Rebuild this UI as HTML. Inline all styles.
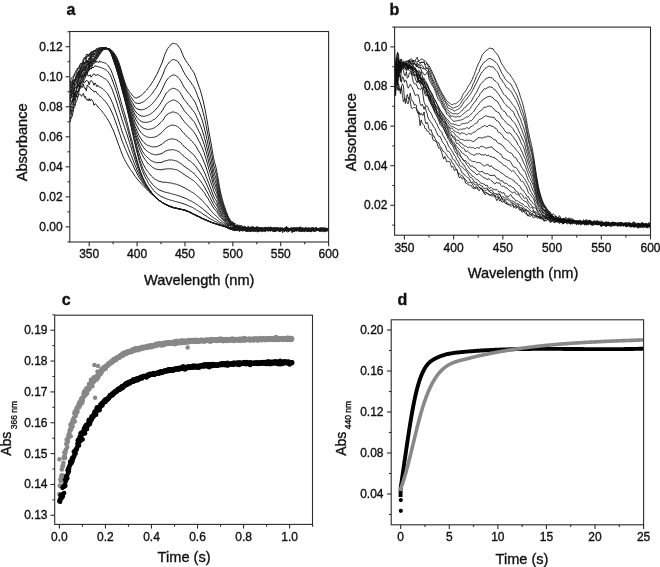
<!DOCTYPE html>
<html><head><meta charset="utf-8"><style>
html,body{margin:0;padding:0;background:#fff;}
body{width:660px;height:567px;position:relative;overflow:hidden;font-family:"Liberation Sans", sans-serif;}
text{stroke:#111;stroke-width:0.35px;}
</style></head><body>
<svg width="660" height="567" viewBox="0 0 660 567" style="position:absolute;left:0;top:0;will-change:transform" font-family='"Liberation Sans", sans-serif' fill="#111">
<defs>
<clipPath id="ca"><rect x="70" y="31.5" width="258.6" height="210.5"/></clipPath>
<clipPath id="cb"><rect x="394.6" y="27.1" width="255.9" height="208.1"/></clipPath>
<clipPath id="cc"><rect x="54.7" y="315.2" width="257.8" height="209.2"/></clipPath>
<clipPath id="cd"><rect x="391.2" y="319.8" width="252.4" height="205"/></clipPath>
</defs>
<g clip-path="url(#ca)">
<polyline points="70.05,100.95 71.01,101.1 71.96,101.4 72.92,99.74 73.88,100.03 74.84,97.36 75.79,94.3 76.75,97.27 77.71,97.01 78.67,94.46 79.62,94.38 80.58,94.59 81.54,96.35 82.5,94.52 83.45,93.25 84.41,97.5 85.37,96.29 86.33,99.67 87.28,99.17 88.24,100.93 89.2,98.52 90.16,101.01 91.12,99.11 92.07,100.17 93.03,101.56 93.99,105.21 94.95,103.79 95.9,104.27 96.86,105.16 97.82,107.19 98.78,107.63 99.73,108.85 100.69,109.87 101.65,110.86 102.61,112.31 103.56,113.46 104.52,114.62 105.48,116.12 106.44,117.46 107.39,118.9 108.35,120.48 109.31,122.32 110.27,123.97 111.22,125.74 112.18,128.11 113.14,129.95 114.1,132.35 115.06,134.98 116.01,137.31 116.97,140.13 117.93,142.96 118.89,145.4 119.84,148.01 120.8,150.76 121.76,153.23 122.72,155.71 123.67,157.75 124.63,159.57 125.59,161.61 126.55,163.2 127.5,164.89 128.46,166.35 129.42,167.99 130.38,169.35 131.33,170.72 132.29,171.99 133.25,173.34 134.21,174.99 135.16,176.25 136.12,177.36 137.08,178.93 138.04,179.97 139,181.11 139.95,182.1 140.91,183.27 141.87,184.47 142.83,185.51 143.78,186.5 144.74,187.26 145.7,188.45 146.66,189.37 147.61,190.21 148.57,191.18 149.53,192.09 150.49,193.11 151.44,193.89 152.4,194.86 153.36,195.57 154.32,196.52 155.27,197.46 156.23,198.21 157.19,199.11 158.15,199.68 159.1,200.47 160.06,201.04 161.02,201.89 161.98,202.31 162.94,203.15 163.89,203.77 164.85,204.13 165.81,204.73 166.77,205.12 167.72,205.35 168.68,206.18 169.64,206.57 170.6,206.86 171.55,207.17 172.51,207.55 173.47,207.82 174.43,207.93 175.38,208.15 176.34,208.52 177.3,208.59 178.26,208.76 179.21,209.09 180.17,209.15 181.13,209.53 182.09,209.55 183.04,209.91 184,210.19 184.96,210.56 185.92,210.81 186.88,211.37 187.83,211.65 188.79,211.9 189.75,212.66 190.71,212.8 191.66,213.62 192.62,213.82 193.58,214.51 194.54,214.79 195.49,215.33 196.45,216 197.41,216.13 198.37,216.57 199.32,217.21 200.28,217.69 201.24,218.13 202.2,218.66 203.15,218.84 204.11,219.46 205.07,219.81 206.03,220.3 206.98,220.67 207.94,221.14 208.9,221.21 209.86,221.76 210.82,221.99 211.77,222.46 212.73,222.89 213.69,223.19 214.65,223.54 215.6,223.8 216.56,224.16 217.52,224.45 218.48,224.89 219.43,225.11 220.39,225.11 221.35,225.67 222.31,226 223.26,226.11 224.22,226.27 225.18,226.93 226.14,227.14 227.09,227.6 228.05,228.34 229.01,227.79 229.97,228.36 230.92,228.54 231.88,229.2 232.84,228.55 233.8,229.31 234.76,229.09 235.71,229.9 236.67,230.02 237.63,228.03 238.59,229.52 239.54,228.92 240.5,229.21 241.46,229.56 242.42,229.63 243.37,228.75 244.33,229.51 245.29,229.41 246.25,229.28 247.2,228.38 248.16,228.78 249.12,229.03 250.08,229.78 251.03,230.44 251.99,228.58 252.95,228.57 253.91,229.45 254.86,228.91 255.82,228.72 256.78,228.68 257.74,228.61 258.7,229.7 259.65,228.13 260.61,230.33 261.57,228.65 262.53,228.95 263.48,228.64 264.44,227.84 265.4,228.16 266.36,230.25 267.31,230.68 268.27,228.69 269.23,230.15 270.19,229.35 271.14,228.67 272.1,230.65 273.06,231.02 274.02,229.13 274.97,229.3 275.93,229.54 276.89,229.31 277.85,230.02 278.8,230.54 279.76,229.47 280.72,230.11 281.68,230.65 282.64,228.94 283.59,229.39 284.55,229.02 285.51,230.13 286.47,229.86 287.42,230.13 288.38,230.05 289.34,229.18 290.3,229.96 291.25,229.06 292.21,229.07 293.17,227.73 294.13,230.45 295.08,228.63 296.04,229.41 297,229.35 297.96,230.49 298.91,229.71 299.87,228.75 300.83,229.41 301.79,229.28 302.74,229.57 303.7,228.42 304.66,229.36 305.62,231.09 306.58,229.89 307.53,230.91 308.49,231.93 309.45,229.76 310.41,228.28 311.36,229.3 312.32,230.27 313.28,230.09 314.24,228.44 315.19,229.21 316.15,229.3 317.11,229.38 318.07,229.31 319.02,228.7 319.98,228.9 320.94,229.17 321.9,230.17 322.85,228.93 323.81,229.88 324.77,228.47 325.73,230.35 326.68,229.45 327.64,229.35 328.6,230.39" fill="none" stroke="#1a1a1a" stroke-width="1.0" stroke-linejoin="round" opacity="1"/>
<polyline points="70.05,94.46 71.01,97.07 71.96,93.66 72.92,93.42 73.88,98.25 74.84,91.88 75.79,91.67 76.75,90.59 77.71,92.06 78.67,89.81 79.62,89.04 80.58,85.88 81.54,87.02 82.5,87.3 83.45,84.16 84.41,88.17 85.37,88.03 86.33,91.06 87.28,84.92 88.24,86.48 89.2,86.94 90.16,87.91 91.12,89.38 92.07,89.76 93.03,91 93.99,91.52 94.95,91.88 95.9,91.29 96.86,92.93 97.82,94.15 98.78,95.18 99.73,95.97 100.69,96.51 101.65,97.59 102.61,98.61 103.56,99.65 104.52,100.77 105.48,101.72 106.44,102.74 107.39,104.16 108.35,105.59 109.31,107.21 110.27,108.91 111.22,111.03 112.18,113.01 113.14,115.36 114.1,117.59 115.06,120.39 116.01,122.97 116.97,125.63 117.93,128.6 118.89,131.42 119.84,134.2 120.8,137.11 121.76,140.03 122.72,142.49 123.67,144.71 124.63,147.24 125.59,149.43 126.55,151.7 127.5,153.68 128.46,155.97 129.42,158.03 130.38,159.79 131.33,162.08 132.29,163.87 133.25,165.84 134.21,167.98 135.16,169.87 136.12,171.59 137.08,173.72 138.04,175.57 139,177.39 139.95,178.85 140.91,180.2 141.87,181.73 142.83,183.34 143.78,184.65 144.74,185.86 145.7,186.95 146.66,188.15 147.61,189.21 148.57,190.26 149.53,191.38 150.49,192.38 151.44,193.38 152.4,194.43 153.36,195.35 154.32,196.15 155.27,197.22 156.23,198.14 157.19,199.15 158.15,199.66 159.1,200.63 160.06,201.23 161.02,201.59 161.98,202.23 162.94,202.94 163.89,203.7 164.85,204.09 165.81,204.66 166.77,205 167.72,205.27 168.68,205.96 169.64,206.48 170.6,206.91 171.55,207.11 172.51,207.43 173.47,207.82 174.43,207.91 175.38,208.27 176.34,208.2 177.3,208.4 178.26,208.58 179.21,208.97 180.17,209.07 181.13,209.38 182.09,209.65 183.04,209.89 184,210.27 184.96,210.58 185.92,210.62 186.88,211.07 187.83,211.4 188.79,211.73 189.75,212.51 190.71,212.88 191.66,213.26 192.62,213.73 193.58,214.31 194.54,214.61 195.49,215.17 196.45,215.81 197.41,216.24 198.37,216.51 199.32,217.02 200.28,217.78 201.24,217.85 202.2,218.39 203.15,218.74 204.11,219.38 205.07,219.78 206.03,220.29 206.98,220.25 207.94,220.97 208.9,221.15 209.86,221.8 210.82,222.07 211.77,222.66 212.73,222.85 213.69,223.03 214.65,223.63 215.6,223.67 216.56,224.06 217.52,224.53 218.48,224.76 219.43,225.05 220.39,225.29 221.35,225.63 222.31,225.94 223.26,226.15 224.22,226.53 225.18,226.88 226.14,227.19 227.09,227.42 228.05,228.58 229.01,228.51 229.97,229.2 230.92,229.76 231.88,229.02 232.84,230.08 233.8,228.82 234.76,230.71 235.71,229.82 236.67,230.34 237.63,230.8 238.59,229.76 239.54,230.39 240.5,229.81 241.46,230.35 242.42,231.2 243.37,230.44 244.33,230.34 245.29,229.63 246.25,231.13 247.2,230.45 248.16,231.8 249.12,229.92 250.08,231.31 251.03,231.89 251.99,230.5 252.95,229.57 253.91,231.66 254.86,231.32 255.82,231.04 256.78,231.35 257.74,230.15 258.7,231.09 259.65,231.02 260.61,229.99 261.57,231.05 262.53,230.11 263.48,231.22 264.44,231.41 265.4,231.91 266.36,228.97 267.31,230.71 268.27,230.26 269.23,230.47 270.19,230.32 271.14,230.41 272.1,228.93 273.06,231.28 274.02,231.69 274.97,231.26 275.93,231.51 276.89,229.86 277.85,229.8 278.8,231.22 279.76,231.56 280.72,230.73 281.68,229.34 282.64,232.69 283.59,230.03 284.55,231.31 285.51,229.62 286.47,231.31 287.42,230.68 288.38,231.65 289.34,231.23 290.3,229.35 291.25,229.8 292.21,230.77 293.17,231.14 294.13,231.96 295.08,230.76 296.04,230.47 297,230.52 297.96,230.52 298.91,231.34 299.87,230.5 300.83,230.48 301.79,229.42 302.74,228.96 303.7,230.56 304.66,231.06 305.62,230.5 306.58,230.93 307.53,231.04 308.49,230.5 309.45,231.28 310.41,229.97 311.36,230.53 312.32,230.25 313.28,230.6 314.24,231.03 315.19,231.2 316.15,230.64 317.11,230.89 318.07,230.26 319.02,230.45 319.98,231.53 320.94,230.4 321.9,231.52 322.85,230.94 323.81,230.68 324.77,232.1 325.73,230.38 326.68,230.33 327.64,230.58 328.6,230.79" fill="none" stroke="#1a1a1a" stroke-width="1.0" stroke-linejoin="round" opacity="1"/>
<polyline points="70.05,96.1 71.01,93.56 71.96,92.96 72.92,90.61 73.88,92.04 74.84,88.26 75.79,87.47 76.75,87.04 77.71,86.67 78.67,83.87 79.62,87.35 80.58,82.54 81.54,82.27 82.5,81.61 83.45,81.01 84.41,82.78 85.37,81.97 86.33,80.31 87.28,80.85 88.24,81.46 89.2,84.93 90.16,81.23 91.12,80.52 92.07,81.22 93.03,82.75 93.99,85.27 94.95,82.9 95.9,84.44 96.86,86.65 97.82,85.19 98.78,86.64 99.73,87.02 100.69,87.44 101.65,87.97 102.61,88.96 103.56,89.69 104.52,90.37 105.48,91.28 106.44,92.43 107.39,93.56 108.35,95.05 109.31,96.55 110.27,98.12 111.22,100.04 112.18,102.29 113.14,104.57 114.1,107.3 115.06,109.88 116.01,112.58 116.97,115.46 117.93,118.25 118.89,121.25 119.84,124.37 120.8,127.33 121.76,130.46 122.72,133.34 123.67,135.69 124.63,138.26 125.59,140.7 126.55,143.45 127.5,145.82 128.46,148.37 129.42,150.9 130.38,153.54 131.33,155.78 132.29,158.12 133.25,160.66 134.21,163.21 135.16,165.5 136.12,167.73 137.08,170.45 138.04,172.36 139,174.4 139.95,176.35 140.91,178.05 141.87,179.86 142.83,181.6 143.78,183.14 144.74,184.53 145.7,186.05 146.66,187.28 147.61,188.39 148.57,189.45 149.53,190.84 150.49,191.95 151.44,193.03 152.4,193.99 153.36,195.21 154.32,196.04 155.27,197.28 156.23,198.07 157.19,198.89 158.15,199.54 159.1,200.22 160.06,201.2 161.02,201.78 161.98,202.26 162.94,202.98 163.89,203.66 164.85,203.9 165.81,204.48 166.77,204.97 167.72,205.54 168.68,205.79 169.64,206.34 170.6,206.55 171.55,207.13 172.51,207.43 173.47,207.58 174.43,207.93 175.38,208 176.34,208.26 177.3,208.6 178.26,208.67 179.21,208.92 180.17,208.98 181.13,209.4 182.09,209.61 183.04,209.65 184,209.79 184.96,210.1 185.92,210.65 186.88,210.96 187.83,211.18 188.79,211.8 189.75,212.35 190.71,212.69 191.66,213.13 192.62,213.77 193.58,214.35 194.54,214.79 195.49,215 196.45,215.64 197.41,216.05 198.37,216.48 199.32,216.92 200.28,217.51 201.24,217.88 202.2,218.51 203.15,218.9 204.11,219.41 205.07,219.57 206.03,220.12 206.98,220.62 207.94,220.97 208.9,221.35 209.86,221.63 210.82,222.28 211.77,222.58 212.73,222.85 213.69,222.84 214.65,223.36 215.6,223.81 216.56,224.01 217.52,224.15 218.48,224.72 219.43,225.02 220.39,225.12 221.35,225.48 222.31,225.74 223.26,226.16 224.22,226.16 225.18,226.5 226.14,227.02 227.09,227.37 228.05,228.61 229.01,228.1 229.97,228.79 230.92,228.78 231.88,228.85 232.84,229.65 233.8,230.79 234.76,229.4 235.71,230.32 236.67,230.03 237.63,230.29 238.59,230.11 239.54,231.71 240.5,228.93 241.46,229.72 242.42,229.06 243.37,228.39 244.33,229.97 245.29,231.44 246.25,230.73 247.2,230.99 248.16,230.44 249.12,229.98 250.08,231.65 251.03,229.78 251.99,231.26 252.95,229.82 253.91,230.15 254.86,230.31 255.82,230.12 256.78,230.49 257.74,230.55 258.7,231.4 259.65,230.08 260.61,228.59 261.57,228.48 262.53,229.01 263.48,229.5 264.44,230.6 265.4,228.91 266.36,230.1 267.31,230.11 268.27,230.29 269.23,229.98 270.19,230.4 271.14,230.12 272.1,230.92 273.06,230.36 274.02,228.24 274.97,230.11 275.93,230.25 276.89,229.63 277.85,229.49 278.8,230.94 279.76,230.22 280.72,229.33 281.68,229.84 282.64,229.96 283.59,228.82 284.55,230.6 285.51,229.99 286.47,230.47 287.42,228.87 288.38,231.61 289.34,230.59 290.3,230.48 291.25,229.53 292.21,229.58 293.17,228.95 294.13,231.31 295.08,229.46 296.04,230.29 297,230.59 297.96,229.63 298.91,230.79 299.87,231.71 300.83,230.35 301.79,231.25 302.74,230.57 303.7,229.76 304.66,229.81 305.62,228.8 306.58,230.22 307.53,231.28 308.49,230.66 309.45,230.79 310.41,231.03 311.36,229.71 312.32,230.57 313.28,231.63 314.24,229.5 315.19,230.15 316.15,229.77 317.11,229.97 318.07,229.56 319.02,230.03 319.98,229.07 320.94,229.72 321.9,229.75 322.85,229.73 323.81,231.22 324.77,230.19 325.73,230.26 326.68,229.89 327.64,231.14 328.6,228.76" fill="none" stroke="#1a1a1a" stroke-width="1.0" stroke-linejoin="round" opacity="1"/>
<polyline points="70.05,92.91 71.01,92.56 71.96,88.54 72.92,86.92 73.88,86.91 74.84,84.16 75.79,84.4 76.75,80.93 77.71,82.22 78.67,79.78 79.62,76.81 80.58,72.8 81.54,78.76 82.5,76.9 83.45,76.95 84.41,73.32 85.37,76.71 86.33,75.23 87.28,74.23 88.24,75.97 89.2,75.83 90.16,74.74 91.12,77.25 92.07,75.99 93.03,74.48 93.99,73.86 94.95,74.36 95.9,75.9 96.86,74.95 97.82,74.49 98.78,75.07 99.73,75.73 100.69,76.27 101.65,76.61 102.61,77.33 103.56,78 104.52,78.6 105.48,79 106.44,79.87 107.39,80.7 108.35,82.17 109.31,83.5 110.27,85.33 111.22,87.2 112.18,89.19 113.14,91.92 114.1,94.69 115.06,97.37 116.01,100.19 116.97,103.04 117.93,106.23 118.89,109.45 119.84,112.49 120.8,115.69 121.76,118.85 122.72,121.71 123.67,124.69 124.63,127.41 125.59,130.48 126.55,133.16 127.5,135.99 128.46,139.16 129.42,142.24 130.38,145.24 131.33,148.04 132.29,151.4 133.25,154.33 134.21,157.24 135.16,160.09 136.12,163.07 137.08,165.79 138.04,168.6 139,171.13 139.95,173.54 140.91,175.85 141.87,177.78 142.83,179.61 143.78,181.65 144.74,183.24 145.7,184.69 146.66,186.37 147.61,187.6 148.57,189.07 149.53,190.06 150.49,191.15 151.44,192.4 152.4,193.84 153.36,194.86 154.32,196.01 155.27,197.01 156.23,197.74 157.19,198.92 158.15,199.42 159.1,200.29 160.06,200.81 161.02,201.62 161.98,202.35 162.94,202.84 163.89,203.36 164.85,203.98 165.81,204.43 166.77,205.03 167.72,205.67 168.68,205.72 169.64,206.14 170.6,206.57 171.55,206.91 172.51,207.1 173.47,207.56 174.43,207.85 175.38,208.03 176.34,208.09 177.3,208.61 178.26,208.5 179.21,208.92 180.17,209.18 181.13,209.12 182.09,209.51 183.04,209.89 184,210.03 184.96,210.16 185.92,210.44 186.88,210.97 187.83,211.24 188.79,211.62 189.75,212.22 190.71,212.56 191.66,213.08 192.62,213.61 193.58,214.08 194.54,214.47 195.49,214.94 196.45,215.49 197.41,215.95 198.37,216.26 199.32,216.86 200.28,217.27 201.24,217.71 202.2,218.26 203.15,218.52 204.11,219.33 205.07,219.56 206.03,220.12 206.98,220.27 207.94,220.7 208.9,221.54 209.86,221.81 210.82,222 211.77,222.35 212.73,222.72 213.69,223.15 214.65,223.42 215.6,223.71 216.56,224.1 217.52,224.27 218.48,224.95 219.43,224.89 220.39,225.36 221.35,225.4 222.31,225.82 223.26,226.17 224.22,226.32 225.18,226.79 226.14,227.2 227.09,227.78 228.05,227.73 229.01,227.85 229.97,227.85 230.92,228.63 231.88,228.11 232.84,228.82 233.8,228.96 234.76,228.5 235.71,228.15 236.67,229.3 237.63,229.26 238.59,229.23 239.54,229.06 240.5,229.87 241.46,228.36 242.42,229.52 243.37,228.86 244.33,229.9 245.29,228.98 246.25,228.96 247.2,229.62 248.16,227.69 249.12,229.01 250.08,227.9 251.03,228.55 251.99,229.84 252.95,229.62 253.91,228.97 254.86,229.27 255.82,229.28 256.78,229.54 257.74,230.76 258.7,229.5 259.65,231.08 260.61,229.02 261.57,229.89 262.53,229.89 263.48,229.49 264.44,229.1 265.4,230.46 266.36,230.71 267.31,230.16 268.27,230.94 269.23,230.09 270.19,228.05 271.14,230.16 272.1,228.8 273.06,230.41 274.02,229.08 274.97,229.57 275.93,229.36 276.89,228.86 277.85,227.92 278.8,229.16 279.76,229.22 280.72,230.09 281.68,228.85 282.64,229.51 283.59,228.65 284.55,229.35 285.51,227.93 286.47,230.89 287.42,229.55 288.38,228.61 289.34,229.6 290.3,229.95 291.25,229.53 292.21,230.41 293.17,229.22 294.13,227.37 295.08,228.4 296.04,230.2 297,230.01 297.96,229.64 298.91,228.52 299.87,229.97 300.83,229.87 301.79,228.61 302.74,228.63 303.7,229.61 304.66,230.21 305.62,230.55 306.58,229.87 307.53,231.09 308.49,228.72 309.45,229.82 310.41,228.93 311.36,227.83 312.32,228.38 313.28,230.23 314.24,228.62 315.19,228.39 316.15,229.91 317.11,230.07 318.07,229.4 319.02,230.59 319.98,228.15 320.94,231.23 321.9,230.2 322.85,229.53 323.81,229.5 324.77,229.18 325.73,229.1 326.68,229.49 327.64,228.41 328.6,231.02" fill="none" stroke="#1a1a1a" stroke-width="1.0" stroke-linejoin="round" opacity="1"/>
<polyline points="70.05,89.11 71.01,86.1 71.96,84.55 72.92,85.36 73.88,83.49 74.84,79.41 75.79,78.95 76.75,79.59 77.71,73.01 78.67,71.2 79.62,77.25 80.58,72.74 81.54,67.4 82.5,69.71 83.45,69.92 84.41,70.03 85.37,70.12 86.33,69.07 87.28,69.39 88.24,66.61 89.2,68.51 90.16,68.23 91.12,69.13 92.07,67.05 93.03,68.02 93.99,66.93 94.95,65.57 95.9,66.29 96.86,66.31 97.82,66.61 98.78,66.95 99.73,67.21 100.69,67.49 101.65,67.7 102.61,68.33 103.56,68.48 104.52,69.1 105.48,69.71 106.44,70.23 107.39,71.05 108.35,72.14 109.31,73.7 110.27,75.08 111.22,77.24 112.18,79.79 113.14,82.23 114.1,85.09 115.06,87.63 116.01,90.43 116.97,93.51 117.93,96.83 118.89,99.96 119.84,103.01 120.8,106.57 121.76,109.93 122.72,112.97 123.67,115.85 124.63,119 125.59,122.24 126.55,125.45 127.5,128.76 128.46,132.3 129.42,135.77 130.38,139.03 131.33,142.55 132.29,145.9 133.25,149.34 134.21,152.47 135.16,156.14 136.12,159.29 137.08,162.51 138.04,165.57 139,168.44 139.95,171.32 140.91,173.82 141.87,176.25 142.83,178.34 143.78,180.19 144.74,182.11 145.7,183.95 146.66,185.48 147.61,186.94 148.57,188.31 149.53,189.79 150.49,191.06 151.44,192.53 152.4,193.7 153.36,194.56 154.32,196.14 155.27,196.95 156.23,197.81 157.19,198.73 158.15,199.58 159.1,200.24 160.06,200.94 161.02,201.62 161.98,202.48 162.94,202.87 163.89,203.53 164.85,204.03 165.81,204.43 166.77,204.85 167.72,205.25 168.68,205.83 169.64,206.04 170.6,206.37 171.55,206.71 172.51,206.98 173.47,207.45 174.43,207.72 175.38,207.86 176.34,208.35 177.3,208.38 178.26,208.67 179.21,208.85 180.17,209.22 181.13,209.33 182.09,209.45 183.04,209.57 184,209.82 184.96,210.22 185.92,210.54 186.88,210.96 187.83,211.19 188.79,211.67 189.75,212 190.71,212.31 191.66,212.99 192.62,213.63 193.58,214.02 194.54,214.55 195.49,214.98 196.45,215.16 197.41,215.78 198.37,216.49 199.32,216.72 200.28,217.15 201.24,217.84 202.2,218.36 203.15,218.78 204.11,219.15 205.07,219.54 206.03,219.91 206.98,220.33 207.94,220.74 208.9,221.13 209.86,221.61 210.82,222.26 211.77,222.46 212.73,222.77 213.69,223.19 214.65,223.36 215.6,223.83 216.56,224.2 217.52,224.21 218.48,224.59 219.43,224.92 220.39,225.11 221.35,225.37 222.31,225.73 223.26,226.34 224.22,226.42 225.18,226.72 226.14,227.18 227.09,227.27 228.05,227.26 229.01,228.13 229.97,228.72 230.92,227.34 231.88,228.83 232.84,229.46 233.8,228.51 234.76,228.37 235.71,229.31 236.67,228.16 237.63,229.21 238.59,229.59 239.54,228.75 240.5,228.3 241.46,229.45 242.42,228.7 243.37,229.06 244.33,226.76 245.29,229.59 246.25,227.94 247.2,229.09 248.16,229.16 249.12,228.49 250.08,228.36 251.03,228.07 251.99,228.82 252.95,229.55 253.91,229.51 254.86,228.67 255.82,228.61 256.78,227.96 257.74,228.74 258.7,228.23 259.65,227.87 260.61,228.95 261.57,230.26 262.53,230.02 263.48,230.22 264.44,227.81 265.4,229.75 266.36,228.1 267.31,228.61 268.27,227.71 269.23,228.28 270.19,229.16 271.14,229.24 272.1,229.01 273.06,228.94 274.02,229.5 274.97,229.1 275.93,227.8 276.89,230.43 277.85,228.87 278.8,229.8 279.76,228.93 280.72,228.41 281.68,229.12 282.64,228.46 283.59,230.34 284.55,228.2 285.51,229.56 286.47,228.58 287.42,228.93 288.38,231.13 289.34,229.68 290.3,228.9 291.25,227.84 292.21,228.85 293.17,228.87 294.13,230.2 295.08,227.94 296.04,227.64 297,229.05 297.96,229.25 298.91,230.37 299.87,228.37 300.83,226.93 301.79,228.51 302.74,228.07 303.7,228.65 304.66,229.86 305.62,228.01 306.58,230.06 307.53,229.24 308.49,228.86 309.45,228.37 310.41,228.75 311.36,228.77 312.32,229.68 313.28,230.1 314.24,229.03 315.19,229.64 316.15,230.12 317.11,230.08 318.07,229.47 319.02,230.55 319.98,230.15 320.94,230.38 321.9,228.93 322.85,228.75 323.81,227.48 324.77,230.27 325.73,229.62 326.68,228.35 327.64,229.25 328.6,229.34" fill="none" stroke="#1a1a1a" stroke-width="1.0" stroke-linejoin="round" opacity="1"/>
<polyline points="70.05,86.57 71.01,86.69 71.96,85.56 72.92,80.94 73.88,79.57 74.84,81.38 75.79,79.23 76.75,74.87 77.71,73.33 78.67,74.26 79.62,70.52 80.58,69.38 81.54,72.7 82.5,68.74 83.45,66.33 84.41,67.38 85.37,69.7 86.33,65.59 87.28,63.14 88.24,61.12 89.2,67.94 90.16,58.67 91.12,64.73 92.07,61.14 93.03,60.64 93.99,60.86 94.95,61.63 95.9,62.64 96.86,61.12 97.82,61.99 98.78,62.68 99.73,60.94 100.69,61.76 101.65,61.86 102.61,62.49 103.56,62.53 104.52,62.88 105.48,63.28 106.44,63.91 107.39,64.77 108.35,65.79 109.31,67.46 110.27,68.97 111.22,70.68 112.18,73.23 113.14,75.82 114.1,78.57 115.06,81.14 116.01,84.18 116.97,87.42 117.93,90.41 118.89,93.93 119.84,97.32 120.8,100.66 121.76,104.34 122.72,107.49 123.67,110.78 124.63,113.77 125.59,116.86 126.55,120.59 127.5,124.04 128.46,127.82 129.42,131.52 130.38,135.18 131.33,138.52 132.29,142.14 133.25,146.1 134.21,149.91 135.16,153.29 136.12,156.91 137.08,160.25 138.04,163.69 139,166.88 139.95,169.73 140.91,172.52 141.87,174.99 142.83,177.48 143.78,179.48 144.74,181.58 145.7,183.24 146.66,185.04 147.61,186.49 148.57,187.94 149.53,189.58 150.49,190.87 151.44,192.22 152.4,193.31 153.36,194.42 154.32,195.67 155.27,196.87 156.23,197.6 157.19,198.81 158.15,199.26 159.1,200.28 160.06,201.25 161.02,201.28 161.98,202.05 162.94,202.97 163.89,203.39 164.85,203.97 165.81,204.42 166.77,205.07 167.72,205.41 168.68,205.67 169.64,206.08 170.6,206.32 171.55,206.78 172.51,206.82 173.47,207.48 174.43,207.63 175.38,208.15 176.34,208.31 177.3,208.22 178.26,208.7 179.21,208.73 180.17,209 181.13,209.33 182.09,209.46 183.04,209.71 184,209.96 184.96,210.09 185.92,210.41 186.88,210.89 187.83,211.31 188.79,211.57 189.75,212.04 190.71,212.35 191.66,212.61 192.62,213.29 193.58,213.86 194.54,214.33 195.49,214.87 196.45,215.36 197.41,215.86 198.37,216.29 199.32,216.8 200.28,217.17 201.24,217.8 202.2,218.26 203.15,218.86 204.11,218.96 205.07,219.54 206.03,219.81 206.98,220.36 207.94,220.69 208.9,221.31 209.86,221.6 210.82,221.74 211.77,222.59 212.73,222.66 213.69,222.94 214.65,223.42 215.6,223.69 216.56,223.93 217.52,224.46 218.48,224.61 219.43,225.05 220.39,225.3 221.35,225.56 222.31,225.78 223.26,226.02 224.22,226.27 225.18,226.83 226.14,226.61 227.09,227.03 228.05,227.43 229.01,228.12 229.97,228.29 230.92,228.18 231.88,228.39 232.84,229.87 233.8,228.23 234.76,226.45 235.71,230.37 236.67,228.09 237.63,228.64 238.59,229.06 239.54,227.88 240.5,230 241.46,228.92 242.42,227.88 243.37,229.26 244.33,229.46 245.29,229.04 246.25,229.51 247.2,227.9 248.16,229.91 249.12,228.47 250.08,230.21 251.03,228.64 251.99,229.27 252.95,231.3 253.91,229.19 254.86,230.06 255.82,229.55 256.78,227.93 257.74,230.1 258.7,230.06 259.65,228.01 260.61,229.09 261.57,227.93 262.53,228.92 263.48,229.91 264.44,229.24 265.4,228.18 266.36,228.42 267.31,229.19 268.27,229.15 269.23,229.28 270.19,229.66 271.14,227.61 272.1,229.18 273.06,230.11 274.02,229.58 274.97,228.59 275.93,228.66 276.89,229.3 277.85,229.74 278.8,229.17 279.76,230.56 280.72,230.25 281.68,228.54 282.64,229.58 283.59,228.88 284.55,228.19 285.51,228.66 286.47,229.17 287.42,227.45 288.38,228.64 289.34,229.48 290.3,228.59 291.25,228.86 292.21,229.89 293.17,229.13 294.13,229.32 295.08,230.8 296.04,229.33 297,229.42 297.96,229.55 298.91,230.53 299.87,229.48 300.83,229.22 301.79,229.11 302.74,230.12 303.7,228.67 304.66,230.18 305.62,229.37 306.58,228.12 307.53,229.76 308.49,229.61 309.45,228.31 310.41,229.5 311.36,229.43 312.32,229.01 313.28,228.33 314.24,230.99 315.19,229.87 316.15,230.01 317.11,230.08 318.07,229.89 319.02,229.87 319.98,228.94 320.94,229.92 321.9,229.09 322.85,228.86 323.81,229.78 324.77,229.08 325.73,227.85 326.68,228.93 327.64,229.71 328.6,229.24" fill="none" stroke="#1a1a1a" stroke-width="1.0" stroke-linejoin="round" opacity="1"/>
<polyline points="70.05,122.22 71.01,118.15 71.96,116.83 72.92,112.8 73.88,107.94 74.84,106.62 75.79,102.5 76.75,100.59 77.71,97.06 78.67,93.61 79.62,87.71 80.58,88.35 81.54,86.3 82.5,84.3 83.45,81.88 84.41,78.98 85.37,77.62 86.33,73.57 87.28,73.92 88.24,70.73 89.2,70.42 90.16,68.45 91.12,68.95 92.07,66.06 93.03,64.47 93.99,63.1 94.95,62.87 95.9,59.59 96.86,58.91 97.82,57.5 98.78,55.92 99.73,54.39 100.69,52.84 101.65,51.74 102.61,50.6 103.56,49.66 104.52,49.26 105.48,49.12 106.44,48.97 107.39,48.87 108.35,48.7 109.31,48.55 110.27,49.27 111.22,49.81 112.18,50.82 113.14,51.92 114.1,52.86 115.06,54.42 116.01,56.02 116.97,57.9 117.93,60.03 118.89,62.47 119.84,65.27 120.8,68.47 121.76,72.2 122.72,75.18 123.67,78.48 124.63,81.47 125.59,84.27 126.55,86.65 127.5,88.5 128.46,90.11 129.42,91.47 130.38,92.73 131.33,93.93 132.29,95.19 133.25,96.2 134.21,97.24 135.16,97.76 136.12,98.13 137.08,97.51 138.04,97.33 139,96.88 139.95,96.23 140.91,95.55 141.87,94.89 142.83,93.93 143.78,93.09 144.74,91.95 145.7,90.92 146.66,90.03 147.61,88.7 148.57,87.62 149.53,86.34 150.49,85.12 151.44,83.64 152.4,82.03 153.36,80.73 154.32,78.86 155.27,77.18 156.23,75.39 157.19,73.79 158.15,71.55 159.1,69.39 160.06,67.4 161.02,65.07 161.98,63.04 162.94,60.02 163.89,57.3 164.85,54.33 165.81,52.29 166.77,50.12 167.72,48.55 168.68,46.99 169.64,46.08 170.6,45.1 171.55,43.88 172.51,43.61 173.47,43.35 174.43,43.43 175.38,43.86 176.34,44.06 177.3,44.6 178.26,45.93 179.21,47.4 180.17,48.62 181.13,50.71 182.09,53.08 183.04,55.34 184,57.54 184.96,59.14 185.92,60.84 186.88,62.35 187.83,63.54 188.79,65.15 189.75,66.19 190.71,67.89 191.66,69.47 192.62,70.75 193.58,72.17 194.54,74.09 195.49,76.51 196.45,79.18 197.41,82.01 198.37,84.89 199.32,87.53 200.28,90.14 201.24,93.44 202.2,97.11 203.15,100.85 204.11,105.09 205.07,109.64 206.03,114.68 206.98,119.82 207.94,125.62 208.9,131.72 209.86,136.88 210.82,141.98 211.77,147.37 212.73,153.34 213.69,158.8 214.65,162.69 215.6,165.91 216.56,170.12 217.52,175.39 218.48,180.8 219.43,186.64 220.39,191.3 221.35,195.48 222.31,199.2 223.26,202.58 224.22,205.56 225.18,208.25 226.14,211.47 227.09,213.43 228.05,216.34 229.01,218.4 229.97,219.3 230.92,221.04 231.88,223.17 232.84,222.18 233.8,225.03 234.76,225.08 235.71,225.76 236.67,225.33 237.63,227.31 238.59,226.6 239.54,228.4 240.5,227.25 241.46,229.01 242.42,228.87 243.37,227.19 244.33,228.55 245.29,228.81 246.25,227.19 247.2,228.75 248.16,229.75 249.12,228.56 250.08,230.12 251.03,228.31 251.99,228.28 252.95,229.73 253.91,229.8 254.86,229.19 255.82,229.35 256.78,230.16 257.74,228.95 258.7,231.05 259.65,229.8 260.61,229.79 261.57,229.71 262.53,229.27 263.48,230.51 264.44,229.08 265.4,229.71 266.36,230.1 267.31,230.69 268.27,230.56 269.23,229.34 270.19,230.41 271.14,229.61 272.1,228.83 273.06,228.86 274.02,228.46 274.97,229.95 275.93,230.59 276.89,228.93 277.85,229.5 278.8,228.87 279.76,229.77 280.72,228.84 281.68,229.13 282.64,229.24 283.59,229.43 284.55,229.52 285.51,229.67 286.47,229.69 287.42,229.1 288.38,230.31 289.34,228.53 290.3,230.01 291.25,229.16 292.21,230.03 293.17,230.18 294.13,228.38 295.08,230.26 296.04,231.04 297,230.61 297.96,230.31 298.91,228.36 299.87,229.93 300.83,229.36 301.79,230.92 302.74,229.86 303.7,229.62 304.66,228.73 305.62,230.74 306.58,229.72 307.53,229.97 308.49,231.04 309.45,230.26 310.41,230.47 311.36,232.12 312.32,229.81 313.28,229.87 314.24,230.67 315.19,231.4 316.15,229.17 317.11,230.15 318.07,229.57 319.02,229.27 319.98,230.82 320.94,229.77 321.9,230.63 322.85,230.5 323.81,230.53 324.77,230.48 325.73,229.6 326.68,230.4 327.64,230.64 328.6,230.75" fill="none" stroke="#1a1a1a" stroke-width="1.0" stroke-linejoin="round" opacity="1"/>
<polyline points="70.05,119.48 71.01,115.84 71.96,112.15 72.92,109.61 73.88,105.98 74.84,103.47 75.79,97.27 76.75,94.87 77.71,92.76 78.67,90.41 79.62,85.16 80.58,85.03 81.54,83.4 82.5,80.96 83.45,79.06 84.41,75.91 85.37,75.75 86.33,71.51 87.28,73.29 88.24,69.8 89.2,70.2 90.16,65.51 91.12,66.29 92.07,64.53 93.03,62.28 93.99,60.72 94.95,60.99 95.9,59.16 96.86,58.37 97.82,56.38 98.78,55.09 99.73,53.75 100.69,52.44 101.65,51.22 102.61,50.28 103.56,49.42 104.52,48.93 105.48,49.17 106.44,48.82 107.39,48.79 108.35,48.71 109.31,49.01 110.27,49.47 111.22,50.54 112.18,51.42 113.14,52.62 114.1,53.93 115.06,55.31 116.01,57.1 116.97,59.31 117.93,61.4 118.89,63.99 119.84,66.9 120.8,70.09 121.76,73.54 122.72,77.14 123.67,80.21 124.63,83.06 125.59,86 126.55,88.71 127.5,90.83 128.46,92.67 129.42,94.42 130.38,96.17 131.33,97.49 132.29,99.05 133.25,100.42 134.21,101.52 135.16,102.75 136.12,103.16 137.08,103.28 138.04,103.31 139,103.38 139.95,103.21 140.91,103.09 141.87,102.4 142.83,102.02 143.78,101.62 144.74,100.81 145.7,100 146.66,99.27 147.61,98.26 148.57,97.37 149.53,96.6 150.49,95.48 151.44,94.51 152.4,93.13 153.36,91.88 154.32,90.22 155.27,89.1 156.23,87.84 157.19,86.05 158.15,84.25 159.1,82.62 160.06,80.71 161.02,78.71 161.98,76.6 162.94,74.33 163.89,71.87 164.85,69.22 165.81,67.3 166.77,65.65 167.72,64.29 168.68,62.96 169.64,61.82 170.6,61.27 171.55,60.34 172.51,59.7 173.47,59.64 174.43,59.71 175.38,60.2 176.34,60.36 177.3,60.95 178.26,62.01 179.21,63.49 180.17,64.83 181.13,66.48 182.09,68.52 183.04,70.78 184,72.46 184.96,74.22 185.92,75.6 186.88,76.97 187.83,78.28 188.79,79.83 189.75,80.83 190.71,82.11 191.66,83.8 192.62,85.19 193.58,86.41 194.54,88.16 195.49,90.41 196.45,92.65 197.41,95.44 198.37,97.96 199.32,100.04 200.28,102.87 201.24,105.91 202.2,109.02 203.15,112.66 204.11,116.45 205.07,120.56 206.03,125.24 206.98,130.01 207.94,134.97 208.9,140.36 209.86,145.27 210.82,149.98 211.77,154.84 212.73,160.19 213.69,165.15 214.65,168.42 215.6,171.89 216.56,175.41 217.52,180.2 218.48,185.31 219.43,190.31 220.39,194.46 221.35,198.39 222.31,201.7 223.26,204.83 224.22,207.68 225.18,210.26 226.14,212.48 227.09,215.16 228.05,216.68 229.01,218.42 229.97,220.1 230.92,221.46 231.88,222.76 232.84,221.6 233.8,224.59 234.76,223.03 235.71,224.37 236.67,225.62 237.63,226.71 238.59,225.37 239.54,225.19 240.5,227.62 241.46,227.35 242.42,226.43 243.37,227.11 244.33,225.88 245.29,228.01 246.25,227.2 247.2,228.69 248.16,226.08 249.12,228.37 250.08,229.58 251.03,227.95 251.99,227.99 252.95,226.38 253.91,228.2 254.86,227.97 255.82,227.51 256.78,226.74 257.74,228.08 258.7,227.22 259.65,227.65 260.61,228.32 261.57,228.04 262.53,228.1 263.48,228.87 264.44,227.19 265.4,229.27 266.36,227.25 267.31,227.44 268.27,228.29 269.23,228.84 270.19,228.42 271.14,227.88 272.1,227.67 273.06,228.05 274.02,227.5 274.97,228.74 275.93,228.13 276.89,229.57 277.85,227.73 278.8,228.22 279.76,228.69 280.72,227.45 281.68,227.83 282.64,230.63 283.59,228.37 284.55,229.57 285.51,227.58 286.47,226.46 287.42,228.87 288.38,228.41 289.34,228.68 290.3,228.22 291.25,228 292.21,227.5 293.17,229.33 294.13,227.3 295.08,229.31 296.04,228.36 297,227.68 297.96,228.04 298.91,229.37 299.87,229.2 300.83,229.02 301.79,228.71 302.74,227.77 303.7,229.72 304.66,228.34 305.62,228.24 306.58,228.29 307.53,228.38 308.49,227.56 309.45,228.39 310.41,228.11 311.36,228.36 312.32,227.39 313.28,230.34 314.24,227.83 315.19,229.07 316.15,229.1 317.11,229.66 318.07,230.39 319.02,229.22 319.98,229.47 320.94,228.54 321.9,230.12 322.85,227.82 323.81,228.76 324.77,229.19 325.73,229.56 326.68,229.64 327.64,229.92 328.6,229.47" fill="none" stroke="#1a1a1a" stroke-width="1.0" stroke-linejoin="round" opacity="1"/>
<polyline points="70.05,114.76 71.01,113.19 71.96,108.84 72.92,106.6 73.88,102.41 74.84,97.48 75.79,95.95 76.75,94.01 77.71,92.56 78.67,89.5 79.62,87.3 80.58,82.24 81.54,81.94 82.5,79.04 83.45,78.01 84.41,75.38 85.37,72.1 86.33,72.87 87.28,70.86 88.24,69.85 89.2,66.38 90.16,67.04 91.12,65.62 92.07,64.36 93.03,62.9 93.99,60.07 94.95,57.48 95.9,58.47 96.86,56.31 97.82,55.47 98.78,54.64 99.73,53.11 100.69,51.88 101.65,50.87 102.61,49.68 103.56,49.51 104.52,48.91 105.48,48.78 106.44,48.78 107.39,48.68 108.35,48.73 109.31,49.07 110.27,49.7 111.22,50.72 112.18,52.29 113.14,53.18 114.1,54.53 115.06,56.29 116.01,58.13 116.97,60.6 117.93,62.89 118.89,65.62 119.84,68.55 120.8,71.73 121.76,75.44 122.72,78.7 123.67,82.06 124.63,85.02 125.59,88 126.55,90.7 127.5,92.99 128.46,94.83 129.42,97.23 130.38,99.12 131.33,100.9 132.29,102.38 133.25,103.96 134.21,105.85 135.16,107.34 136.12,108.17 137.08,108.61 138.04,109.31 139,109.37 139.95,109.62 140.91,109.9 141.87,109.79 142.83,109.61 143.78,109.22 144.74,109.17 145.7,108.47 146.66,108.18 147.61,107.65 148.57,106.88 149.53,106.18 150.49,105.48 151.44,104.7 152.4,103.7 153.36,102.42 154.32,101.28 155.27,100.27 156.23,98.94 157.19,97.78 158.15,96.29 159.1,94.73 160.06,93.3 161.02,91.62 161.98,89.75 162.94,87.77 163.89,85.64 164.85,83.33 165.81,81.59 166.77,80.01 167.72,78.86 168.68,77.82 169.64,76.94 170.6,76.27 171.55,75.69 172.51,75.21 173.47,74.93 174.43,75.1 175.38,75.35 176.34,76.14 177.3,76.51 178.26,77.4 179.21,78.45 180.17,79.83 181.13,81.55 182.09,83.32 183.04,85.29 184,87.08 184.96,88.18 185.92,89.54 186.88,91.01 187.83,92.1 188.79,93.51 189.75,94.49 190.71,95.89 191.66,97.25 192.62,98.46 193.58,99.84 194.54,101.23 195.49,103.11 196.45,105.52 197.41,108.07 198.37,110.69 199.32,112.43 200.28,115.05 201.24,117.47 202.2,120.3 203.15,123.58 204.11,127.13 205.07,130.97 206.03,135.1 206.98,139.47 207.94,144.19 208.9,149.02 209.86,153.19 210.82,157.57 211.77,161.84 212.73,166.92 213.69,171.19 214.65,174.39 215.6,177.15 216.56,180.36 217.52,184.63 218.48,189.47 219.43,194.08 220.39,197.63 221.35,201.18 222.31,204.24 223.26,206.83 224.22,209.41 225.18,211.78 226.14,214.08 227.09,215.43 228.05,217.73 229.01,219.21 229.97,220.75 230.92,222.46 231.88,223.43 232.84,223.18 233.8,223.87 234.76,224.94 235.71,226.2 236.67,226.85 237.63,226.38 238.59,227.65 239.54,226.1 240.5,226.18 241.46,225.06 242.42,226.76 243.37,228.03 244.33,228.34 245.29,230.47 246.25,228.26 247.2,227.98 248.16,227.12 249.12,227.44 250.08,227.49 251.03,227.82 251.99,227.49 252.95,226.89 253.91,228.91 254.86,228.45 255.82,229.21 256.78,226.84 257.74,227.11 258.7,227.57 259.65,229.14 260.61,228.06 261.57,228.4 262.53,228.17 263.48,228.4 264.44,227.85 265.4,228.59 266.36,227.61 267.31,228.11 268.27,228.55 269.23,228.42 270.19,228.69 271.14,227.7 272.1,228.58 273.06,228.14 274.02,228.69 274.97,229.57 275.93,227.68 276.89,229.25 277.85,227.88 278.8,228.1 279.76,229.76 280.72,229.21 281.68,228.87 282.64,229.13 283.59,229.43 284.55,227.91 285.51,228.7 286.47,228.21 287.42,228.87 288.38,228.3 289.34,229.15 290.3,228.59 291.25,228.12 292.21,228.56 293.17,228.97 294.13,229.48 295.08,228.5 296.04,228.37 297,228.86 297.96,229.28 298.91,228.25 299.87,226.72 300.83,228.95 301.79,228.45 302.74,228.43 303.7,230.79 304.66,228.66 305.62,229.33 306.58,227.68 307.53,229 308.49,229.43 309.45,228.99 310.41,228.7 311.36,229.29 312.32,228.9 313.28,229.95 314.24,229.06 315.19,228.28 316.15,227.34 317.11,228.35 318.07,228.71 319.02,228 319.98,228.14 320.94,227.64 321.9,228.11 322.85,229.08 323.81,228.79 324.77,228.86 325.73,228.78 326.68,228.87 327.64,229.66 328.6,230.73" fill="none" stroke="#1a1a1a" stroke-width="1.0" stroke-linejoin="round" opacity="1"/>
<polyline points="70.05,113.57 71.01,108.24 71.96,105.45 72.92,104.58 73.88,98.99 74.84,95.98 75.79,94.03 76.75,89.28 77.71,86.18 78.67,87.08 79.62,82.03 80.58,80.57 81.54,78.6 82.5,76.12 83.45,76.27 84.41,74.39 85.37,72.99 86.33,71.31 87.28,69.01 88.24,69.13 89.2,67.22 90.16,63.97 91.12,63.3 92.07,61.55 93.03,62.17 93.99,59.94 94.95,58.52 95.9,56.99 96.86,56.2 97.82,54.47 98.78,53.69 99.73,52.51 100.69,51.42 101.65,50.37 102.61,49.72 103.56,48.97 104.52,48.77 105.48,48.69 106.44,48.63 107.39,48.61 108.35,48.77 109.31,49.15 110.27,49.96 111.22,51.04 112.18,52.51 113.14,53.84 114.1,55.58 115.06,57.56 116.01,59.12 116.97,61.55 117.93,64.23 118.89,66.85 119.84,69.96 120.8,73 121.76,76.71 122.72,80.32 123.67,83.25 124.63,86.57 125.59,89.37 126.55,92.47 127.5,95.08 128.46,97.18 129.42,99.49 130.38,101.65 131.33,103.91 132.29,105.6 133.25,107.42 134.21,109.79 135.16,111.08 136.12,112.48 137.08,113.11 138.04,114.16 139,114.92 139.95,115.33 140.91,115.82 141.87,116.22 142.83,116.18 143.78,116.32 144.74,116.37 145.7,115.73 146.66,115.78 147.61,115.47 148.57,114.93 149.53,114.65 150.49,114.06 151.44,113.34 152.4,112.66 153.36,111.83 154.32,110.86 155.27,110.11 156.23,108.95 157.19,107.81 158.15,106.8 159.1,105.35 160.06,104.13 161.02,102.47 161.98,101.04 162.94,99.33 163.89,97.56 164.85,95.51 165.81,94.03 166.77,92.62 167.72,91.61 168.68,90.76 169.64,89.85 170.6,89.28 171.55,88.89 172.51,88.31 173.47,88.38 174.43,88.56 175.38,88.83 176.34,89.34 177.3,89.81 178.26,90.59 179.21,91.42 180.17,92.61 181.13,94.38 182.09,95.91 183.04,97.84 184,99.28 184.96,100.51 185.92,101.79 186.88,102.73 187.83,104.16 188.79,105.46 189.75,106.29 190.71,107.65 191.66,108.84 192.62,110.35 193.58,111.11 194.54,112.53 195.49,114.27 196.45,116.45 197.41,118.65 198.37,120.92 199.32,122.83 200.28,125.22 201.24,127.64 202.2,130.16 203.15,133.15 204.11,136.52 205.07,139.83 206.03,143.66 206.98,147.67 207.94,151.8 208.9,156.25 209.86,160.41 210.82,164.2 211.77,167.84 212.73,172.71 213.69,176.41 214.65,179.24 215.6,181.82 216.56,185.01 217.52,188.7 218.48,192.92 219.43,197 220.39,200.66 221.35,203.74 222.31,206.25 223.26,208.79 224.22,211.19 225.18,213.4 226.14,215.27 227.09,217.22 228.05,218.7 229.01,220.94 229.97,221.59 230.92,222.73 231.88,224.19 232.84,224.17 233.8,224.96 234.76,225.89 235.71,225.72 236.67,227.57 237.63,226.85 238.59,226.81 239.54,227.22 240.5,226.84 241.46,228.85 242.42,229.23 243.37,227.93 244.33,227.84 245.29,226.59 246.25,227.84 247.2,229.08 248.16,227.79 249.12,229.14 250.08,229.68 251.03,226.44 251.99,228.28 252.95,228 253.91,228.14 254.86,227.16 255.82,228.4 256.78,227.67 257.74,229.48 258.7,229.79 259.65,227.56 260.61,227.54 261.57,228.32 262.53,228.56 263.48,228.62 264.44,229.31 265.4,227.55 266.36,228.27 267.31,228.4 268.27,228.51 269.23,227.99 270.19,228.43 271.14,228.25 272.1,229.78 273.06,228.46 274.02,227.13 274.97,229.3 275.93,228.99 276.89,228.19 277.85,228.15 278.8,228.42 279.76,230.22 280.72,228.54 281.68,229.89 282.64,229.61 283.59,228.53 284.55,229.21 285.51,228.34 286.47,226.49 287.42,228.39 288.38,228.44 289.34,229.74 290.3,229.55 291.25,229.9 292.21,229.49 293.17,229.94 294.13,229.61 295.08,229.27 296.04,229.91 297,230.25 297.96,230.22 298.91,228.78 299.87,229.11 300.83,228.35 301.79,228.35 302.74,229.46 303.7,228.67 304.66,230.36 305.62,227.41 306.58,228.28 307.53,229.42 308.49,230.18 309.45,228.97 310.41,230.77 311.36,229.91 312.32,228.7 313.28,229.25 314.24,229.71 315.19,228.58 316.15,230.17 317.11,229.13 318.07,229.76 319.02,230.05 319.98,229.02 320.94,230.19 321.9,227.89 322.85,229.88 323.81,227.84 324.77,230.31 325.73,228.96 326.68,230.41 327.64,230.53 328.6,229.35" fill="none" stroke="#1a1a1a" stroke-width="1.0" stroke-linejoin="round" opacity="1"/>
<polyline points="70.05,109.75 71.01,104.12 71.96,103.7 72.92,99.89 73.88,96.89 74.84,93.95 75.79,94.02 76.75,87.23 77.71,85.72 78.67,84.27 79.62,82.63 80.58,81.32 81.54,78.98 82.5,74.91 83.45,74.21 84.41,73.45 85.37,71.13 86.33,67.16 87.28,67.92 88.24,66.81 89.2,63.19 90.16,62.93 91.12,62.08 92.07,61.41 93.03,60.91 93.99,59.3 94.95,57.61 95.9,56.33 96.86,55.03 97.82,53.97 98.78,53.04 99.73,51.99 100.69,51.16 101.65,50.42 102.61,49.52 103.56,49.07 104.52,48.79 105.48,48.65 106.44,48.71 107.39,48.78 108.35,48.96 109.31,49.39 110.27,50.3 111.22,51.39 112.18,52.96 113.14,54.66 114.1,56.25 115.06,57.88 116.01,60.26 116.97,62.41 117.93,64.99 118.89,67.79 119.84,71.15 120.8,74.25 121.76,78.01 122.72,81.43 123.67,84.64 124.63,87.78 125.59,90.98 126.55,93.88 127.5,96.34 128.46,99.14 129.42,101.64 130.38,103.78 131.33,106.07 132.29,108.26 133.25,110.73 134.21,112.66 135.16,114.63 136.12,115.96 137.08,117.61 138.04,118.57 139,119.62 139.95,120.63 140.91,121.21 141.87,121.51 142.83,122.07 143.78,122.34 144.74,122.28 145.7,122.31 146.66,122.29 147.61,122.37 148.57,122.06 149.53,121.62 150.49,121.47 151.44,121.07 152.4,120.4 153.36,119.75 154.32,119.43 155.27,118.87 156.23,117.89 157.19,116.9 158.15,115.79 159.1,114.61 160.06,113.55 161.02,112.4 161.98,111.01 162.94,109.61 163.89,107.81 164.85,106.25 165.81,104.46 166.77,103.62 167.72,102.86 168.68,102.08 169.64,101.41 170.6,101.05 171.55,100.49 172.51,100.18 173.47,99.92 174.43,100.27 175.38,100.62 176.34,101.09 177.3,101.54 178.26,102.17 179.21,103.13 180.17,104.07 181.13,105.7 182.09,107.1 183.04,108.78 184,110.18 184.96,111.61 185.92,112.65 186.88,113.51 187.83,114.52 188.79,115.72 189.75,116.71 190.71,117.94 191.66,119.07 192.62,120.21 193.58,121.18 194.54,122.56 195.49,124.24 196.45,126.29 197.41,128.29 198.37,130.23 199.32,132.25 200.28,133.97 201.24,136.41 202.2,138.91 203.15,141.41 204.11,144.37 205.07,147.71 206.03,151.07 206.98,154.85 207.94,158.71 208.9,162.86 209.86,166.11 210.82,169.99 211.77,173.31 212.73,177.57 213.69,181.14 214.65,183.68 215.6,185.98 216.56,188.64 217.52,191.96 218.48,196.01 219.43,199.73 220.39,203.08 221.35,205.66 222.31,208.26 223.26,210.65 224.22,212.72 225.18,214.64 226.14,216.42 227.09,218.06 228.05,219.87 229.01,221.33 229.97,221.77 230.92,223.88 231.88,224.14 232.84,223.43 233.8,227 234.76,226.07 235.71,225.4 236.67,227.62 237.63,224.58 238.59,229.02 239.54,226.09 240.5,226.22 241.46,226.91 242.42,227.94 243.37,227.56 244.33,228.64 245.29,227.35 246.25,228.94 247.2,228.31 248.16,227.34 249.12,229.05 250.08,228.48 251.03,228.08 251.99,229.3 252.95,227.33 253.91,228 254.86,229.5 255.82,228.35 256.78,228.94 257.74,228.87 258.7,228.3 259.65,228.94 260.61,227.62 261.57,228.96 262.53,227.63 263.48,228.46 264.44,227.76 265.4,228.88 266.36,228.86 267.31,229.39 268.27,228.02 269.23,227.74 270.19,226.81 271.14,227.48 272.1,228.32 273.06,228.69 274.02,228.23 274.97,228.57 275.93,227.39 276.89,227.81 277.85,229.23 278.8,229.12 279.76,227.5 280.72,228.35 281.68,228.79 282.64,227.67 283.59,228.93 284.55,228.85 285.51,229 286.47,230.21 287.42,227.97 288.38,229.63 289.34,229.13 290.3,229.28 291.25,228.12 292.21,228.76 293.17,228.7 294.13,230.06 295.08,228.81 296.04,229.92 297,228.51 297.96,228.48 298.91,228.79 299.87,227.16 300.83,228.38 301.79,228.34 302.74,228.71 303.7,228.98 304.66,228.07 305.62,227.97 306.58,229.9 307.53,228.03 308.49,228.47 309.45,228.13 310.41,228.53 311.36,229.9 312.32,229.85 313.28,227.48 314.24,228.74 315.19,230.08 316.15,228.68 317.11,229.26 318.07,230.44 319.02,230.81 319.98,230.27 320.94,228.79 321.9,229.05 322.85,229.22 323.81,228.81 324.77,228.56 325.73,230.72 326.68,229.3 327.64,229.73 328.6,230.06" fill="none" stroke="#1a1a1a" stroke-width="1.0" stroke-linejoin="round" opacity="1"/>
<polyline points="70.05,105.38 71.01,102.93 71.96,101.71 72.92,97.97 73.88,92.46 74.84,93.48 75.79,91.61 76.75,86.65 77.71,83.63 78.67,81.28 79.62,80.88 80.58,76.36 81.54,76.55 82.5,75.17 83.45,72.86 84.41,70.65 85.37,68.14 86.33,66.78 87.28,66.16 88.24,63.71 89.2,63.41 90.16,61.26 91.12,62.38 92.07,61.21 93.03,57.99 93.99,58.52 94.95,56.61 95.9,55.45 96.86,54.68 97.82,53.69 98.78,52.12 99.73,52.08 100.69,50.54 101.65,49.58 102.61,49.23 103.56,48.8 104.52,48.5 105.48,48.3 106.44,48.63 107.39,48.61 108.35,49.02 109.31,49.49 110.27,50.44 111.22,51.68 112.18,53.41 113.14,55.1 114.1,57.03 115.06,58.99 116.01,61.12 116.97,63.58 117.93,66.39 118.89,68.95 119.84,72.31 120.8,75.92 121.76,79.17 122.72,82.79 123.67,85.88 124.63,89.22 125.59,92.39 126.55,95.39 127.5,98.28 128.46,100.96 129.42,103.39 130.38,106.48 131.33,108.72 132.29,111.15 133.25,113.79 134.21,116.25 135.16,117.99 136.12,120.08 137.08,121.39 138.04,123.04 139,124.39 139.95,125.48 140.91,126.42 141.87,127.14 142.83,127.86 143.78,128.39 144.74,128.76 145.7,128.89 146.66,129.15 147.61,129.45 148.57,129.39 149.53,129.18 150.49,129.14 151.44,128.91 152.4,128.71 153.36,128.28 154.32,127.76 155.27,127.16 156.23,126.64 157.19,125.66 158.15,125.12 159.1,123.85 160.06,123.17 161.02,122.23 161.98,121.27 162.94,120.26 163.89,118.5 164.85,117.07 165.81,115.68 166.77,115.18 167.72,113.98 168.68,113.57 169.64,112.96 170.6,112.95 171.55,112.25 172.51,112.07 173.47,111.93 174.43,112.2 175.38,112.66 176.34,112.79 177.3,113.27 178.26,113.97 179.21,114.79 180.17,115.77 181.13,117.2 182.09,118.8 183.04,120.23 184,121.15 184.96,122.31 185.92,123.42 186.88,124.5 187.83,125.46 188.79,126.44 189.75,127.47 190.71,128.53 191.66,129.24 192.62,130.51 193.58,131.69 194.54,132.99 195.49,134.4 196.45,136.09 197.41,138.01 198.37,139.88 199.32,141.58 200.28,143.48 201.24,145.65 202.2,147.61 203.15,150.15 204.11,152.53 205.07,155.82 206.03,158.85 206.98,161.96 207.94,165.61 208.9,169.31 209.86,172.56 210.82,175.6 211.77,178.83 212.73,182.54 213.69,185.61 214.65,187.98 215.6,190.19 216.56,192.66 217.52,195.8 218.48,199.18 219.43,202.52 220.39,205.47 221.35,207.89 222.31,210.26 223.26,212.49 224.22,214.35 225.18,215.88 226.14,217.63 227.09,218.95 228.05,220.83 229.01,221.81 229.97,222.6 230.92,223.58 231.88,225.26 232.84,225.72 233.8,226.1 234.76,227.51 235.71,226.73 236.67,226.62 237.63,228.12 238.59,226.45 239.54,228.49 240.5,228.63 241.46,228.82 242.42,229.31 243.37,228.49 244.33,228.88 245.29,227.63 246.25,228.52 247.2,228.62 248.16,229.26 249.12,230.24 250.08,229.21 251.03,229.83 251.99,228.42 252.95,229.22 253.91,227.89 254.86,228.64 255.82,228.58 256.78,229.07 257.74,229.1 258.7,228.76 259.65,228.56 260.61,229.88 261.57,228.93 262.53,227.25 263.48,229.42 264.44,229.56 265.4,229.92 266.36,230.53 267.31,228.44 268.27,229.34 269.23,229.16 270.19,227.94 271.14,227.42 272.1,230.13 273.06,228.59 274.02,228.94 274.97,229.13 275.93,229.07 276.89,229.48 277.85,228.2 278.8,228.99 279.76,229.21 280.72,228.5 281.68,228.78 282.64,229.14 283.59,229.25 284.55,228.12 285.51,229.12 286.47,229.61 287.42,230.23 288.38,229.83 289.34,230.4 290.3,229.49 291.25,229.38 292.21,231.22 293.17,229.59 294.13,229.09 295.08,229.49 296.04,230.39 297,228.63 297.96,230.2 298.91,230.63 299.87,230.53 300.83,229.69 301.79,228.9 302.74,228.77 303.7,229.54 304.66,230.66 305.62,230.24 306.58,230.44 307.53,229.88 308.49,231.16 309.45,229.67 310.41,229.25 311.36,229.89 312.32,229.42 313.28,230.54 314.24,230.96 315.19,230.32 316.15,228.9 317.11,229.01 318.07,230.2 319.02,228.88 319.98,230.11 320.94,228.66 321.9,229.48 322.85,230.23 323.81,229.25 324.77,230.51 325.73,230.64 326.68,231.06 327.64,229.71 328.6,229.97" fill="none" stroke="#1a1a1a" stroke-width="1.0" stroke-linejoin="round" opacity="1"/>
<polyline points="70.05,102.4 71.01,97.75 71.96,97.46 72.92,95.35 73.88,90.59 74.84,87.94 75.79,86.73 76.75,86.63 77.71,82.78 78.67,78.96 79.62,77.49 80.58,73.73 81.54,75.31 82.5,71.17 83.45,71.05 84.41,67.2 85.37,67.36 86.33,64.69 87.28,65.35 88.24,64.99 89.2,63.42 90.16,61.57 91.12,60.76 92.07,57.51 93.03,56.42 93.99,56.26 94.95,56.12 95.9,54.56 96.86,53.95 97.82,52.22 98.78,51.8 99.73,50.92 100.69,50.26 101.65,49.77 102.61,49.09 103.56,48.76 104.52,48.41 105.48,48.41 106.44,48.51 107.39,48.64 108.35,48.87 109.31,49.84 110.27,50.82 111.22,52.12 112.18,53.91 113.14,55.78 114.1,57.65 115.06,59.6 116.01,62.33 116.97,64.69 117.93,67.45 118.89,70.44 119.84,73.67 120.8,77.19 121.76,80.6 122.72,84.19 123.67,87.42 124.63,90.72 125.59,93.98 126.55,97.14 127.5,99.99 128.46,103.07 129.42,105.95 130.38,108.79 131.33,111.67 132.29,114.4 133.25,117.16 134.21,119.7 135.16,122.26 136.12,124.41 137.08,126.21 138.04,127.99 139,129.91 139.95,130.94 140.91,132.4 141.87,133.5 142.83,134.28 143.78,135.17 144.74,135.88 145.7,136.07 146.66,136.89 147.61,137.1 148.57,137.2 149.53,137.56 150.49,137.53 151.44,137.49 152.4,137.21 153.36,137.49 154.32,137.19 155.27,136.8 156.23,136.46 157.19,136.1 158.15,135.33 159.1,134.72 160.06,133.97 161.02,133.12 161.98,132.3 162.94,131.34 163.89,130.19 164.85,129.23 165.81,128.17 166.77,127.41 167.72,126.85 168.68,126.27 169.64,126.01 170.6,125.42 171.55,125.07 172.51,125.22 173.47,125.14 174.43,125.43 175.38,125.55 176.34,126.02 177.3,126.48 178.26,127.14 179.21,127.88 180.17,128.9 181.13,129.83 182.09,131.27 183.04,132.39 184,133.54 184.96,134.4 185.92,135.47 186.88,136.27 187.83,137.42 188.79,138.14 189.75,139.15 190.71,140.03 191.66,141.01 192.62,141.87 193.58,143.22 194.54,144.04 195.49,145.6 196.45,146.95 197.41,149.06 198.37,150.53 199.32,152.17 200.28,153.44 201.24,155.65 202.2,157.49 203.15,159.73 204.11,162.21 205.07,164.6 206.03,167.21 206.98,170.16 207.94,173.11 208.9,176.4 209.86,179.26 210.82,182.08 211.77,184.86 212.73,187.87 213.69,190.87 214.65,192.97 215.6,194.95 216.56,197.1 217.52,199.55 218.48,202.9 219.43,205.83 220.39,208.22 221.35,210.42 222.31,212.14 223.26,214.5 224.22,215.85 225.18,217.36 226.14,219.14 227.09,220.5 228.05,221.47 229.01,222.07 229.97,224.02 230.92,225.17 231.88,224.42 232.84,224.54 233.8,226.25 234.76,228.17 235.71,225.59 236.67,227.19 237.63,226.4 238.59,227.58 239.54,228.06 240.5,228.3 241.46,226.91 242.42,227.04 243.37,229.95 244.33,229.06 245.29,226.95 246.25,228.71 247.2,229.54 248.16,228.48 249.12,228.6 250.08,228.61 251.03,228.94 251.99,228.82 252.95,228.95 253.91,228.33 254.86,229.26 255.82,228.86 256.78,228.75 257.74,227.61 258.7,228.37 259.65,228.76 260.61,228.26 261.57,228.37 262.53,227.84 263.48,228.31 264.44,227.3 265.4,227.66 266.36,228.77 267.31,229.08 268.27,228.05 269.23,228.35 270.19,228.85 271.14,229.95 272.1,230.24 273.06,228.51 274.02,228.18 274.97,228.17 275.93,229.84 276.89,227.99 277.85,229.25 278.8,228.52 279.76,228.5 280.72,229.48 281.68,229.32 282.64,230.51 283.59,229.59 284.55,230.3 285.51,228.53 286.47,228.83 287.42,228.16 288.38,228.61 289.34,229.41 290.3,228.64 291.25,229.23 292.21,228.44 293.17,228.69 294.13,229.73 295.08,228.95 296.04,228.92 297,229.21 297.96,228.27 298.91,227.62 299.87,229.29 300.83,229.28 301.79,230.8 302.74,229.12 303.7,229.37 304.66,230.75 305.62,228.81 306.58,228.58 307.53,229.64 308.49,229.36 309.45,229.84 310.41,228.47 311.36,230.29 312.32,229.34 313.28,227.55 314.24,229.07 315.19,228.74 316.15,229.24 317.11,230.06 318.07,229.16 319.02,228.82 319.98,229.96 320.94,228.89 321.9,228.17 322.85,228.32 323.81,230.44 324.77,229.96 325.73,230.48 326.68,228.35 327.64,228.72 328.6,228.65" fill="none" stroke="#1a1a1a" stroke-width="1.0" stroke-linejoin="round" opacity="1"/>
<polyline points="70.05,99.82 71.01,96.03 71.96,93.67 72.92,92.47 73.88,88.99 74.84,86.09 75.79,84.23 76.75,83.32 77.71,82.2 78.67,77.74 79.62,75.18 80.58,73.79 81.54,72.2 82.5,70.81 83.45,67.57 84.41,66.96 85.37,65.35 86.33,65.34 87.28,63.7 88.24,61.62 89.2,61.85 90.16,60.9 91.12,58.76 92.07,56.27 93.03,56.2 93.99,54.31 94.95,54.52 95.9,53.73 96.86,53.43 97.82,52.24 98.78,50.8 99.73,50.39 100.69,49.68 101.65,49.1 102.61,48.74 103.56,48.47 104.52,48.3 105.48,48.23 106.44,48.27 107.39,48.5 108.35,49.1 109.31,49.99 110.27,51 111.22,52.56 112.18,54.2 113.14,56.63 114.1,58.54 115.06,60.46 116.01,63.22 116.97,65.99 117.93,68.72 118.89,71.62 119.84,75.09 120.8,78.54 121.76,82.18 122.72,85.68 123.67,88.56 124.63,92.28 125.59,95.7 126.55,98.96 127.5,102.04 128.46,105.21 129.42,108.31 130.38,111.46 131.33,114.68 132.29,117.47 133.25,120.59 134.21,123.56 135.16,126.45 136.12,128.79 137.08,131.13 138.04,133.24 139,135.41 139.95,137.01 140.91,138.56 141.87,140.1 142.83,141.27 143.78,142.36 144.74,143.05 145.7,144.25 146.66,144.67 147.61,145.39 148.57,145.71 149.53,145.93 150.49,146.42 151.44,146.6 152.4,146.92 153.36,146.71 154.32,146.87 155.27,146.78 156.23,146.89 157.19,146.59 158.15,145.98 159.1,145.73 160.06,145.28 161.02,144.68 161.98,144.29 162.94,143.29 163.89,142.51 164.85,141.6 165.81,141.03 166.77,140.37 167.72,140.06 168.68,139.49 169.64,139.22 170.6,139.05 171.55,138.92 172.51,138.83 173.47,139.3 174.43,139.09 175.38,139.53 176.34,139.83 177.3,140.26 178.26,140.95 179.21,141.53 180.17,142.16 181.13,143.04 182.09,144.38 183.04,145.5 184,146.18 184.96,147.32 185.92,147.79 186.88,148.87 187.83,149.81 188.79,150.4 189.75,151.14 190.71,152.36 191.66,152.88 192.62,153.98 193.58,154.67 194.54,155.89 195.49,157.22 196.45,158.45 197.41,159.92 198.37,161.18 199.32,162.61 200.28,164.21 201.24,165.96 202.2,167.75 203.15,169.6 204.11,171.68 205.07,173.82 206.03,176.44 206.98,178.56 207.94,181.22 208.9,183.59 209.86,186.29 210.82,188.81 211.77,191.13 212.73,194.08 213.69,196.39 214.65,198.34 215.6,199.56 216.56,201.48 217.52,204 218.48,206.44 219.43,208.83 220.39,211 221.35,212.86 222.31,214.72 223.26,216.27 224.22,217.63 225.18,218.88 226.14,220.42 227.09,221.76 228.05,222.21 229.01,223.9 229.97,223.82 230.92,224.83 231.88,224.99 232.84,224.82 233.8,225.85 234.76,226.06 235.71,227.7 236.67,227.76 237.63,226.93 238.59,226.43 239.54,226.72 240.5,226.15 241.46,227.87 242.42,228.04 243.37,227.46 244.33,228.3 245.29,228.41 246.25,229.24 247.2,227.65 248.16,229.32 249.12,228.08 250.08,229.64 251.03,227.65 251.99,229.36 252.95,227.88 253.91,229.83 254.86,228.93 255.82,227.65 256.78,229.24 257.74,228.55 258.7,229 259.65,230.46 260.61,228.39 261.57,228.3 262.53,229.53 263.48,228.2 264.44,229.3 265.4,229.47 266.36,228.68 267.31,229.23 268.27,226.87 269.23,229.94 270.19,228.12 271.14,227.93 272.1,230.29 273.06,230.1 274.02,228.28 274.97,229.12 275.93,228.44 276.89,227.84 277.85,229.05 278.8,229.6 279.76,230.93 280.72,228.6 281.68,229.51 282.64,228.53 283.59,228.6 284.55,229.89 285.51,227.42 286.47,227.94 287.42,228.13 288.38,229.76 289.34,229.14 290.3,229.26 291.25,229.16 292.21,229.73 293.17,228.5 294.13,228.67 295.08,228.57 296.04,229.27 297,227.85 297.96,228.73 298.91,231.06 299.87,229.4 300.83,228.94 301.79,228.14 302.74,229.15 303.7,229.12 304.66,229.45 305.62,228.4 306.58,229.29 307.53,229.42 308.49,229.54 309.45,228.51 310.41,229.39 311.36,230.3 312.32,228.48 313.28,229.54 314.24,228.7 315.19,228.7 316.15,228.04 317.11,228.17 318.07,229.47 319.02,229.15 319.98,230.05 320.94,227.69 321.9,228.68 322.85,227.93 323.81,229.3 324.77,230.68 325.73,227.84 326.68,228.99 327.64,228.96 328.6,229.03" fill="none" stroke="#1a1a1a" stroke-width="1.0" stroke-linejoin="round" opacity="1"/>
<polyline points="70.05,95.11 71.01,95.38 71.96,90.03 72.92,89.71 73.88,87.43 74.84,82.66 75.79,81.37 76.75,80.56 77.71,80.05 78.67,75.5 79.62,73.06 80.58,71.95 81.54,71.58 82.5,69.39 83.45,68.38 84.41,65.2 85.37,63.14 86.33,61.67 87.28,62.57 88.24,60.34 89.2,58.88 90.16,59.01 91.12,57.55 92.07,54.47 93.03,55.28 93.99,53.88 94.95,53.92 95.9,52.8 96.86,52.91 97.82,51.43 98.78,50.36 99.73,49.59 100.69,49.27 101.65,48.83 102.61,48.54 103.56,48.37 104.52,48.23 105.48,48.15 106.44,48.36 107.39,48.43 108.35,49.28 109.31,50.25 110.27,51.3 111.22,52.93 112.18,54.87 113.14,56.75 114.1,59.17 115.06,61.45 116.01,63.87 116.97,66.61 117.93,69.76 118.89,72.66 119.84,76.13 120.8,79.75 121.76,83.3 122.72,86.97 123.67,90.23 124.63,93.53 125.59,96.85 126.55,100.34 127.5,103.65 128.46,106.87 129.42,110.14 130.38,113.48 131.33,116.66 132.29,120.11 133.25,123.34 134.21,126.46 135.16,129.51 136.12,132.26 137.08,134.61 138.04,137.31 139,139.68 139.95,141.55 140.91,143.19 141.87,145.03 142.83,146.35 143.78,147.84 144.74,148.98 145.7,149.99 146.66,150.8 147.61,151.32 148.57,152.33 149.53,152.55 150.49,153.38 151.44,153.74 152.4,154 153.36,154.35 154.32,154.61 155.27,154.96 156.23,154.72 157.19,154.8 158.15,154.21 159.1,154.33 160.06,154 161.02,153.83 161.98,153.36 162.94,152.92 163.89,152 164.85,151.52 165.81,150.9 166.77,150.68 167.72,150.34 168.68,149.87 169.64,149.99 170.6,149.98 171.55,149.62 172.51,149.79 173.47,149.81 174.43,149.88 175.38,150.38 176.34,150.51 177.3,151.06 178.26,151.3 179.21,151.93 180.17,152.82 181.13,153.65 182.09,154.68 183.04,155.5 184,156.24 184.96,157.32 185.92,157.78 186.88,158.8 187.83,159.5 188.79,160.36 189.75,160.65 190.71,161.68 191.66,162.47 192.62,163.39 193.58,164.01 194.54,165.3 195.49,166.12 196.45,167.17 197.41,168.85 198.37,170.06 199.32,171.23 200.28,172.74 201.24,174.09 202.2,175.54 203.15,177.29 204.11,179.04 205.07,181.05 206.03,183.02 206.98,185.18 207.94,187.3 208.9,189.71 209.86,191.98 210.82,194.31 211.77,196.05 212.73,198.4 213.69,200.67 214.65,202.36 215.6,203.66 216.56,205 217.52,207.23 218.48,209.37 219.43,211.44 220.39,213.14 221.35,214.89 222.31,216.38 223.26,217.8 224.22,218.81 225.18,220.06 226.14,221.37 227.09,222.81 228.05,223.71 229.01,224.11 229.97,225.39 230.92,225.19 231.88,225.97 232.84,226.41 233.8,226.49 234.76,226.87 235.71,228.2 236.67,227.99 237.63,226.06 238.59,229.07 239.54,228.65 240.5,227.56 241.46,228.64 242.42,229.23 243.37,229.7 244.33,228.27 245.29,227.92 246.25,227.66 247.2,228.76 248.16,228 249.12,229.67 250.08,228.73 251.03,229.42 251.99,228.75 252.95,228.31 253.91,228.06 254.86,229.71 255.82,227.92 256.78,229.32 257.74,229.77 258.7,229.09 259.65,230.13 260.61,228.97 261.57,228.75 262.53,229.15 263.48,228.57 264.44,229.25 265.4,229 266.36,230.16 267.31,228.98 268.27,229.7 269.23,229.39 270.19,229.11 271.14,228.89 272.1,230.35 273.06,230.29 274.02,229.29 274.97,228.68 275.93,228.78 276.89,228.36 277.85,228.04 278.8,228.68 279.76,229.1 280.72,229.91 281.68,229.84 282.64,229.47 283.59,228.89 284.55,228.93 285.51,229.1 286.47,229.23 287.42,228.62 288.38,228.96 289.34,228.89 290.3,228.89 291.25,229.57 292.21,229.97 293.17,228.76 294.13,228.82 295.08,229.34 296.04,229.5 297,227.36 297.96,229.78 298.91,229.36 299.87,228.98 300.83,230.11 301.79,229.11 302.74,227.78 303.7,228.47 304.66,228.71 305.62,228.75 306.58,229.14 307.53,228.47 308.49,229.36 309.45,229.58 310.41,229.17 311.36,228.53 312.32,229 313.28,228.73 314.24,230.88 315.19,228.33 316.15,227.42 317.11,228.22 318.07,229.54 319.02,229.97 319.98,229.08 320.94,230.09 321.9,228.73 322.85,229.73 323.81,228.56 324.77,228.24 325.73,230.95 326.68,229.1 327.64,229.9 328.6,230.47" fill="none" stroke="#1a1a1a" stroke-width="1.0" stroke-linejoin="round" opacity="1"/>
<polyline points="70.05,93.35 71.01,89.78 71.96,90.67 72.92,85.55 73.88,82.32 74.84,81.88 75.79,79.81 76.75,78.29 77.71,77.46 78.67,73.36 79.62,71.61 80.58,69.43 81.54,65.58 82.5,66.12 83.45,64.96 84.41,62.21 85.37,64.33 86.33,62.92 87.28,60.93 88.24,60.22 89.2,57.62 90.16,57.75 91.12,54.68 92.07,54.08 93.03,53.94 93.99,53.98 94.95,52.47 95.9,51.65 96.86,51.95 97.82,50.7 98.78,49.99 99.73,49.55 100.69,48.88 101.65,48.5 102.61,48.45 103.56,48.15 104.52,48.21 105.48,48.07 106.44,48.31 107.39,48.4 108.35,49.17 109.31,50.06 110.27,51.39 111.22,53.17 112.18,54.86 113.14,57.4 114.1,59.59 115.06,62.14 116.01,64.74 116.97,67.43 117.93,70.61 118.89,73.68 119.84,77.44 120.8,80.76 121.76,84.5 122.72,87.96 123.67,91.3 124.63,94.66 125.59,97.97 126.55,101.88 127.5,105.13 128.46,108.74 129.42,112.03 130.38,115.67 131.33,119.01 132.29,122.57 133.25,125.9 134.21,129.27 135.16,132.64 136.12,135.57 137.08,138.64 138.04,141.19 139,143.68 139.95,146.13 140.91,147.98 141.87,150.23 142.83,151.89 143.78,153.34 144.74,154.57 145.7,155.7 146.66,156.78 147.61,157.72 148.57,158.46 149.53,159.34 150.49,160.13 151.44,160.76 152.4,160.94 153.36,161.97 154.32,162.12 155.27,162.22 156.23,162.52 157.19,162.76 158.15,162.69 159.1,162.55 160.06,162.42 161.02,162.53 161.98,162.13 162.94,161.86 163.89,161.33 164.85,160.87 165.81,160.74 166.77,160.66 167.72,160.25 168.68,159.95 169.64,160.02 170.6,160.05 171.55,159.77 172.51,160.22 173.47,160.13 174.43,160.55 175.38,160.77 176.34,161.08 177.3,161.25 178.26,162 179.21,162.48 180.17,163.2 181.13,163.68 182.09,164.62 183.04,165.33 184,166.24 184.96,166.84 185.92,167.33 186.88,168.16 187.83,168.75 188.79,169.44 189.75,170.25 190.71,171.11 191.66,171.55 192.62,172.39 193.58,173.05 194.54,174.24 195.49,175.16 196.45,176.38 197.41,177.43 198.37,178.33 199.32,179.5 200.28,180.76 201.24,182.02 202.2,183.31 203.15,184.88 204.11,186.33 205.07,188.02 206.03,190.05 206.98,191.65 207.94,193.39 208.9,195.58 209.86,197.38 210.82,199.2 211.77,200.99 212.73,202.78 213.69,204.71 214.65,206.13 215.6,207.59 216.56,208.64 217.52,210.48 218.48,212.33 219.43,213.82 220.39,215.37 221.35,217.04 222.31,217.97 223.26,219.19 224.22,220.43 225.18,221.28 226.14,222.7 227.09,223.69 228.05,224.75 229.01,225.52 229.97,225.35 230.92,227.01 231.88,227.47 232.84,227.81 233.8,227.35 234.76,228.05 235.71,227.3 236.67,228.74 237.63,229.36 238.59,228.89 239.54,228.6 240.5,229.49 241.46,228.62 242.42,227.46 243.37,229.42 244.33,228.97 245.29,227.97 246.25,229.59 247.2,229.78 248.16,230 249.12,228.83 250.08,228.75 251.03,229.29 251.99,229.15 252.95,228.18 253.91,228.52 254.86,230.33 255.82,229.23 256.78,229.15 257.74,228.67 258.7,229.42 259.65,229.77 260.61,229.62 261.57,230.68 262.53,229.29 263.48,229.75 264.44,228.91 265.4,230.11 266.36,229.64 267.31,230.08 268.27,230.15 269.23,228.75 270.19,229.69 271.14,228.97 272.1,230.22 273.06,229.25 274.02,230.68 274.97,229.72 275.93,229.74 276.89,228.88 277.85,229.21 278.8,229.49 279.76,228.69 280.72,229.21 281.68,228.94 282.64,228.76 283.59,229.43 284.55,229.61 285.51,229.12 286.47,229.72 287.42,229.08 288.38,228.52 289.34,228.72 290.3,229.71 291.25,230.43 292.21,229.46 293.17,229.52 294.13,228.55 295.08,229.74 296.04,229.6 297,228.86 297.96,229.82 298.91,229.58 299.87,228.09 300.83,228.28 301.79,228.96 302.74,229.25 303.7,230.24 304.66,229.03 305.62,229.44 306.58,229.31 307.53,229.9 308.49,229.5 309.45,229.65 310.41,229.25 311.36,228.37 312.32,229.22 313.28,230.83 314.24,230.29 315.19,230.78 316.15,230.16 317.11,229.09 318.07,229.22 319.02,230.02 319.98,229.33 320.94,230.15 321.9,230.68 322.85,230.67 323.81,230.24 324.77,228.44 325.73,230.64 326.68,228.59 327.64,228.52 328.6,229.73" fill="none" stroke="#1a1a1a" stroke-width="1.0" stroke-linejoin="round" opacity="1"/>
<polyline points="70.05,91.64 71.01,88.95 71.96,86.14 72.92,84.89 73.88,81.72 74.84,79.48 75.79,78.43 76.75,76.36 77.71,74.71 78.67,72.2 79.62,72.04 80.58,68.54 81.54,67.12 82.5,66.78 83.45,61.77 84.41,64.05 85.37,62.69 86.33,60.23 87.28,61.78 88.24,59.46 89.2,59.34 90.16,57.63 91.12,55.76 92.07,54.43 93.03,52.96 93.99,52.45 94.95,51.49 95.9,51.21 96.86,51.14 97.82,49.94 98.78,49.94 99.73,49.38 100.69,48.6 101.65,48.34 102.61,48.17 103.56,47.96 104.52,47.92 105.48,48.24 106.44,48.17 107.39,48.64 108.35,49.24 109.31,50.37 110.27,51.39 111.22,53.17 112.18,55.49 113.14,57.81 114.1,60.42 115.06,62.79 116.01,65.44 116.97,68.38 117.93,71.7 118.89,74.76 119.84,78.12 120.8,81.77 121.76,85.29 122.72,89.06 123.67,92.22 124.63,95.8 125.59,99.21 126.55,102.75 127.5,106.33 128.46,110.15 129.42,113.72 130.38,117.49 131.33,121.13 132.29,124.54 133.25,128.25 134.21,132.03 135.16,135.33 136.12,138.42 137.08,141.37 138.04,144.43 139,147.24 139.95,150.05 140.91,152.09 141.87,154.08 142.83,155.97 143.78,157.67 144.74,159.26 145.7,160.38 146.66,161.64 147.61,162.93 148.57,164.03 149.53,164.56 150.49,165.71 151.44,166.3 152.4,166.94 153.36,167.94 154.32,168.35 155.27,168.88 156.23,169.11 157.19,169.36 158.15,169.35 159.1,169.63 160.06,169.77 161.02,169.65 161.98,169.77 162.94,169.63 163.89,169.08 164.85,169.2 165.81,168.97 166.77,168.81 167.72,168.87 168.68,168.96 169.64,168.6 170.6,168.87 171.55,168.89 172.51,168.96 173.47,169.2 174.43,169.46 175.38,169.6 176.34,169.64 177.3,170.16 178.26,170.57 179.21,171.31 180.17,171.65 181.13,172.42 182.09,172.89 183.04,173.72 184,174.33 184.96,174.94 185.92,175.6 186.88,176.33 187.83,176.7 188.79,177.57 189.75,178.19 190.71,178.75 191.66,179.49 192.62,180.05 193.58,180.67 194.54,181.51 195.49,182.39 196.45,183.45 197.41,184.42 198.37,185.76 199.32,186.49 200.28,187.71 201.24,188.88 202.2,189.94 203.15,191.25 204.11,192.46 205.07,193.83 206.03,195.75 206.98,197.03 207.94,198.46 208.9,200.27 209.86,201.77 210.82,203.43 211.77,205.15 212.73,206.8 213.69,208.07 214.65,209.18 215.6,210.43 216.56,211.52 217.52,212.88 218.48,214.68 219.43,216.03 220.39,217.1 221.35,218.18 222.31,219.53 223.26,220.3 224.22,221.53 225.18,222.46 226.14,223.73 227.09,223.98 228.05,225.2 229.01,224.92 229.97,226.32 230.92,226.92 231.88,228.56 232.84,226.88 233.8,228.45 234.76,228.6 235.71,230.41 236.67,228.07 237.63,228.16 238.59,229.56 239.54,229.12 240.5,228.98 241.46,228.61 242.42,229.35 243.37,228.11 244.33,229.71 245.29,230.03 246.25,229.95 247.2,231.62 248.16,230.27 249.12,228.84 250.08,229.44 251.03,230.31 251.99,229.39 252.95,231.28 253.91,229.91 254.86,229.27 255.82,229.14 256.78,230.32 257.74,228.98 258.7,228.23 259.65,230.06 260.61,229.13 261.57,230.97 262.53,231.29 263.48,229.25 264.44,229.71 265.4,229.59 266.36,230.21 267.31,229.99 268.27,229.11 269.23,228.39 270.19,229.93 271.14,231.08 272.1,228.75 273.06,229.29 274.02,229.23 274.97,229.63 275.93,227.93 276.89,229.72 277.85,229.38 278.8,231.26 279.76,230.25 280.72,230.34 281.68,229.82 282.64,229.52 283.59,230.4 284.55,228.43 285.51,230.66 286.47,230.17 287.42,229.63 288.38,230.82 289.34,229.37 290.3,229.32 291.25,230.06 292.21,228.32 293.17,229.77 294.13,229.62 295.08,230.61 296.04,231.18 297,230.36 297.96,230.11 298.91,230.22 299.87,229.25 300.83,231.77 301.79,230.77 302.74,231.33 303.7,228.81 304.66,230.33 305.62,230.3 306.58,230.77 307.53,229.18 308.49,230.22 309.45,229.72 310.41,231.52 311.36,228.97 312.32,229.6 313.28,229.47 314.24,228.93 315.19,230.07 316.15,230.06 317.11,229.36 318.07,229.59 319.02,230.13 319.98,229.9 320.94,230.34 321.9,229.37 322.85,229.2 323.81,229.95 324.77,228.46 325.73,231.18 326.68,230.15 327.64,228.6 328.6,230.3" fill="none" stroke="#1a1a1a" stroke-width="1.0" stroke-linejoin="round" opacity="1"/>
<polyline points="70.05,85.67 71.01,84.81 71.96,85 72.92,80.82 73.88,81.06 74.84,79.55 75.79,76.26 76.75,74.71 77.71,73.46 78.67,70.69 79.62,69.68 80.58,66.78 81.54,65.28 82.5,62.85 83.45,62.82 84.41,62.54 85.37,61.36 86.33,59.07 87.28,56.03 88.24,55.93 89.2,56.79 90.16,54.11 91.12,55.41 92.07,52.5 93.03,52.97 93.99,51.34 94.95,50.79 95.9,50.71 96.86,49.87 97.82,49.97 98.78,49.12 99.73,48.44 100.69,47.82 101.65,47.99 102.61,47.92 103.56,47.99 104.52,47.75 105.48,48.16 106.44,48.17 107.39,48.43 108.35,49.47 109.31,50.29 110.27,51.69 111.22,53.67 112.18,55.97 113.14,58.64 114.1,61.28 115.06,63.72 116.01,66.54 116.97,69.58 117.93,72.75 118.89,76.19 119.84,79.62 120.8,83.5 121.76,86.97 122.72,90.29 123.67,93.72 124.63,97.41 125.59,100.98 126.55,104.5 127.5,108.26 128.46,112.55 129.42,116.33 130.38,120.13 131.33,123.9 132.29,128.08 133.25,131.84 134.21,135.83 135.16,139.21 136.12,143.01 137.08,146.59 138.04,149.99 139,152.98 139.95,155.87 140.91,158.65 141.87,160.88 142.83,163.26 143.78,165.19 144.74,167.06 145.7,168.69 146.66,170.1 147.61,171.5 148.57,172.56 149.53,173.67 150.49,174.89 151.44,176.04 152.4,176.79 153.36,178.04 154.32,178.84 155.27,179.22 156.23,179.8 157.19,180.24 158.15,180.81 159.1,181.31 160.06,181.53 161.02,181.68 161.98,182.06 162.94,182.18 163.89,182.33 164.85,182.34 165.81,182.17 166.77,182.32 167.72,182.62 168.68,182.74 169.64,182.83 170.6,182.85 171.55,183.21 172.51,183.26 173.47,183.72 174.43,183.87 175.38,183.96 176.34,184.19 177.3,184.72 178.26,185.01 179.21,185.19 180.17,185.73 181.13,186.22 182.09,186.61 183.04,187.17 184,187.56 184.96,188.07 185.92,188.73 186.88,189.18 187.83,189.71 188.79,190.41 189.75,190.92 190.71,191.26 191.66,192.16 192.62,192.45 193.58,193.14 194.54,193.83 195.49,194.47 196.45,195.3 197.41,196.07 198.37,197.09 199.32,197.89 200.28,198.75 201.24,199.39 202.2,200.44 203.15,201.64 204.11,202.57 205.07,203.67 206.03,204.69 206.98,205.8 207.94,206.75 208.9,208.45 209.86,209.24 210.82,210.4 211.77,211.64 212.73,212.76 213.69,213.86 214.65,214.63 215.6,215.28 216.56,216.41 217.52,217.06 218.48,218.34 219.43,219.17 220.39,220.21 221.35,220.93 222.31,221.79 223.26,222.45 224.22,223.28 225.18,224.06 226.14,224.6 227.09,225.28 228.05,225.48 229.01,227.57 229.97,227.42 230.92,227.23 231.88,228.93 232.84,228.64 233.8,227.2 234.76,227.85 235.71,229.8 236.67,228.07 237.63,228.37 238.59,228.79 239.54,229.19 240.5,229.37 241.46,230.32 242.42,230.08 243.37,229.12 244.33,229.62 245.29,228.29 246.25,230.05 247.2,231.72 248.16,230.09 249.12,229.61 250.08,229.54 251.03,229.8 251.99,230.51 252.95,228.67 253.91,230.4 254.86,229.3 255.82,230.1 256.78,230.83 257.74,228.75 258.7,231.88 259.65,230.57 260.61,229.54 261.57,230.18 262.53,229.3 263.48,229.98 264.44,230.26 265.4,228.18 266.36,230.08 267.31,230.03 268.27,230.77 269.23,230.51 270.19,229.39 271.14,229.46 272.1,229.91 273.06,230.47 274.02,229.37 274.97,231.28 275.93,230.19 276.89,230.12 277.85,230.6 278.8,229.8 279.76,230.46 280.72,230.57 281.68,228.5 282.64,229.34 283.59,228.98 284.55,229.89 285.51,229.17 286.47,229.32 287.42,228.97 288.38,228.06 289.34,230.12 290.3,229.74 291.25,229.99 292.21,232.75 293.17,231.06 294.13,229.94 295.08,229.45 296.04,230.41 297,229.05 297.96,228.94 298.91,230.29 299.87,228.83 300.83,228.57 301.79,229.6 302.74,230.75 303.7,228.8 304.66,230.1 305.62,230.27 306.58,229.88 307.53,230.41 308.49,229.13 309.45,229.36 310.41,229.01 311.36,229.52 312.32,230.62 313.28,230.12 314.24,229.29 315.19,230.32 316.15,227.67 317.11,230.19 318.07,230.47 319.02,229.09 319.98,229.41 320.94,230.03 321.9,230.19 322.85,229.67 323.81,229.35 324.77,229.41 325.73,230.26 326.68,229.67 327.64,229.35 328.6,229.41" fill="none" stroke="#1a1a1a" stroke-width="1.0" stroke-linejoin="round" opacity="1"/>
<polyline points="70.05,85.58 71.01,83.71 71.96,81.32 72.92,79.09 73.88,76.45 74.84,75.04 75.79,74.13 76.75,72.11 77.71,68.21 78.67,69.17 79.62,66.41 80.58,63.34 81.54,63.21 82.5,64.52 83.45,60.3 84.41,59.93 85.37,58.5 86.33,56.16 87.28,55.96 88.24,55.99 89.2,53.8 90.16,53.54 91.12,53.08 92.07,52.14 93.03,51.5 93.99,51.27 94.95,50.66 95.9,49.78 96.86,49.78 97.82,49.42 98.78,48.18 99.73,48.27 100.69,47.96 101.65,47.81 102.61,47.73 103.56,47.71 104.52,47.76 105.48,47.97 106.44,47.89 107.39,48.52 108.35,49.24 109.31,50.83 110.27,52.15 111.22,53.75 112.18,56.3 113.14,59.06 114.1,61.68 115.06,64.62 116.01,67.43 116.97,70.8 117.93,73.81 118.89,77.24 119.84,80.7 120.8,84.36 121.76,88.22 122.72,91.44 123.67,95.15 124.63,98.82 125.59,102.51 126.55,105.87 127.5,110.03 128.46,114.16 129.42,118.27 130.38,122.39 131.33,126.19 132.29,130.52 133.25,134.45 134.21,138.79 135.16,142.98 136.12,146.42 137.08,150.37 138.04,154.03 139,157.25 139.95,160.57 140.91,163.21 141.87,165.98 142.83,168.5 143.78,170.57 144.74,172.72 145.7,174.33 146.66,176.05 147.61,177.71 148.57,179.08 149.53,180.42 150.49,181.8 151.44,182.89 152.4,184.2 153.36,185.19 154.32,186.38 155.27,187.14 156.23,187.86 157.19,188.67 158.15,189.23 159.1,189.8 160.06,190.16 161.02,190.8 161.98,191.07 162.94,191.29 163.89,191.72 164.85,192.22 165.81,192.26 166.77,192.41 167.72,192.82 168.68,192.89 169.64,193.2 170.6,193.47 171.55,193.78 172.51,194.05 173.47,194.27 174.43,194.5 175.38,194.73 176.34,195.02 177.3,195.37 178.26,195.6 179.21,195.86 180.17,196.4 181.13,196.65 182.09,197.03 183.04,197.35 184,197.74 184.96,198.12 185.92,198.6 186.88,198.85 187.83,199.35 188.79,200.06 189.75,200.35 190.71,201 191.66,201.19 192.62,201.98 193.58,202.51 194.54,203 195.49,203.64 196.45,204.29 197.41,204.8 198.37,205.64 199.32,206.25 200.28,206.92 201.24,207.9 202.2,208.32 203.15,209.19 204.11,209.91 205.07,210.91 206.03,211.51 206.98,212.38 207.94,213.34 208.9,213.85 209.86,214.86 210.82,215.73 211.77,216.45 212.73,217.18 213.69,217.89 214.65,218.56 215.6,219.05 216.56,219.6 217.52,220.6 218.48,221.23 219.43,221.98 220.39,222.48 221.35,222.88 222.31,223.52 223.26,224.25 224.22,224.68 225.18,225.04 226.14,225.91 227.09,226.48 228.05,226.97 229.01,228.35 229.97,227.78 230.92,228.39 231.88,228.61 232.84,229.88 233.8,230.03 234.76,230.18 235.71,229.59 236.67,229.81 237.63,229.84 238.59,228.58 239.54,229.03 240.5,230.69 241.46,230.68 242.42,228.83 243.37,230.48 244.33,229.15 245.29,229 246.25,230.73 247.2,230.53 248.16,230.26 249.12,231.02 250.08,231.12 251.03,230.67 251.99,229.67 252.95,230.71 253.91,230.52 254.86,230.73 255.82,231.45 256.78,229.18 257.74,232.23 258.7,230.89 259.65,229.92 260.61,231.48 261.57,229.89 262.53,229.38 263.48,231.06 264.44,230.21 265.4,231.26 266.36,229.98 267.31,230.31 268.27,230.21 269.23,229.3 270.19,230.01 271.14,229.31 272.1,229.88 273.06,231.34 274.02,230.18 274.97,230 275.93,231.54 276.89,229.33 277.85,230.34 278.8,230.1 279.76,231.11 280.72,230.34 281.68,230.16 282.64,230.66 283.59,230.33 284.55,232.09 285.51,229.32 286.47,231.29 287.42,232.14 288.38,231.17 289.34,231.07 290.3,229.97 291.25,231.14 292.21,230.18 293.17,231.18 294.13,228.66 295.08,229.98 296.04,228.86 297,231.22 297.96,229.89 298.91,231.18 299.87,229.96 300.83,229.88 301.79,231.69 302.74,231.33 303.7,231.35 304.66,231.62 305.62,231.01 306.58,231.2 307.53,231.58 308.49,230.36 309.45,230 310.41,231.48 311.36,230.88 312.32,230.43 313.28,230.63 314.24,231 315.19,229.8 316.15,229.77 317.11,229.91 318.07,230.61 319.02,228.87 319.98,229.07 320.94,230.77 321.9,230.55 322.85,229.51 323.81,231.09 324.77,230.14 325.73,230.42 326.68,231.02 327.64,230.65 328.6,231.71" fill="none" stroke="#1a1a1a" stroke-width="1.0" stroke-linejoin="round" opacity="1"/>
<polyline points="70.05,85.16 71.01,78.49 71.96,77.72 72.92,76.36 73.88,75.75 74.84,73.23 75.79,71.19 76.75,69.73 77.71,68.04 78.67,68.42 79.62,65.21 80.58,64.78 81.54,64.01 82.5,62.5 83.45,59.29 84.41,57.33 85.37,59.09 86.33,54.52 87.28,54 88.24,55.37 89.2,54.68 90.16,53.41 91.12,51.57 92.07,52.15 93.03,52.05 93.99,50.23 94.95,51.2 95.9,49.25 96.86,48.37 97.82,48.45 98.78,48.01 99.73,47.85 100.69,47.65 101.65,47.61 102.61,47.7 103.56,47.66 104.52,47.71 105.48,47.66 106.44,47.76 107.39,48.38 108.35,49.48 109.31,50.78 110.27,52.18 111.22,53.87 112.18,56.48 113.14,59.31 114.1,62.21 115.06,64.85 116.01,67.92 116.97,71.11 117.93,74.36 118.89,77.62 119.84,81.48 120.8,84.97 121.76,88.69 122.72,92.36 123.67,95.72 124.63,99.36 125.59,103.13 126.55,106.96 127.5,111.1 128.46,115.1 129.42,119.37 130.38,123.5 131.33,127.69 132.29,132.46 133.25,136.35 134.21,140.84 135.16,144.68 136.12,148.8 137.08,152.66 138.04,156.37 139,160.35 139.95,163.39 140.91,166.38 141.87,169.37 142.83,171.65 143.78,174.09 144.74,176.31 145.7,178.29 146.66,179.63 147.61,181.73 148.57,183.45 149.53,184.8 150.49,186.13 151.44,187.48 152.4,188.74 153.36,190.07 154.32,191 155.27,192.12 156.23,193.1 157.19,193.8 158.15,194.48 159.1,195.01 160.06,195.68 161.02,196.36 161.98,196.86 162.94,197.31 163.89,197.53 164.85,198.24 165.81,198.48 166.77,198.8 167.72,199.34 168.68,199.52 169.64,199.83 170.6,200.2 171.55,200.36 172.51,200.58 173.47,200.84 174.43,201.28 175.38,201.51 176.34,201.52 177.3,202.18 178.26,202.27 179.21,202.44 180.17,202.77 181.13,202.98 182.09,203.33 183.04,203.56 184,203.81 184.96,204.32 185.92,204.62 186.88,205.04 187.83,205.5 188.79,205.88 189.75,206.47 190.71,206.72 191.66,207.08 192.62,207.57 193.58,208.12 194.54,208.88 195.49,209.11 196.45,209.96 197.41,210.47 198.37,210.84 199.32,211.79 200.28,212.17 201.24,212.85 202.2,213.52 203.15,214.22 204.11,214.67 205.07,215.38 206.03,215.81 206.98,216.41 207.94,217.36 208.9,217.88 209.86,218.45 210.82,219.13 211.77,219.7 212.73,220.13 213.69,220.7 214.65,221.34 215.6,221.63 216.56,221.94 217.52,222.62 218.48,223.08 219.43,223.25 220.39,223.73 221.35,224.49 222.31,224.86 223.26,225.05 224.22,225.64 225.18,225.95 226.14,226.53 227.09,226.83 228.05,228.3 229.01,228.82 229.97,228.94 230.92,228.22 231.88,229.14 232.84,230.41 233.8,229.1 234.76,229.07 235.71,229.89 236.67,230.01 237.63,229.45 238.59,228.89 239.54,229.77 240.5,229.51 241.46,230.01 242.42,230.3 243.37,230.75 244.33,229.84 245.29,230.31 246.25,230.28 247.2,229.36 248.16,229.72 249.12,229.43 250.08,231.38 251.03,229.69 251.99,230.6 252.95,230.78 253.91,230.81 254.86,229.17 255.82,229.48 256.78,230.71 257.74,231.04 258.7,230.13 259.65,230.51 260.61,228.82 261.57,231.3 262.53,231.6 263.48,230.35 264.44,230.13 265.4,230.04 266.36,229.55 267.31,228.5 268.27,230.42 269.23,230.58 270.19,231.55 271.14,229.95 272.1,229.47 273.06,230.36 274.02,229.21 274.97,230.13 275.93,228.94 276.89,229.89 277.85,230.99 278.8,230.66 279.76,231.37 280.72,231.53 281.68,229.94 282.64,229.46 283.59,228.6 284.55,230.2 285.51,230.34 286.47,231.04 287.42,229.37 288.38,229.85 289.34,230.63 290.3,229.61 291.25,229.71 292.21,231.65 293.17,229.57 294.13,230.05 295.08,230.47 296.04,230.49 297,228.77 297.96,228.94 298.91,228.71 299.87,231.08 300.83,230.69 301.79,229.44 302.74,231.13 303.7,230.74 304.66,231.6 305.62,228.69 306.58,229.32 307.53,229.8 308.49,229.99 309.45,230.5 310.41,230.49 311.36,229.68 312.32,230.74 313.28,229.2 314.24,230.56 315.19,230.87 316.15,229.14 317.11,230.29 318.07,229.73 319.02,230.51 319.98,231.97 320.94,229.74 321.9,231.25 322.85,229.32 323.81,231.41 324.77,231.66 325.73,229.93 326.68,229.84 327.64,230.1 328.6,231.15" fill="none" stroke="#1a1a1a" stroke-width="1.0" stroke-linejoin="round" opacity="1"/>
</g>
<rect x="69.8" y="31.5" width="258.8" height="210.5" fill="none" stroke="#2b2b2b" stroke-width="1.1"/>
<line x1="65.6" y1="226.9" x2="69.8" y2="226.9" stroke="#2b2b2b" stroke-width="1.1"/>
<text x="62.6" y="230.8" font-size="12" text-anchor="end" font-weight="normal" >0.00</text>
<line x1="65.6" y1="196.87" x2="69.8" y2="196.87" stroke="#2b2b2b" stroke-width="1.1"/>
<text x="62.6" y="200.77" font-size="12" text-anchor="end" font-weight="normal" >0.02</text>
<line x1="65.6" y1="166.84" x2="69.8" y2="166.84" stroke="#2b2b2b" stroke-width="1.1"/>
<text x="62.6" y="170.74" font-size="12" text-anchor="end" font-weight="normal" >0.04</text>
<line x1="65.6" y1="136.81" x2="69.8" y2="136.81" stroke="#2b2b2b" stroke-width="1.1"/>
<text x="62.6" y="140.71" font-size="12" text-anchor="end" font-weight="normal" >0.06</text>
<line x1="65.6" y1="106.78" x2="69.8" y2="106.78" stroke="#2b2b2b" stroke-width="1.1"/>
<text x="62.6" y="110.68" font-size="12" text-anchor="end" font-weight="normal" >0.08</text>
<line x1="65.6" y1="76.75" x2="69.8" y2="76.75" stroke="#2b2b2b" stroke-width="1.1"/>
<text x="62.6" y="80.65" font-size="12" text-anchor="end" font-weight="normal" >0.10</text>
<line x1="65.6" y1="46.72" x2="69.8" y2="46.72" stroke="#2b2b2b" stroke-width="1.1"/>
<text x="62.6" y="50.62" font-size="12" text-anchor="end" font-weight="normal" >0.12</text>
<line x1="67.5" y1="241.92" x2="69.8" y2="241.92" stroke="#2b2b2b" stroke-width="1.1"/>
<line x1="67.5" y1="211.88" x2="69.8" y2="211.88" stroke="#2b2b2b" stroke-width="1.1"/>
<line x1="67.5" y1="181.86" x2="69.8" y2="181.86" stroke="#2b2b2b" stroke-width="1.1"/>
<line x1="67.5" y1="151.82" x2="69.8" y2="151.82" stroke="#2b2b2b" stroke-width="1.1"/>
<line x1="67.5" y1="121.8" x2="69.8" y2="121.8" stroke="#2b2b2b" stroke-width="1.1"/>
<line x1="67.5" y1="91.77" x2="69.8" y2="91.77" stroke="#2b2b2b" stroke-width="1.1"/>
<line x1="67.5" y1="61.74" x2="69.8" y2="61.74" stroke="#2b2b2b" stroke-width="1.1"/>
<line x1="67.5" y1="31.71" x2="69.8" y2="31.71" stroke="#2b2b2b" stroke-width="1.1"/>
<line x1="89.2" y1="242" x2="89.2" y2="246.2" stroke="#2b2b2b" stroke-width="1.1"/>
<text x="89.2" y="258.2" font-size="12" text-anchor="middle" font-weight="normal" >350</text>
<line x1="137.08" y1="242" x2="137.08" y2="246.2" stroke="#2b2b2b" stroke-width="1.1"/>
<text x="137.08" y="258.2" font-size="12" text-anchor="middle" font-weight="normal" >400</text>
<line x1="184.96" y1="242" x2="184.96" y2="246.2" stroke="#2b2b2b" stroke-width="1.1"/>
<text x="184.96" y="258.2" font-size="12" text-anchor="middle" font-weight="normal" >450</text>
<line x1="232.84" y1="242" x2="232.84" y2="246.2" stroke="#2b2b2b" stroke-width="1.1"/>
<text x="232.84" y="258.2" font-size="12" text-anchor="middle" font-weight="normal" >500</text>
<line x1="280.72" y1="242" x2="280.72" y2="246.2" stroke="#2b2b2b" stroke-width="1.1"/>
<text x="280.72" y="258.2" font-size="12" text-anchor="middle" font-weight="normal" >550</text>
<line x1="328.6" y1="242" x2="328.6" y2="246.2" stroke="#2b2b2b" stroke-width="1.1"/>
<text x="328.6" y="258.2" font-size="12" text-anchor="middle" font-weight="normal" >600</text>
<line x1="113.14" y1="242" x2="113.14" y2="244.3" stroke="#2b2b2b" stroke-width="1.1"/>
<line x1="161.02" y1="242" x2="161.02" y2="244.3" stroke="#2b2b2b" stroke-width="1.1"/>
<line x1="208.9" y1="242" x2="208.9" y2="244.3" stroke="#2b2b2b" stroke-width="1.1"/>
<line x1="256.78" y1="242" x2="256.78" y2="244.3" stroke="#2b2b2b" stroke-width="1.1"/>
<line x1="304.66" y1="242" x2="304.66" y2="244.3" stroke="#2b2b2b" stroke-width="1.1"/>
<text x="199.2" y="284.6" font-size="14.6" text-anchor="middle" font-weight="normal" >Wavelength (nm)</text>
<text x="71" y="14.7" font-size="16" text-anchor="middle" font-weight="bold" >a</text>
<text transform="translate(27,142.4) rotate(-90)" font-size="14.6" text-anchor="middle">Absorbance</text>
<g clip-path="url(#cb)">
<polyline points="394.55,80.72 395.54,95.81 396.52,80.06 397.51,89.91 398.49,83.63 399.48,87.85 400.46,93.63 401.45,86.78 402.43,95.5 403.42,101.75 404.4,99.61 405.38,99.36 406.37,98.74 407.35,103.44 408.34,103.53 409.32,97.66 410.31,101.19 411.29,108.01 412.28,108.76 413.26,107.74 414.25,107.5 415.23,107.6 416.21,108.57 417.2,111.03 418.18,110.85 419.17,117.52 420.15,125.73 421.14,120.09 422.12,123.12 423.11,124.21 424.09,125.18 425.07,128.61 426.06,128.67 427.04,131.22 428.03,131.18 429.01,132.37 430,134.53 430.98,134.2 431.97,135.5 432.95,139.88 433.94,140.67 434.92,140.67 435.9,141.97 436.89,142.65 437.87,146.09 438.86,148.24 439.84,147.92 440.83,150.38 441.81,152.71 442.8,156.89 443.78,159.11 444.76,156.3 445.75,158.69 446.73,161.96 447.72,161.29 448.7,161.45 449.69,161.42 450.67,164.68 451.66,167.3 452.64,166.22 453.62,168.65 454.61,170.67 455.59,169.08 456.58,169.09 457.56,171.49 458.55,176.18 459.53,177.98 460.52,176.53 461.5,177.83 462.49,179.31 463.47,177.37 464.45,178.52 465.44,183.05 466.42,183.52 467.41,183.73 468.39,184.95 469.38,185.44 470.36,185.13 471.35,185.46 472.33,187.78 473.31,188.66 474.3,187.7 475.28,188.48 476.27,188.35 477.25,187.69 478.24,190.01 479.22,190.83 480.21,188.62 481.19,187.95 482.18,190.17 483.16,191.2 484.14,192.2 485.13,194.73 486.11,194.11 487.1,193.07 488.08,193.57 489.07,194.28 490.05,194.91 491.04,195.81 492.02,196.15 493,195.43 493.99,196.37 494.97,196.86 495.96,198.84 496.94,200.73 497.93,198.37 498.91,196.6 499.9,198.13 500.88,200.26 501.87,202.08 502.85,202.15 503.83,200.84 504.82,202.96 505.8,203.64 506.79,202.4 507.77,202.99 508.76,204.92 509.74,205.32 510.73,206.14 511.71,205.8 512.69,204.85 513.68,207.68 514.66,207.1 515.65,205.54 516.63,207.78 517.62,207.34 518.6,208.14 519.59,210.32 520.57,208.9 521.56,211.7 522.54,212.38 523.52,210.94 524.51,212.35 525.49,213.75 526.48,213.93 527.46,214.44 528.45,216.05 529.43,215.91 530.42,216.56 531.4,215.18 532.38,215.64 533.37,218.03 534.35,217.45 535.34,217.09 536.32,216.41 537.31,215.99 538.29,217.23 539.28,218.56 540.26,218.53 541.25,217.72 542.23,217.38 543.21,218.8 544.2,221.46 545.18,219.33 546.17,216.88 547.15,218.74 548.14,219.47 549.12,220.35 550.11,222.45 551.09,222.37 552.08,221.12 553.06,221.5 554.04,222.57 555.03,222.49 556.01,221.12 557,221.38 557.98,221.9 558.97,223.17 559.95,223.42 560.94,222.05 561.92,222.87 562.9,224.13 563.89,222.98 564.87,222.35 565.86,222.35 566.84,222.11 567.83,222.07 568.81,222.05 569.8,223.68 570.78,223.54 571.76,222.71 572.75,222.2 573.73,222.33 574.72,223.15 575.7,222.21 576.69,221.09 577.67,221.2 578.66,221.33 579.64,221.59 580.63,221.82 581.61,221.54 582.59,221.85 583.58,222.49 584.56,222.71 585.55,221.01 586.53,221.14 587.52,223.14 588.5,223.45 589.49,223.34 590.47,222.92 591.45,223.78 592.44,225.47 593.42,224.45 594.41,224.21 595.39,224.28 596.38,223.02 597.36,222.4 598.35,221.3 599.33,221.92 600.32,223.61 601.3,224.8 602.28,225.01 603.27,224.15 604.25,225.14 605.24,225.15 606.22,223.66 607.21,223.28 608.19,223.55 609.18,223.99 610.16,224.33 611.14,224.79 612.13,225.6 613.11,225.2 614.1,222.77 615.08,222.78 616.07,223.69 617.05,224.58 618.04,223.83 619.02,223.7 620.01,224.21 620.99,223.6 621.97,224.94 622.96,224.29 623.94,223.61 624.93,224.27 625.91,223.98 626.9,224.17 627.88,224.82 628.87,224.49 629.85,224.55 630.84,224.88 631.82,225.11 632.8,226.3 633.79,226.34 634.77,225.63 635.76,225.16 636.74,223.95 637.73,225.25 638.71,226.06 639.7,226.48 640.68,227.39 641.66,226.16 642.65,227.09 643.63,228.12 644.62,226.37 645.6,224.97 646.59,225.2 647.57,225.88 648.56,224.23 649.54,223.79 650.52,226.06" fill="none" stroke="#111" stroke-width="0.85" stroke-linejoin="round" opacity="1"/>
<polyline points="394.55,96.84 395.54,84.68 396.52,78.52 397.51,76.7 398.49,90.62 399.48,88.47 400.46,91.15 401.45,86.83 402.43,83.88 403.42,85.69 404.4,97.89 405.38,103.46 406.37,96.67 407.35,94.56 408.34,99.06 409.32,96.95 410.31,93.01 411.29,99.56 412.28,101.13 413.26,101.61 414.25,105.29 415.23,104.36 416.21,104.98 417.2,111.62 418.18,113.8 419.17,112.15 420.15,115.07 421.14,113.17 422.12,114.95 423.11,115.4 424.09,111.95 425.07,120.83 426.06,123.89 427.04,122.3 428.03,124.56 429.01,129.18 430,130.65 430.98,129.57 431.97,132.7 432.95,135.66 433.94,136 434.92,138.22 435.9,140.17 436.89,141.93 437.87,142.23 438.86,142.97 439.84,146.32 440.83,147.03 441.81,148.88 442.8,151.25 443.78,151.48 444.76,152.49 445.75,153.73 446.73,155.17 447.72,156.75 448.7,158.06 449.69,158.99 450.67,159.24 451.66,161.45 452.64,163.6 453.62,163.89 454.61,166.1 455.59,168.31 456.58,169.36 457.56,171.44 458.55,174.33 459.53,173.68 460.52,175.09 461.5,175.66 462.49,175.68 463.47,177.83 464.45,178.6 465.44,179.47 466.42,180.72 467.41,182.28 468.39,182.96 469.38,182.48 470.36,182.1 471.35,182.59 472.33,183.92 473.31,185.84 474.3,188.22 475.28,188.02 476.27,186.32 477.25,187.74 478.24,188.25 479.22,187.23 480.21,188.32 481.19,188.98 482.18,189.26 483.16,192.19 484.14,193.35 485.13,192.66 486.11,192.25 487.1,193.12 488.08,194.44 489.07,194.99 490.05,195.1 491.04,194.66 492.02,194.23 493,194.05 493.99,195.23 494.97,196.18 495.96,196.7 496.94,197.27 497.93,196.46 498.91,199.21 499.9,201.2 500.88,199.2 501.87,198.52 502.85,200.24 503.83,201.41 504.82,200.17 505.8,201.36 506.79,204.3 507.77,204.73 508.76,204.6 509.74,204.21 510.73,204.4 511.71,203.91 512.69,203.53 513.68,206.31 514.66,207.38 515.65,208.13 516.63,207.84 517.62,206.06 518.6,207.11 519.59,208.13 520.57,209.3 521.56,210.37 522.54,208.04 523.52,210.08 524.51,211.56 525.49,209.81 526.48,213.07 527.46,215.87 528.45,215.56 529.43,213.91 530.42,213.88 531.4,215.3 532.38,214.7 533.37,214.81 534.35,215.58 535.34,216.31 536.32,215.84 537.31,216.56 538.29,216.39 539.28,216.29 540.26,218.76 541.25,218.17 542.23,217.33 543.21,219.9 544.2,220.34 545.18,220.02 546.17,221.17 547.15,219.5 548.14,219.73 549.12,220.31 550.11,220.01 551.09,218.02 552.08,219.06 553.06,221.54 554.04,222.45 555.03,222.4 556.01,221.63 557,221.1 557.98,220.59 558.97,220.57 559.95,221.29 560.94,221.25 561.92,221.52 562.9,221.61 563.89,221 564.87,220.7 565.86,221.75 566.84,223.7 567.83,223.95 568.81,222.48 569.8,223.78 570.78,224.39 571.76,222.26 572.75,222.37 573.73,223.58 574.72,221.91 575.7,220.09 576.69,221.63 577.67,221.71 578.66,220.6 579.64,222.45 580.63,221.47 581.61,221.36 582.59,223.58 583.58,223.74 584.56,223.52 585.55,223.72 586.53,223.82 587.52,222.08 588.5,221.96 589.49,222.99 590.47,222.05 591.45,222.56 592.44,223.03 593.42,222.63 594.41,223.23 595.39,223.02 596.38,223.13 597.36,223.23 598.35,223.95 599.33,224.37 600.32,223.51 601.3,223.2 602.28,224.44 603.27,224.92 604.25,224.61 605.24,224.17 606.22,223.56 607.21,223.5 608.19,224.15 609.18,224.25 610.16,224.82 611.14,227.01 612.13,226.08 613.11,225.2 614.1,225.9 615.08,225.61 616.07,224.48 617.05,224.52 618.04,224.83 619.02,224.33 620.01,225.49 620.99,226.33 621.97,225.11 622.96,223.7 623.94,223.5 624.93,222.47 625.91,222.88 626.9,224.07 627.88,224.4 628.87,224.56 629.85,224.77 630.84,225.55 631.82,223.84 632.8,224.6 633.79,225.92 634.77,224.25 635.76,224.36 636.74,225.44 637.73,225.73 638.71,225.39 639.7,226.08 640.68,225.8 641.66,225.34 642.65,225.75 643.63,224.98 644.62,225.38 645.6,225.6 646.59,225.3 647.57,225.34 648.56,224.87 649.54,225.04 650.52,225.84" fill="none" stroke="#111" stroke-width="0.85" stroke-linejoin="round" opacity="1"/>
<polyline points="394.55,79.28 395.54,90.16 396.52,64.21 397.51,84.71 398.49,75.69 399.48,77.01 400.46,75.82 401.45,82.31 402.43,76.67 403.42,77.8 404.4,82.29 405.38,79.96 406.37,80.97 407.35,85.8 408.34,88.22 409.32,86.25 410.31,84.26 411.29,86.42 412.28,87.78 413.26,90.08 414.25,93.04 415.23,95.55 416.21,94.91 417.2,94.97 418.18,94.6 419.17,97.95 420.15,103.47 421.14,105.7 422.12,104.18 423.11,106.38 424.09,109.3 425.07,106.44 426.06,110.6 427.04,113.41 428.03,117.81 429.01,119.32 430,120.96 430.98,122.54 431.97,123.5 432.95,125.88 433.94,127.16 434.92,128.27 435.9,130.8 436.89,132.95 437.87,135.13 438.86,136.58 439.84,136.21 440.83,138.17 441.81,140.8 442.8,142.39 443.78,143.83 444.76,144.9 445.75,147.05 446.73,149.81 447.72,151.44 448.7,151.23 449.69,152.55 450.67,154.36 451.66,155.99 452.64,158.88 453.62,159.86 454.61,160.13 455.59,162.18 456.58,164.03 457.56,165 458.55,166.56 459.53,167.95 460.52,169.12 461.5,171.99 462.49,173.25 463.47,173.51 464.45,175.09 465.44,175.7 466.42,176.61 467.41,177.58 468.39,177.7 469.38,178.88 470.36,181.28 471.35,182.64 472.33,182.08 473.31,182.59 474.3,184.27 475.28,184.87 476.27,184.79 477.25,185.23 478.24,185.76 479.22,186.95 480.21,188.04 481.19,188.27 482.18,188.66 483.16,190.23 484.14,190.87 485.13,190.96 486.11,190.54 487.1,189.4 488.08,189.72 489.07,190.6 490.05,192.28 491.04,192.66 492.02,192.95 493,193.6 493.99,194.45 494.97,195.56 495.96,195.22 496.94,194.33 497.93,195.02 498.91,195.18 499.9,194.05 500.88,196.47 501.87,198.47 502.85,198.75 503.83,199.28 504.82,199.53 505.8,199.98 506.79,199.64 507.77,199.58 508.76,200.49 509.74,201.53 510.73,202.13 511.71,202.58 512.69,202.84 513.68,203.43 514.66,204 515.65,205.27 516.63,205.65 517.62,204.47 518.6,205.37 519.59,207.7 520.57,207.6 521.56,207.56 522.54,210.55 523.52,211.05 524.51,209.61 525.49,209.84 526.48,210.05 527.46,210.48 528.45,211.66 529.43,213.64 530.42,214.85 531.4,214.12 532.38,213.58 533.37,214.68 534.35,215.82 535.34,215.39 536.32,216.51 537.31,218.25 538.29,217.67 539.28,216.79 540.26,217.27 541.25,219.02 542.23,219.04 543.21,218.79 544.2,218.71 545.18,218.29 546.17,218.76 547.15,218.59 548.14,219.26 549.12,219.38 550.11,217.6 551.09,218.25 552.08,218.88 553.06,219.81 554.04,220.29 555.03,219.8 556.01,221.36 557,221.76 557.98,221.56 558.97,222.03 559.95,221.68 560.94,220.59 561.92,220.98 562.9,221.75 563.89,222.67 564.87,222.76 565.86,220.9 566.84,220.46 567.83,221.02 568.81,222.07 569.8,223.2 570.78,222.94 571.76,223.26 572.75,224.16 573.73,222.54 574.72,222.36 575.7,221.78 576.69,222.21 577.67,223.26 578.66,223.12 579.64,223.35 580.63,223.3 581.61,223.44 582.59,222.84 583.58,223.24 584.56,222.79 585.55,221.39 586.53,222.25 587.52,222.75 588.5,222.29 589.49,223.01 590.47,221.5 591.45,223.12 592.44,225.28 593.42,225.06 594.41,224.83 595.39,223.71 596.38,220.72 597.36,220.34 598.35,221.87 599.33,221.21 600.32,222.9 601.3,223.54 602.28,222.03 603.27,222.3 604.25,223.42 605.24,223.22 606.22,224.52 607.21,225.53 608.19,224.21 609.18,223.26 610.16,224.22 611.14,224.9 612.13,224.36 613.11,224.27 614.1,223.71 615.08,223.56 616.07,223.99 617.05,225.14 618.04,226.08 619.02,224.84 620.01,225.28 620.99,225.35 621.97,224.7 622.96,225.54 623.94,224.61 624.93,224.55 625.91,225.69 626.9,225.73 627.88,225.09 628.87,222.61 629.85,224.24 630.84,226.31 631.82,224.97 632.8,224.28 633.79,224.41 634.77,226.97 635.76,225.75 636.74,224.76 637.73,225.82 638.71,226.05 639.7,226.85 640.68,226.23 641.66,224.82 642.65,223.87 643.63,224.97 644.62,225.25 645.6,225.11 646.59,225.42 647.57,225.06 648.56,224.71 649.54,225.31 650.52,225.89" fill="none" stroke="#111" stroke-width="0.85" stroke-linejoin="round" opacity="1"/>
<polyline points="394.55,68.37 395.54,67.15 396.52,80.16 397.51,65.76 398.49,75.48 399.48,70 400.46,81.26 401.45,69.71 402.43,69.14 403.42,70.44 404.4,75.33 405.38,75.7 406.37,71.66 407.35,78.1 408.34,77.37 409.32,72.93 410.31,72.99 411.29,73.73 412.28,77.05 413.26,81.71 414.25,83.76 415.23,83.91 416.21,83.99 417.2,86.51 418.18,88.94 419.17,88.35 420.15,89.65 421.14,88.95 422.12,87.56 423.11,95.48 424.09,102.17 425.07,104.42 426.06,106.18 427.04,105.91 428.03,107.75 429.01,110.32 430,111.95 430.98,112.97 431.97,115.05 432.95,117.69 433.94,118.91 434.92,120.29 435.9,122.33 436.89,123.81 437.87,126.34 438.86,128.46 439.84,129.97 440.83,131.26 441.81,132.22 442.8,135.14 443.78,136.61 444.76,138.42 445.75,140.23 446.73,141.16 447.72,143.96 448.7,146.36 449.69,147.71 450.67,148.76 451.66,150.64 452.64,151.96 453.62,154 454.61,155.97 455.59,156.82 456.58,159.49 457.56,160.91 458.55,162.13 459.53,165.24 460.52,166.4 461.5,166.61 462.49,167.19 463.47,168.68 464.45,169.67 465.44,169.88 466.42,171.35 467.41,172.62 468.39,174.2 469.38,176.38 470.36,177.29 471.35,177.46 472.33,178.65 473.31,180.23 474.3,182.09 475.28,182.39 476.27,182.09 477.25,183.94 478.24,184.8 479.22,184.36 480.21,185.13 481.19,185.73 482.18,185.85 483.16,187.7 484.14,188.85 485.13,188.3 486.11,188.13 487.1,188.12 488.08,190.19 489.07,191.48 490.05,190.47 491.04,190.2 492.02,190.11 493,191.76 493.99,193.35 494.97,193.84 495.96,193.58 496.94,194.13 497.93,194.31 498.91,193.44 499.9,194.23 500.88,196.38 501.87,197.46 502.85,196.27 503.83,197.15 504.82,198.18 505.8,197.93 506.79,197.8 507.77,198.1 508.76,198.96 509.74,199.9 510.73,200.58 511.71,200.95 512.69,201.08 513.68,201.65 514.66,202.03 515.65,203.45 516.63,203.92 517.62,203.64 518.6,204.27 519.59,204.71 520.57,205.46 521.56,205.26 522.54,206.63 523.52,208.02 524.51,208.41 525.49,208.95 526.48,210.38 527.46,211.2 528.45,211.03 529.43,211.96 530.42,212.5 531.4,213.46 532.38,213.07 533.37,212.44 534.35,212.64 535.34,213.85 536.32,216.01 537.31,215.8 538.29,216.5 539.28,216.94 540.26,216.78 541.25,217.45 542.23,217.25 543.21,217.36 544.2,216.77 545.18,216.73 546.17,218.78 547.15,218.85 548.14,219.14 549.12,219.88 550.11,220.65 551.09,221.82 552.08,219.48 553.06,219.47 554.04,221.1 555.03,221.28 556.01,221.2 557,219.89 557.98,220.68 558.97,222.78 559.95,221.61 560.94,221.99 561.92,222.78 562.9,220.87 563.89,220.69 564.87,221.96 565.86,222.56 566.84,222.96 567.83,222.95 568.81,222.26 569.8,220.98 570.78,220.45 571.76,221.84 572.75,223.15 573.73,222.29 574.72,223.15 575.7,224.04 576.69,223 577.67,223.55 578.66,224.1 579.64,223.09 580.63,223.62 581.61,224.6 582.59,223.91 583.58,223.23 584.56,223.81 585.55,223.13 586.53,222.4 587.52,223.43 588.5,223.52 589.49,223.87 590.47,224.37 591.45,223.08 592.44,222.26 593.42,223.23 594.41,222.7 595.39,223.19 596.38,223.5 597.36,223.01 598.35,224.17 599.33,223.68 600.32,224.17 601.3,224.29 602.28,223.89 603.27,224.11 604.25,222.5 605.24,222.43 606.22,223.93 607.21,224.41 608.19,224.28 609.18,225.16 610.16,225.74 611.14,224.9 612.13,223.74 613.11,225.1 614.1,225.59 615.08,223.97 616.07,223.88 617.05,225.03 618.04,224.39 619.02,224.59 620.01,224.91 620.99,222.89 621.97,224.89 622.96,225.91 623.94,224.23 624.93,224.29 625.91,225.12 626.9,225.55 627.88,226.04 628.87,225.75 629.85,224.38 630.84,224.99 631.82,226.09 632.8,225.98 633.79,225.35 634.77,224.99 635.76,225.09 636.74,225.11 637.73,226.02 638.71,228.09 639.7,226.72 640.68,223.72 641.66,225.23 642.65,226.77 643.63,225.55 644.62,224.39 645.6,224.16 646.59,223.95 647.57,224.49 648.56,225.14 649.54,224.82 650.52,225.46" fill="none" stroke="#111" stroke-width="0.85" stroke-linejoin="round" opacity="1"/>
<polyline points="394.55,58.26 395.54,63.76 396.52,70.64 397.51,74.08 398.49,59.04 399.48,64.2 400.46,66.93 401.45,67.37 402.43,64.42 403.42,64.56 404.4,63.23 405.38,61.28 406.37,60.84 407.35,61.97 408.34,61.21 409.32,59.93 410.31,59.75 411.29,58.59 412.28,59.72 413.26,60.75 414.25,60.44 415.23,61.09 416.21,58.77 417.2,57.15 418.18,60.51 419.17,60.97 420.15,59.89 421.14,59.25 422.12,58.68 423.11,60.04 424.09,60.5 425.07,60.77 426.06,61.82 427.04,63.41 428.03,64.65 429.01,65.55 430,67.46 430.98,69.53 431.97,71.4 432.95,73.67 433.94,75.56 434.92,77.87 435.9,80.38 436.89,82.59 437.87,84.67 438.86,86.81 439.84,89 440.83,90.71 441.81,92.91 442.8,94.62 443.78,96.07 444.76,97.87 445.75,99.44 446.73,100.82 447.72,101.95 448.7,102.53 449.69,103.23 450.67,104.23 451.66,104.72 452.64,104.58 453.62,103.97 454.61,103.71 455.59,103.72 456.58,103.12 457.56,102.24 458.55,101.51 459.53,100.57 460.52,99.7 461.5,97.97 462.49,95.36 463.47,93.44 464.45,92.61 465.44,91.16 466.42,89.62 467.41,87.69 468.39,85.71 469.38,84.91 470.36,83.1 471.35,81.19 472.33,79.23 473.31,76.64 474.3,74.44 475.28,71.6 476.27,69.06 477.25,66.57 478.24,63.96 479.22,62.21 480.21,60.39 481.19,57.64 482.18,54.95 483.16,54.01 484.14,52.72 485.13,51.37 486.11,50.82 487.1,49.99 488.08,49.26 489.07,48.35 490.05,47.95 491.04,48.73 492.02,48.64 493,48.66 493.99,50.32 494.97,51.69 495.96,52.84 496.94,53.97 497.93,55.11 498.91,57.05 499.9,59.56 500.88,62.14 501.87,63.93 502.85,65.54 503.83,66.85 504.82,68.54 505.8,70.29 506.79,71.32 507.77,72.78 508.76,73.5 509.74,74.35 510.73,76.06 511.71,77.54 512.69,78.63 513.68,80.53 514.66,82.29 515.65,83.82 516.63,86.35 517.62,88.61 518.6,90.85 519.59,93.96 520.57,97.37 521.56,100.16 522.54,103 523.52,107.03 524.51,111.16 525.49,115.3 526.48,120.54 527.46,126.44 528.45,131.57 529.43,136 530.42,140.52 531.4,144.45 532.38,149.16 533.37,154.8 534.35,160.99 535.34,167.86 536.32,174.26 537.31,180.04 538.29,185.75 539.28,190.21 540.26,193.92 541.25,197.33 542.23,200.25 543.21,202.72 544.2,204.6 545.18,206.02 546.17,207.33 547.15,209.08 548.14,210.26 549.12,211.35 550.11,211.79 551.09,214.29 552.08,216.64 553.06,216.83 554.04,216.61 555.03,217.54 556.01,217.95 557,219.08 557.98,218.22 558.97,218.22 559.95,220.05 560.94,219.15 561.92,220.07 562.9,220.06 563.89,218.47 564.87,219.52 565.86,221.1 566.84,221.37 567.83,222.06 568.81,220.91 569.8,219.71 570.78,221.33 571.76,222.14 572.75,221.34 573.73,219.77 574.72,221.18 575.7,222.74 576.69,223.19 577.67,222.41 578.66,221.16 579.64,220.14 580.63,220.43 581.61,222.4 582.59,222.9 583.58,222.07 584.56,222.79 585.55,222.94 586.53,221.69 587.52,222.64 588.5,223.52 589.49,222.49 590.47,220.61 591.45,221.73 592.44,222.73 593.42,221.26 594.41,222.13 595.39,223.59 596.38,224.08 597.36,224.07 598.35,223.33 599.33,223.58 600.32,224.11 601.3,224.99 602.28,225.48 603.27,225.11 604.25,223.78 605.24,223.51 606.22,224.62 607.21,223.86 608.19,222.92 609.18,223.97 610.16,224.87 611.14,223.93 612.13,223.28 613.11,224.4 614.1,224.54 615.08,224.02 616.07,223.46 617.05,224.1 618.04,224.32 619.02,223.45 620.01,224.84 620.99,224.44 621.97,223.14 622.96,224.86 623.94,224.15 624.93,224.07 625.91,226.16 626.9,225.62 627.88,224.47 628.87,223.87 629.85,224.52 630.84,224 631.82,223.68 632.8,223.69 633.79,222.01 634.77,222.9 635.76,226.75 636.74,227.24 637.73,226.2 638.71,225.84 639.7,225.03 640.68,225.99 641.66,226.9 642.65,226.23 643.63,225.57 644.62,227.25 645.6,226.43 646.59,224.56 647.57,225.27 648.56,225.09 649.54,225.81 650.52,226.07" fill="none" stroke="#111" stroke-width="0.85" stroke-linejoin="round" opacity="1"/>
<polyline points="394.55,69.05 395.54,75.37 396.52,66.6 397.51,63.78 398.49,63.55 399.48,62.05 400.46,64.34 401.45,64.04 402.43,63.05 403.42,64.37 404.4,63.71 405.38,63.41 406.37,61.78 407.35,60.63 408.34,61.74 409.32,62.14 410.31,61.09 411.29,61.18 412.28,61.19 413.26,61.46 414.25,62.19 415.23,61.55 416.21,61.95 417.2,61.71 418.18,61.02 419.17,62.46 420.15,62.99 421.14,62.69 422.12,62.38 423.11,62.11 424.09,62.77 425.07,64.58 426.06,64.02 427.04,63.48 428.03,65.89 429.01,67.98 430,69.63 430.98,71.91 431.97,74.09 432.95,75.47 433.94,77.32 434.92,79.85 435.9,82.44 436.89,84.83 437.87,86.4 438.86,88.64 439.84,91.01 440.83,92.7 441.81,94.63 442.8,96.28 443.78,98.06 444.76,99.99 445.75,101.95 446.73,103.03 447.72,104.15 448.7,105.7 449.69,106.07 450.67,106.8 451.66,107.6 452.64,107.92 453.62,107.93 454.61,107.65 455.59,107.18 456.58,106.67 457.56,106.45 458.55,105.88 459.53,104.79 460.52,103.59 461.5,101.87 462.49,100.03 463.47,98.73 464.45,97.83 465.44,96.44 466.42,95.2 467.41,94.03 468.39,92.39 469.38,91.24 470.36,90.01 471.35,88.44 472.33,85.89 473.31,83.63 474.3,81.85 475.28,79.11 476.27,76.61 477.25,74.49 478.24,72.86 479.22,71.33 480.21,68.09 481.19,65.89 482.18,65.11 483.16,63.6 484.14,62.15 485.13,61.6 486.11,60.91 487.1,59.82 488.08,59.06 489.07,58.53 490.05,58.6 491.04,58.91 492.02,59.78 493,59.95 493.99,60.57 494.97,61.96 495.96,62.27 496.94,63.45 497.93,65.09 498.91,66.9 499.9,69.02 500.88,71.15 501.87,73.48 502.85,74.81 503.83,76.3 504.82,78.45 505.8,79.8 506.79,80.5 507.77,81.75 508.76,82.68 509.74,83.21 510.73,84 511.71,85.68 512.69,87.53 513.68,89.41 514.66,91.43 515.65,92.86 516.63,94.67 517.62,97 518.6,99.69 519.59,102.6 520.57,105.56 521.56,108.22 522.54,110.93 523.52,114.02 524.51,117.41 525.49,121.31 526.48,126.9 527.46,132.59 528.45,137.25 529.43,141.79 530.42,145.53 531.4,149.15 532.38,153.71 533.37,158.83 534.35,164.44 535.34,170.88 536.32,177.18 537.31,182.52 538.29,187.67 539.28,191.83 540.26,195.16 541.25,198.28 542.23,201.11 543.21,203.79 544.2,205.58 545.18,207.69 546.17,209.13 547.15,209.66 548.14,211.1 549.12,212.64 550.11,213.05 551.09,213.87 552.08,214.76 553.06,213.8 554.04,214.49 555.03,215.86 556.01,216.46 557,217.35 557.98,217.88 558.97,218.35 559.95,218.08 560.94,219.55 561.92,220.76 562.9,219.37 563.89,219.98 564.87,220.7 565.86,220.75 566.84,220.52 567.83,219.56 568.81,218.98 569.8,219.38 570.78,221.05 571.76,221.35 572.75,220.56 573.73,219.85 574.72,221.88 575.7,222.73 576.69,222.6 577.67,222.45 578.66,220.93 579.64,221.18 580.63,220.95 581.61,221.11 582.59,222.28 583.58,222.38 584.56,221.15 585.55,221.55 586.53,222.45 587.52,223.3 588.5,222.56 589.49,222.12 590.47,223.54 591.45,223.56 592.44,223.7 593.42,223.63 594.41,222.18 595.39,221.5 596.38,221.45 597.36,221.03 598.35,222.73 599.33,223.51 600.32,221.87 601.3,220.64 602.28,222.77 603.27,225.47 604.25,224.19 605.24,223.48 606.22,224.58 607.21,224.13 608.19,224.04 609.18,225.97 610.16,225.49 611.14,223.85 612.13,223.44 613.11,222.91 614.1,223.29 615.08,224.18 616.07,224.83 617.05,225.88 618.04,225.77 619.02,223.95 620.01,223.23 620.99,222.53 621.97,223.14 622.96,225.91 623.94,225.26 624.93,223.3 625.91,224.76 626.9,226.68 627.88,225.78 628.87,224.17 629.85,225.11 630.84,225.89 631.82,225.69 632.8,226.32 633.79,226.73 634.77,225.83 635.76,225.19 636.74,225.79 637.73,227.4 638.71,225.71 639.7,224.56 640.68,225.92 641.66,226.07 642.65,225.73 643.63,226.01 644.62,226.22 645.6,225.3 646.59,224.73 647.57,225.38 648.56,226.5 649.54,225.9 650.52,223.96" fill="none" stroke="#111" stroke-width="0.85" stroke-linejoin="round" opacity="1"/>
<polyline points="394.55,82.93 395.54,68.41 396.52,59.63 397.51,69.67 398.49,76.69 399.48,68.29 400.46,64.23 401.45,67.67 402.43,65.26 403.42,65.21 404.4,65.1 405.38,64.96 406.37,63.58 407.35,63.2 408.34,62.9 409.32,61.77 410.31,62.61 411.29,60.88 412.28,60.45 413.26,63.65 414.25,63.39 415.23,64.62 416.21,65.09 417.2,62.78 418.18,64.75 419.17,64.51 420.15,63.64 421.14,61.92 422.12,62.31 423.11,62.8 424.09,61.65 425.07,65.21 426.06,68.49 427.04,67.81 428.03,68.38 429.01,70.9 430,72.67 430.98,75.03 431.97,77.17 432.95,79.24 433.94,81.64 434.92,83.53 435.9,84.78 436.89,86.47 437.87,89.2 438.86,91.76 439.84,93.62 440.83,95.15 441.81,96.99 442.8,99.23 443.78,101.08 444.76,102.25 445.75,103.11 446.73,105.24 447.72,107.91 448.7,108.42 449.69,108.56 450.67,109.37 451.66,109.48 452.64,109.82 453.62,110.64 454.61,111.13 455.59,110.54 456.58,109.98 457.56,109.48 458.55,109.02 459.53,108.37 460.52,107.32 461.5,106.05 462.49,104.4 463.47,102.78 464.45,101.04 465.44,100.11 466.42,99.62 467.41,97.9 468.39,96.41 469.38,95.57 470.36,94.19 471.35,92.51 472.33,90.76 473.31,89.01 474.3,86.9 475.28,85.1 476.27,83.33 477.25,81.19 478.24,79.09 479.22,77.13 480.21,75.17 481.19,73.39 482.18,72.01 483.16,71.13 484.14,69.76 485.13,68.31 486.11,68.01 487.1,67.31 488.08,66.36 489.07,66.06 490.05,66.49 491.04,66.91 492.02,66.94 493,66.78 493.99,67.7 494.97,69.25 495.96,70.41 496.94,71.57 497.93,72.48 498.91,74.7 499.9,77.65 500.88,78.96 501.87,80.07 502.85,82.03 503.83,83.26 504.82,84.21 505.8,86.36 506.79,87.83 507.77,87.94 508.76,89.05 509.74,90.45 510.73,91.09 511.71,92.35 512.69,94.38 513.68,96.04 514.66,97.76 515.65,99.22 516.63,101.28 517.62,103.34 518.6,105.77 519.59,108.68 520.57,111.37 521.56,114.24 522.54,116.38 523.52,119 524.51,122.25 525.49,126.45 526.48,131.42 527.46,136.3 528.45,141 529.43,145.46 530.42,149.18 531.4,152.76 532.38,156.8 533.37,161.46 534.35,167.25 535.34,173.58 536.32,179.48 537.31,185 538.29,190.05 539.28,193.8 540.26,196.63 541.25,199.73 542.23,201.51 543.21,203.33 544.2,205.73 545.18,206.98 546.17,209.54 547.15,211.31 548.14,211.47 549.12,213.26 550.11,215.35 551.09,215.09 552.08,216.76 553.06,216.52 554.04,218.05 555.03,218.53 556.01,218.05 557,219.14 557.98,218.5 558.97,215.67 559.95,216.23 560.94,218.69 561.92,219.23 562.9,220.39 563.89,220.35 564.87,218.86 565.86,219.07 566.84,219.69 567.83,220.14 568.81,219.07 569.8,220.26 570.78,221.82 571.76,220.32 572.75,220.67 573.73,222.01 574.72,223.16 575.7,222.61 576.69,221.79 577.67,222.62 578.66,223.57 579.64,222.34 580.63,220.87 581.61,221.78 582.59,223.15 583.58,223.35 584.56,221.06 585.55,220.23 586.53,222.19 587.52,221.87 588.5,220.19 589.49,220.13 590.47,222.95 591.45,223.95 592.44,223.25 593.42,223.51 594.41,224.17 595.39,224.27 596.38,224.23 597.36,223.75 598.35,222.98 599.33,224.34 600.32,225.7 601.3,225.07 602.28,223.38 603.27,222.71 604.25,223.3 605.24,226.19 606.22,226.56 607.21,224.71 608.19,224.65 609.18,225.07 610.16,225.2 611.14,224.84 612.13,222.55 613.11,221.59 614.1,223.8 615.08,224.42 616.07,224.41 617.05,224.29 618.04,224.55 619.02,224.75 620.01,223.74 620.99,223.15 621.97,223.73 622.96,223.4 623.94,223.51 624.93,225.28 625.91,226.78 626.9,226.61 627.88,225.4 628.87,224.62 629.85,223.81 630.84,224.57 631.82,226.01 632.8,225.04 633.79,223.6 634.77,224.56 635.76,225.21 636.74,223.86 637.73,223.9 638.71,224.99 639.7,226.8 640.68,225.79 641.66,223.79 642.65,224.7 643.63,225.54 644.62,226.58 645.6,226.32 646.59,225.48 647.57,224.6 648.56,225.43 649.54,225.18 650.52,224.26" fill="none" stroke="#111" stroke-width="0.85" stroke-linejoin="round" opacity="1"/>
<polyline points="394.55,60.25 395.54,76.85 396.52,64.96 397.51,76.07 398.49,57.7 399.48,72.76 400.46,64.25 401.45,58.98 402.43,64.54 403.42,63.89 404.4,62.9 405.38,64.42 406.37,63.55 407.35,63.56 408.34,65.53 409.32,62.98 410.31,63.15 411.29,63.96 412.28,63.7 413.26,64.48 414.25,63.28 415.23,64.03 416.21,66.52 417.2,66.54 418.18,64.6 419.17,65.83 420.15,66.24 421.14,64.58 422.12,65.67 423.11,67.01 424.09,68.29 425.07,69.18 426.06,68.52 427.04,67.72 428.03,68.76 429.01,73.16 430,74.78 430.98,77.2 431.97,79.41 432.95,81.42 433.94,84 434.92,85.58 435.9,87.49 436.89,89.62 437.87,92.31 438.86,94.75 439.84,96.49 440.83,98.53 441.81,100.76 442.8,102.14 443.78,103.19 444.76,105.43 445.75,107.64 446.73,109.27 447.72,109.87 448.7,110.64 449.69,111.98 450.67,112.55 451.66,113.07 452.64,113.61 453.62,113.66 454.61,113.73 455.59,113.65 456.58,113.98 457.56,114.03 458.55,113.5 459.53,112.89 460.52,111.96 461.5,111.17 462.49,110.18 463.47,108.63 464.45,107.7 465.44,107.46 466.42,106.24 467.41,104.69 468.39,104.03 469.38,103.31 470.36,102.4 471.35,101.31 472.33,99.34 473.31,97.35 474.3,95.76 475.28,94.14 476.27,92.81 477.25,90.96 478.24,88.69 479.22,86.8 480.21,84.69 481.19,83.35 482.18,82.28 483.16,81.57 484.14,80.64 485.13,79.36 486.11,78.64 487.1,78.1 488.08,77.88 489.07,77.3 490.05,77.49 491.04,77.84 492.02,77.7 493,78.75 493.99,80.22 494.97,80.8 495.96,81.44 496.94,82.44 497.93,83.51 498.91,85.57 499.9,87.54 500.88,88.9 501.87,90.88 502.85,92.8 503.83,94.42 504.82,95.4 505.8,95.7 506.79,97.43 507.77,98.76 508.76,99.01 509.74,100.35 510.73,101.78 511.71,103.13 512.69,104.58 513.68,105.67 514.66,106.82 515.65,108.53 516.63,110.29 517.62,112.3 518.6,115.18 519.59,117.25 520.57,119.09 521.56,122.3 522.54,124.75 523.52,127.2 524.51,130.76 525.49,133.88 526.48,138.91 527.46,144.52 528.45,148.01 529.43,151.54 530.42,155.58 531.4,158.54 532.38,161.83 533.37,166.96 534.35,172.47 535.34,177.31 536.32,181.68 537.31,187.43 538.29,192.52 539.28,195.77 540.26,199.25 541.25,201.75 542.23,203.97 543.21,206.05 544.2,206.78 545.18,207.93 546.17,209.55 547.15,210.82 548.14,212.14 549.12,213.12 550.11,214.61 551.09,216.49 552.08,215.66 553.06,216.49 554.04,217.89 555.03,216.92 556.01,215.89 557,217.57 557.98,219.61 558.97,219.06 559.95,218.56 560.94,219.72 561.92,219.71 562.9,219.03 563.89,219.58 564.87,218.02 565.86,217.24 566.84,218.93 567.83,219.31 568.81,217.88 569.8,217.96 570.78,220.74 571.76,221.42 572.75,220.96 573.73,221.71 574.72,221.68 575.7,221.19 576.69,221.51 577.67,222.14 578.66,221.58 579.64,222.47 580.63,222.56 581.61,221.47 582.59,221.94 583.58,223.75 584.56,222.8 585.55,222.4 586.53,224.31 587.52,222.66 588.5,222.53 589.49,223.36 590.47,224.6 591.45,224.68 592.44,222.97 593.42,222.22 594.41,222.64 595.39,223.03 596.38,222.57 597.36,223.28 598.35,224.2 599.33,222.34 600.32,222.48 601.3,223.06 602.28,222.45 603.27,222.34 604.25,222.91 605.24,223.66 606.22,223.01 607.21,223.61 608.19,223.68 609.18,224.13 610.16,224.47 611.14,224.25 612.13,223.69 613.11,223.52 614.1,225.14 615.08,225.4 616.07,224.51 617.05,224.94 618.04,223.95 619.02,223.05 620.01,223.45 620.99,224.35 621.97,225.3 622.96,224.05 623.94,224.85 624.93,225.35 625.91,224.29 626.9,224.96 627.88,225 628.87,225.46 629.85,225.4 630.84,225.53 631.82,226.66 632.8,224.79 633.79,224.4 634.77,226.99 635.76,225.8 636.74,224.85 637.73,228.15 638.71,227.66 639.7,224.44 640.68,224.16 641.66,223.61 642.65,223.97 643.63,224.81 644.62,225.47 645.6,225.8 646.59,223.96 647.57,223.72 648.56,224.73 649.54,226.55 650.52,226.95" fill="none" stroke="#111" stroke-width="0.85" stroke-linejoin="round" opacity="1"/>
<polyline points="394.55,60.31 395.54,76.55 396.52,72.54 397.51,79.64 398.49,74.8 399.48,76.34 400.46,61.56 401.45,67.5 402.43,63.91 403.42,60.91 404.4,61.69 405.38,63.37 406.37,62.19 407.35,61.67 408.34,61.45 409.32,59.74 410.31,62.8 411.29,64.61 412.28,61.62 413.26,60.22 414.25,62.86 415.23,64.17 416.21,64.23 417.2,65.84 418.18,66.81 419.17,67.18 420.15,67.95 421.14,67.17 422.12,68.29 423.11,68.66 424.09,68.36 425.07,69.44 426.06,70.03 427.04,70.89 428.03,72.54 429.01,75.69 430,77.75 430.98,79.8 431.97,82.14 432.95,84.54 433.94,86.07 434.92,88.07 435.9,90.29 436.89,92.78 437.87,94.63 438.86,96.56 439.84,98.86 440.83,100.55 441.81,102.18 442.8,104.04 443.78,106.35 444.76,108.51 445.75,110.02 446.73,111.47 447.72,112.64 448.7,112.86 449.69,114.64 450.67,116.34 451.66,116.23 452.64,115.98 453.62,116.37 454.61,116.9 455.59,116.94 456.58,116.88 457.56,116.47 458.55,116.33 459.53,116.85 460.52,116.56 461.5,115.3 462.49,114.53 463.47,113.81 464.45,112.93 465.44,112.35 466.42,111.26 467.41,110.46 468.39,110.3 469.38,109.61 470.36,108.36 471.35,106.44 472.33,105.18 473.31,103.92 474.3,102.19 475.28,101.66 476.27,100.06 477.25,98.17 478.24,97.29 479.22,95.89 480.21,93.42 481.19,92.23 482.18,91.79 483.16,89.9 484.14,88.74 485.13,89.08 486.11,88.76 487.1,87.87 488.08,87.49 489.07,86.81 490.05,86.84 491.04,87.31 492.02,87.04 493,88.14 493.99,89.51 494.97,89.65 495.96,90.91 496.94,92.26 497.93,93.44 498.91,94.73 499.9,96.26 500.88,97.86 501.87,98.99 502.85,100.64 503.83,102.41 504.82,103.58 505.8,104.59 506.79,106.1 507.77,106.71 508.76,107.13 509.74,108.14 510.73,109.66 511.71,110.78 512.69,110.93 513.68,112.4 514.66,115.04 515.65,116.83 516.63,118.1 517.62,119.96 518.6,122.16 519.59,124.36 520.57,126.81 521.56,129.3 522.54,131.84 523.52,134.5 524.51,136.83 525.49,140.33 526.48,144.39 527.46,148.76 528.45,153.22 529.43,156.67 530.42,159.46 531.4,162.87 532.38,166.33 533.37,170.55 534.35,175.78 535.34,180.07 536.32,184.51 537.31,189.68 538.29,194.59 539.28,197.44 540.26,200.13 541.25,202.62 542.23,204.48 543.21,206.51 544.2,207.17 545.18,208.03 546.17,209.79 547.15,211.95 548.14,213.24 549.12,213.8 550.11,214.79 551.09,214.54 552.08,216.51 553.06,217.81 554.04,216.87 555.03,218.08 556.01,217.27 557,218.01 557.98,219.61 558.97,218.89 559.95,220.83 560.94,222.2 561.92,221.51 562.9,220.04 563.89,218.78 564.87,219.08 565.86,219.76 566.84,221.99 567.83,222.14 568.81,221.01 569.8,220.41 570.78,219.14 571.76,218.45 572.75,219.04 573.73,220.21 574.72,221.62 575.7,222.27 576.69,222.51 577.67,221.99 578.66,222.04 579.64,222.96 580.63,222.76 581.61,223.03 582.59,222.14 583.58,222.29 584.56,222.53 585.55,222.93 586.53,222.11 587.52,221.91 588.5,222.26 589.49,220.23 590.47,222.88 591.45,225.3 592.44,223.68 593.42,222.11 594.41,222.38 595.39,223.04 596.38,223.28 597.36,223.2 598.35,223.63 599.33,223.48 600.32,224.88 601.3,226.99 602.28,223.42 603.27,221.93 604.25,224.03 605.24,222.55 606.22,221.14 607.21,222.01 608.19,223.17 609.18,223.61 610.16,222.96 611.14,224.74 612.13,224.72 613.11,223.66 614.1,223.19 615.08,222.12 616.07,223.62 617.05,225.12 618.04,224.53 619.02,223.63 620.01,224.13 620.99,224.76 621.97,224.03 622.96,223.67 623.94,223.3 624.93,223.48 625.91,225.07 626.9,226.63 627.88,225.38 628.87,224.34 629.85,225.25 630.84,225.25 631.82,226.22 632.8,226.33 633.79,227.14 634.77,227.18 635.76,225.91 636.74,224.24 637.73,223.25 638.71,224.83 639.7,225.07 640.68,224.38 641.66,225.1 642.65,225.85 643.63,225.56 644.62,223.52 645.6,223.21 646.59,226.6 647.57,226.06 648.56,222.61 649.54,223.95 650.52,223.28" fill="none" stroke="#111" stroke-width="0.85" stroke-linejoin="round" opacity="1"/>
<polyline points="394.55,55.36 395.54,92.04 396.52,63.79 397.51,81.79 398.49,64.33 399.48,60.65 400.46,67.53 401.45,66.31 402.43,65 403.42,61.88 404.4,64.4 405.38,65.78 406.37,66 407.35,65.41 408.34,63.47 409.32,60.25 410.31,62.46 411.29,64.22 412.28,63.52 413.26,65.05 414.25,63.7 415.23,63.88 416.21,65.01 417.2,66.53 418.18,67.7 419.17,67.91 420.15,67.06 421.14,69.68 422.12,72.39 423.11,72.9 424.09,74.49 425.07,75.15 426.06,74.03 427.04,72.31 428.03,73.49 429.01,78.76 430,81.04 430.98,83.04 431.97,85.02 432.95,86.31 433.94,88.32 434.92,90.5 435.9,92.86 436.89,95.98 437.87,98.73 438.86,100.13 439.84,101.2 440.83,102.59 441.81,104.72 442.8,106.89 443.78,108.38 444.76,109.72 445.75,111.58 446.73,114.01 447.72,115.09 448.7,115.7 449.69,116.92 450.67,118.42 451.66,119.37 452.64,120.21 453.62,121.43 454.61,121.29 455.59,121.01 456.58,120.92 457.56,120.39 458.55,120.65 459.53,120.31 460.52,120.08 461.5,119.87 462.49,119.47 463.47,119.04 464.45,118.13 465.44,117.73 466.42,116.92 467.41,117 468.39,116.62 469.38,115.65 470.36,114.96 471.35,113.74 472.33,112.95 473.31,111.99 474.3,110.86 475.28,109.09 476.27,107.52 477.25,106.31 478.24,105.35 479.22,103.77 480.21,102.39 481.19,101.31 482.18,100.07 483.16,99.44 484.14,98.72 485.13,98.2 486.11,97.68 487.1,97.07 488.08,96.52 489.07,96.52 490.05,96.14 491.04,96.78 492.02,97.3 493,97.62 493.99,99.33 494.97,100.03 495.96,100.5 496.94,101.02 497.93,102.2 498.91,104.2 499.9,105.57 500.88,107.92 501.87,109.36 502.85,110.36 503.83,111.28 504.82,111.51 505.8,113.1 506.79,115.21 507.77,116.04 508.76,116.28 509.74,116.97 510.73,118.1 511.71,119.86 512.69,121 513.68,122.21 514.66,122.95 515.65,124.38 516.63,126.83 517.62,128.39 518.6,130.58 519.59,132.85 520.57,134.67 521.56,136.92 522.54,139.24 523.52,141.06 524.51,143.48 525.49,147.43 526.48,151.36 527.46,154.52 528.45,158.39 529.43,161.98 530.42,164.81 531.4,167.64 532.38,170.86 533.37,174.75 534.35,179.35 535.34,183.8 536.32,188.13 537.31,191.79 538.29,195.4 539.28,199.24 540.26,201.42 541.25,203.57 542.23,205.75 543.21,207.42 544.2,209.17 545.18,210.73 546.17,211.91 547.15,212.32 548.14,213.33 549.12,214.81 550.11,216.03 551.09,215.83 552.08,214.63 553.06,216.36 554.04,217.87 555.03,217.46 556.01,218.47 557,218.52 557.98,219.56 558.97,219.59 559.95,218.72 560.94,220.34 561.92,219.5 562.9,218.28 563.89,218.78 564.87,220.68 565.86,221.91 566.84,221.34 567.83,220.79 568.81,219.48 569.8,221.53 570.78,222.65 571.76,221.41 572.75,220.77 573.73,220.81 574.72,222.63 575.7,222.84 576.69,222.75 577.67,223.28 578.66,222.54 579.64,222.4 580.63,222.3 581.61,223.16 582.59,221.68 583.58,219.64 584.56,220.93 585.55,222.93 586.53,225.18 587.52,224.91 588.5,223.51 589.49,221.23 590.47,220.12 591.45,222.27 592.44,222.4 593.42,221.13 594.41,222.1 595.39,222.16 596.38,221.98 597.36,223.46 598.35,224.66 599.33,224.31 600.32,222.72 601.3,223.71 602.28,225.75 603.27,224.36 604.25,225.25 605.24,224.34 606.22,222.67 607.21,223.55 608.19,221.86 609.18,223.57 610.16,225.83 611.14,223.08 612.13,222.55 613.11,224.4 614.1,224.06 615.08,223.21 616.07,222.43 617.05,223.19 618.04,224.5 619.02,224.66 620.01,224.22 620.99,223.24 621.97,223.41 622.96,223.07 623.94,223.87 624.93,224.89 625.91,222.94 626.9,222.41 627.88,223.53 628.87,225.21 629.85,226.04 630.84,225.52 631.82,224.78 632.8,224.89 633.79,226.26 634.77,226.66 635.76,225.19 636.74,224.03 637.73,225.51 638.71,226.44 639.7,226.67 640.68,226.85 641.66,222.91 642.65,222.46 643.63,225.43 644.62,225.94 645.6,226.61 646.59,227.59 647.57,226.71 648.56,225.52 649.54,224.38 650.52,225.42" fill="none" stroke="#111" stroke-width="0.85" stroke-linejoin="round" opacity="1"/>
<polyline points="394.55,72.01 395.54,67.96 396.52,57.29 397.51,77.66 398.49,62.25 399.48,66.22 400.46,69.92 401.45,62.39 402.43,61.89 403.42,63.23 404.4,64.81 405.38,64.25 406.37,64.14 407.35,67.86 408.34,69.52 409.32,66.12 410.31,65.33 411.29,67.12 412.28,67.26 413.26,65.61 414.25,67.33 415.23,69.87 416.21,71.4 417.2,72 418.18,71.15 419.17,70.52 420.15,73.67 421.14,77.83 422.12,79.34 423.11,78.11 424.09,78.19 425.07,80.55 426.06,81.99 427.04,83.57 428.03,85.91 429.01,88.42 430,90.49 430.98,92.08 431.97,93.76 432.95,95.97 433.94,98.2 434.92,99.45 435.9,101.34 436.89,103.61 437.87,105.38 438.86,107.53 439.84,109.64 440.83,111.12 441.81,112.41 442.8,113.39 443.78,114.93 444.76,116.79 445.75,117.57 446.73,118.84 447.72,120.12 448.7,120.73 449.69,122.34 450.67,123.56 451.66,124.01 452.64,123.96 453.62,124.12 454.61,124.79 455.59,124.4 456.58,124.92 457.56,125.68 458.55,125.51 459.53,125.52 460.52,124.91 461.5,124.1 462.49,123.71 463.47,123.5 464.45,123.56 465.44,123.34 466.42,123.01 467.41,123.12 468.39,122.48 469.38,121.15 470.36,120.78 471.35,120.64 472.33,119.85 473.31,118.58 474.3,117.3 475.28,115.51 476.27,114.77 477.25,114.26 478.24,112.67 479.22,111.72 480.21,111.02 481.19,110.45 482.18,109.72 483.16,108.39 484.14,107.16 485.13,107.28 486.11,107.28 487.1,106.53 488.08,106.1 489.07,106.07 490.05,106.29 491.04,106.25 492.02,107.22 493,108.1 493.99,109.03 494.97,110.56 495.96,111.08 496.94,111.8 497.93,112.33 498.91,112.73 499.9,114.52 500.88,116.46 501.87,117.86 502.85,119.13 503.83,120.15 504.82,121.02 505.8,122.26 506.79,123.61 507.77,124.48 508.76,124.73 509.74,125.54 510.73,126.22 511.71,127.19 512.69,128.36 513.68,129.92 514.66,131.98 515.65,132.79 516.63,133.86 517.62,135.76 518.6,137.05 519.59,138.94 520.57,141.61 521.56,143.9 522.54,145.52 523.52,147.24 524.51,150.14 525.49,153.83 526.48,157.17 527.46,160.31 528.45,163.76 529.43,166.34 530.42,169.54 531.4,172.52 532.38,174.84 533.37,178.19 534.35,182.59 535.34,187.22 536.32,191.25 537.31,195.09 538.29,198.06 539.28,200.45 540.26,203.48 541.25,205.53 542.23,207.33 543.21,210.05 544.2,210.5 545.18,210.07 546.17,212.13 547.15,213.84 548.14,214.19 549.12,214.95 550.11,216.7 551.09,217.49 552.08,217.48 553.06,217.98 554.04,218.04 555.03,218.17 556.01,219.23 557,219.36 557.98,220.32 558.97,219.53 559.95,219.83 560.94,221.19 561.92,219.84 562.9,219.65 563.89,219.87 564.87,219.38 565.86,220.55 566.84,221.67 567.83,220.85 568.81,221.29 569.8,221.95 570.78,220.74 571.76,220.93 572.75,222.34 573.73,222.12 574.72,222.01 575.7,221.78 576.69,221.86 577.67,221.79 578.66,221.62 579.64,221.61 580.63,220.77 581.61,221.83 582.59,221.69 583.58,221.47 584.56,222.26 585.55,221.88 586.53,222.65 587.52,224.29 588.5,222.93 589.49,222.1 590.47,223.94 591.45,222.65 592.44,222.07 593.42,221.5 594.41,220.37 595.39,221.31 596.38,222.43 597.36,222.44 598.35,223.66 599.33,224.16 600.32,223.13 601.3,223.66 602.28,223.64 603.27,224.42 604.25,224 605.24,222.02 606.22,223.7 607.21,224.6 608.19,222.55 609.18,222.4 610.16,224.36 611.14,225.45 612.13,224.11 613.11,222.07 614.1,223.55 615.08,224.93 616.07,224.75 617.05,225.03 618.04,224.28 619.02,224.15 620.01,224.93 620.99,223.39 621.97,223.04 622.96,224.77 623.94,223.88 624.93,223.78 625.91,224.78 626.9,224.13 627.88,224.78 628.87,224.97 629.85,223.48 630.84,223.58 631.82,224.51 632.8,225.03 633.79,226.2 634.77,226.32 635.76,224.87 636.74,224.16 637.73,224.3 638.71,225.25 639.7,226 640.68,225.77 641.66,225.07 642.65,224.17 643.63,224.28 644.62,225.56 645.6,225.66 646.59,225.66 647.57,225.77 648.56,227.05 649.54,228.05 650.52,227.32" fill="none" stroke="#111" stroke-width="0.85" stroke-linejoin="round" opacity="1"/>
<polyline points="394.55,74.29 395.54,69.01 396.52,67.27 397.51,66.72 398.49,72.65 399.48,67.13 400.46,70.86 401.45,68.41 402.43,67.28 403.42,66.22 404.4,67.07 405.38,65.07 406.37,64.19 407.35,67.61 408.34,67.2 409.32,64.46 410.31,66.74 411.29,68.82 412.28,68.33 413.26,68.89 414.25,69.61 415.23,69.37 416.21,71.2 417.2,70.51 418.18,71.95 419.17,76.44 420.15,74.15 421.14,71.57 422.12,75.2 423.11,79.74 424.09,82.57 425.07,82.42 426.06,82.75 427.04,86.59 428.03,88.07 429.01,88.72 430,90.53 430.98,92.24 431.97,94.13 432.95,96.84 433.94,99.24 434.92,101.08 435.9,102.5 436.89,104.25 437.87,106.14 438.86,108.15 439.84,109.96 440.83,111.23 441.81,113.16 442.8,115.64 443.78,116.43 444.76,117.19 445.75,119.5 446.73,121.08 447.72,122.31 448.7,124.1 449.69,125.02 450.67,125.82 451.66,126.51 452.64,126.76 453.62,127.04 454.61,127.58 455.59,128.32 456.58,128.78 457.56,129.41 458.55,130.11 459.53,129.69 460.52,129.03 461.5,129.43 462.49,129.17 463.47,128.84 464.45,128.97 465.44,128.57 466.42,127.69 467.41,127.73 468.39,128.53 469.38,128.42 470.36,126.9 471.35,126.56 472.33,126.23 473.31,125.24 474.3,124.48 475.28,123.46 476.27,123.38 477.25,122.68 478.24,120.49 479.22,119.54 480.21,119.28 481.19,118.58 482.18,118.15 483.16,117.36 484.14,116.77 485.13,115.79 486.11,115.72 487.1,116.4 488.08,116.48 489.07,116.85 490.05,117.26 491.04,116.75 492.02,117.24 493,117.53 493.99,117.19 494.97,118.58 495.96,120.13 496.94,120.83 497.93,121.33 498.91,122.12 499.9,123.78 500.88,125.74 501.87,126.79 502.85,127.88 503.83,129.17 504.82,130.72 505.8,132.07 506.79,132.57 507.77,132.85 508.76,133.02 509.74,132.88 510.73,133.49 511.71,135.18 512.69,136.18 513.68,137.52 514.66,139.65 515.65,140.05 516.63,141.65 517.62,144.22 518.6,145.62 519.59,146.73 520.57,148.73 521.56,150.88 522.54,152.74 523.52,155.54 524.51,157.54 525.49,159.57 526.48,163.1 527.46,166.7 528.45,169.7 529.43,171.82 530.42,173.88 531.4,176.64 532.38,179.25 533.37,182.53 534.35,186.1 535.34,189.91 536.32,194.1 537.31,197.52 538.29,200.15 539.28,202.45 540.26,204.17 541.25,206.66 542.23,208.74 543.21,209.37 544.2,210.87 545.18,212 546.17,212.79 547.15,214.25 548.14,214.56 549.12,215.46 550.11,216.42 551.09,216.21 552.08,218.26 553.06,219.04 554.04,219.27 555.03,219.59 556.01,219.16 557,220.22 557.98,219.78 558.97,218.02 559.95,218.15 560.94,219.7 561.92,222.64 562.9,222.54 563.89,221.1 564.87,220.55 565.86,220.94 566.84,221.35 567.83,220.97 568.81,222.17 569.8,221.06 570.78,220.85 571.76,222.09 572.75,220.56 573.73,221.43 574.72,222.31 575.7,220.61 576.69,220.91 577.67,221.42 578.66,221.07 579.64,221.76 580.63,221.51 581.61,221.92 582.59,222.68 583.58,221.86 584.56,221.57 585.55,221.98 586.53,223.12 587.52,223.54 588.5,221.81 589.49,221.22 590.47,221.92 591.45,223.02 592.44,223.79 593.42,223.14 594.41,221.69 595.39,222.03 596.38,222.17 597.36,222.48 598.35,222.62 599.33,223.19 600.32,224 601.3,224.1 602.28,223.8 603.27,222.64 604.25,223.89 605.24,224.92 606.22,224.6 607.21,225.2 608.19,225.61 609.18,225.2 610.16,223.98 611.14,222.37 612.13,223.33 613.11,224.61 614.1,224.17 615.08,224.4 616.07,224.81 617.05,223.85 618.04,223.52 619.02,224.24 620.01,224.88 620.99,223.77 621.97,223.85 622.96,224.89 623.94,225.24 624.93,225.81 625.91,225.02 626.9,224.91 627.88,224.62 628.87,224.31 629.85,225.77 630.84,227.57 631.82,225.84 632.8,224.59 633.79,224.26 634.77,223.85 635.76,225.54 636.74,225.17 637.73,224.83 638.71,225.26 639.7,225.77 640.68,225.33 641.66,223.85 642.65,224.74 643.63,224.25 644.62,224.3 645.6,225.45 646.59,226.26 647.57,227.88 648.56,225.12 649.54,222.65 650.52,223.37" fill="none" stroke="#111" stroke-width="0.85" stroke-linejoin="round" opacity="1"/>
<polyline points="394.55,73.84 395.54,82.18 396.52,56.52 397.51,52.11 398.49,65.64 399.48,66.75 400.46,59.35 401.45,64.81 402.43,66.11 403.42,66 404.4,65.74 405.38,65.59 406.37,63.29 407.35,63.59 408.34,66.36 409.32,65.54 410.31,67.04 411.29,66.96 412.28,67.32 413.26,69.89 414.25,70.63 415.23,72.05 416.21,71.57 417.2,70.94 418.18,72.45 419.17,76.27 420.15,78.41 421.14,78.85 422.12,80.33 423.11,78.96 424.09,80.2 425.07,83.7 426.06,84.46 427.04,84.92 428.03,85.89 429.01,90.78 430,93.32 430.98,94.79 431.97,97.34 432.95,99.19 433.94,101.27 434.92,104.09 435.9,105.88 436.89,106.98 437.87,107.74 438.86,109.71 439.84,112.62 440.83,114.79 441.81,116.11 442.8,117.03 443.78,118.39 444.76,120.39 445.75,122.31 446.73,124.15 447.72,125.17 448.7,126.08 449.69,128.29 450.67,128.26 451.66,127.96 452.64,129.16 453.62,130.01 454.61,131.26 455.59,131.61 456.58,132.19 457.56,132.4 458.55,132.37 459.53,134.13 460.52,134.04 461.5,132.6 462.49,133.02 463.47,133.33 464.45,133.31 465.44,134.02 466.42,134.99 467.41,134.3 468.39,133.47 469.38,133.76 470.36,133.91 471.35,134.21 472.33,132.98 473.31,132.23 474.3,132.14 475.28,131.75 476.27,130.81 477.25,129.41 478.24,129.07 479.22,128.81 480.21,128.48 481.19,127.26 482.18,126.52 483.16,126.73 484.14,125.59 485.13,125.46 486.11,126.57 487.1,126.72 488.08,126.19 489.07,125.14 490.05,125.03 491.04,126.06 492.02,126.23 493,126.18 493.99,127.44 494.97,128.1 495.96,128.22 496.94,129.37 497.93,131.49 498.91,132.69 499.9,132.45 500.88,133.9 501.87,134.73 502.85,135.64 503.83,137.93 504.82,138.68 505.8,139.07 506.79,139.81 507.77,140.79 508.76,141.36 509.74,142.26 510.73,143.55 511.71,144.74 512.69,146.11 513.68,146.61 514.66,147.69 515.65,149.17 516.63,150.28 517.62,151.43 518.6,152.61 519.59,154.06 520.57,155.67 521.56,157.61 522.54,159.99 523.52,162.56 524.51,164.51 525.49,166.5 526.48,169.78 527.46,171.7 528.45,174.51 529.43,177.53 530.42,178.87 531.4,181.34 532.38,182.89 533.37,185.47 534.35,189.96 535.34,192.62 536.32,195.75 537.31,200.01 538.29,202.94 539.28,204.94 540.26,206.35 541.25,207.6 542.23,209.66 543.21,210.93 544.2,210.55 545.18,211.94 546.17,213.79 547.15,214.09 548.14,214.36 549.12,215.63 550.11,217.98 551.09,218.87 552.08,217.53 553.06,216.5 554.04,219.3 555.03,221.91 556.01,221.52 557,221.32 557.98,220.35 558.97,219.29 559.95,218.34 560.94,218.11 561.92,219.67 562.9,219.54 563.89,220.44 564.87,222.52 565.86,221.95 566.84,220.31 567.83,221.66 568.81,221.81 569.8,220.05 570.78,221.2 571.76,221.82 572.75,221.74 573.73,221.9 574.72,221.17 575.7,221.92 576.69,221.83 577.67,220.65 578.66,220.82 579.64,223.04 580.63,225.19 581.61,223.26 582.59,222.36 583.58,223.47 584.56,223.66 585.55,224.22 586.53,223.92 587.52,223.51 588.5,223.84 589.49,223 590.47,223.45 591.45,223.02 592.44,223.86 593.42,222.87 594.41,222.28 595.39,223.78 596.38,222.12 597.36,222.62 598.35,222.8 599.33,222.93 600.32,224.88 601.3,224.59 602.28,222.45 603.27,223.18 604.25,225.38 605.24,225.47 606.22,223.99 607.21,223.36 608.19,222.82 609.18,222.68 610.16,223.18 611.14,225.16 612.13,223.91 613.11,222.41 614.1,223.49 615.08,223.84 616.07,224.65 617.05,224.39 618.04,223.13 619.02,222.07 620.01,222.84 620.99,222.52 621.97,223.33 622.96,224.48 623.94,224.57 624.93,224.02 625.91,223.69 626.9,223.96 627.88,222.72 628.87,225.07 629.85,224.76 630.84,222.99 631.82,224.9 632.8,226.63 633.79,226.65 634.77,226.97 635.76,226.7 636.74,225.12 637.73,223.83 638.71,223.97 639.7,224.56 640.68,223.46 641.66,222.73 642.65,223.82 643.63,224.83 644.62,225.81 645.6,227.24 646.59,226.31 647.57,225.5 648.56,226.23 649.54,226.54 650.52,225.09" fill="none" stroke="#111" stroke-width="0.85" stroke-linejoin="round" opacity="1"/>
<polyline points="394.55,71.22 395.54,75.91 396.52,63.06 397.51,73.56 398.49,61.43 399.48,69.8 400.46,67.47 401.45,67.74 402.43,68.63 403.42,68.52 404.4,67.79 405.38,67.29 406.37,66.57 407.35,65.69 408.34,67.69 409.32,65.6 410.31,66.4 411.29,69.18 412.28,65.23 413.26,67.57 414.25,69.66 415.23,67.68 416.21,70.22 417.2,76.07 418.18,75.84 419.17,74.39 420.15,78.41 421.14,78.03 422.12,79.58 423.11,81.27 424.09,82.54 425.07,84.92 426.06,87.26 427.04,90.11 428.03,91.75 429.01,92.8 430,94.31 430.98,96.15 431.97,98.24 432.95,99.7 433.94,101.82 434.92,105.06 435.9,107.04 436.89,108.12 437.87,109.43 438.86,110.85 439.84,112.65 440.83,114.91 441.81,116.74 442.8,118.93 443.78,120.29 444.76,121.13 445.75,123.11 446.73,125.06 447.72,126.75 448.7,128.19 449.69,129.21 450.67,130.68 451.66,131.65 452.64,131.93 453.62,132.48 454.61,133.63 455.59,135.37 456.58,136.07 457.56,136.77 458.55,137.59 459.53,138.62 460.52,139.46 461.5,139.56 462.49,139.48 463.47,139.97 464.45,140.58 465.44,140.49 466.42,139.98 467.41,140.21 468.39,140.47 469.38,140.17 470.36,140.25 471.35,140.86 472.33,141.26 473.31,141.59 474.3,141.31 475.28,139.9 476.27,139.64 477.25,138.92 478.24,137.51 479.22,137.84 480.21,137.67 481.19,137.74 482.18,138.27 483.16,137.62 484.14,137.08 485.13,136.97 486.11,137.31 487.1,136.39 488.08,135.94 489.07,136.74 490.05,136.75 491.04,137.08 492.02,137.88 493,138.71 493.99,139.91 494.97,139.7 495.96,140.09 496.94,142.11 497.93,142.83 498.91,143.78 499.9,143.69 500.88,143.98 501.87,145.27 502.85,145.75 503.83,147 504.82,148.23 505.8,149.6 506.79,150.65 507.77,151.33 508.76,151.99 509.74,152.76 510.73,153.03 511.71,153.27 512.69,154.77 513.68,156.77 514.66,157.48 515.65,157.51 516.63,158.99 517.62,161.17 518.6,162.35 519.59,162.85 520.57,165.35 521.56,167.08 522.54,168.59 523.52,170.43 524.51,170.72 525.49,172.72 526.48,175.59 527.46,178.24 528.45,180.87 529.43,181.92 530.42,183.35 531.4,186.4 532.38,189.15 533.37,191.31 534.35,192.93 535.34,195.68 536.32,198.79 537.31,201.58 538.29,205 539.28,206.27 540.26,207.34 541.25,209.64 542.23,211.15 543.21,212.21 544.2,213.14 545.18,214.35 546.17,214.4 547.15,214.35 548.14,215.15 549.12,216.11 550.11,216.95 551.09,217 552.08,216.9 553.06,216.78 554.04,217.72 555.03,219.13 556.01,220.59 557,220.96 557.98,220.78 558.97,220.8 559.95,221.46 560.94,219.98 561.92,219.01 562.9,221.94 563.89,223.1 564.87,222.72 565.86,221.83 566.84,220.13 567.83,221.16 568.81,221.6 569.8,221.17 570.78,220.86 571.76,219.72 572.75,220.44 573.73,221.02 574.72,221.34 575.7,222.24 576.69,223.19 577.67,222.74 578.66,221.99 579.64,222.6 580.63,222.67 581.61,222.59 582.59,223.38 583.58,223.7 584.56,222.11 585.55,221.95 586.53,221.82 587.52,222.57 588.5,224.7 589.49,223.79 590.47,222.24 591.45,222.88 592.44,223.05 593.42,221.91 594.41,221.63 595.39,222.46 596.38,223.36 597.36,224.58 598.35,224.57 599.33,223.17 600.32,222.18 601.3,223.4 602.28,225.15 603.27,225 604.25,223.74 605.24,224.94 606.22,226.48 607.21,223.08 608.19,221.82 609.18,224.42 610.16,225 611.14,223.42 612.13,223.01 613.11,223.86 614.1,224.91 615.08,224.17 616.07,223.62 617.05,223.68 618.04,223.42 619.02,224.43 620.01,223.69 620.99,223.75 621.97,224.55 622.96,224.69 623.94,225.23 624.93,224.98 625.91,225.34 626.9,225.01 627.88,223.57 628.87,222.39 629.85,222.33 630.84,223.89 631.82,223.91 632.8,223.5 633.79,223.27 634.77,224.56 635.76,224.83 636.74,224.36 637.73,224.63 638.71,224.56 639.7,224.77 640.68,224.65 641.66,226.77 642.65,227.3 643.63,226.09 644.62,225.37 645.6,226.88 646.59,227.82 647.57,226.7 648.56,225.98 649.54,225.28 650.52,225.75" fill="none" stroke="#111" stroke-width="0.85" stroke-linejoin="round" opacity="1"/>
<polyline points="394.55,72.22 395.54,77.34 396.52,75.64 397.51,67.07 398.49,69.33 399.48,70.22 400.46,71.5 401.45,67.97 402.43,66.37 403.42,66.36 404.4,64.93 405.38,63.94 406.37,65.84 407.35,66.64 408.34,65.19 409.32,64.51 410.31,64.64 411.29,66.57 412.28,68.95 413.26,66.79 414.25,67.99 415.23,69.52 416.21,69.49 417.2,73.79 418.18,78.32 419.17,78.15 420.15,78.49 421.14,81.74 422.12,84.56 423.11,83.32 424.09,82.3 425.07,85.63 426.06,87.18 427.04,88.78 428.03,90.98 429.01,93.14 430,95.29 430.98,98.7 431.97,100.38 432.95,101.18 433.94,103.49 434.92,104.94 435.9,107.47 436.89,111.28 437.87,111.92 438.86,112.35 439.84,115.5 440.83,117.63 441.81,118.43 442.8,120.51 443.78,122.25 444.76,122.54 445.75,123.91 446.73,126.52 447.72,128.57 448.7,130.41 449.69,131.87 450.67,132.95 451.66,134.72 452.64,136.39 453.62,136.3 454.61,136.79 455.59,139.1 456.58,140.32 457.56,140.21 458.55,140.25 459.53,141.92 460.52,143.19 461.5,143.14 462.49,143.89 463.47,145.25 464.45,146 465.44,146.01 466.42,146.42 467.41,147.47 468.39,147.69 469.38,147.14 470.36,147.08 471.35,147.83 472.33,147.45 473.31,147.67 474.3,148.39 475.28,148.46 476.27,147.94 477.25,147.29 478.24,148.22 479.22,148.36 480.21,146.71 481.19,145.9 482.18,146.51 483.16,146.4 484.14,147.18 485.13,147.99 486.11,147.96 487.1,148.05 488.08,147.77 489.07,147.36 490.05,147 491.04,147.13 492.02,146.84 493,147.97 493.99,149.7 494.97,149.87 495.96,150.85 496.94,151.82 497.93,151.98 498.91,153.09 499.9,154 500.88,154.07 501.87,155.67 502.85,158 503.83,158.3 504.82,158.55 505.8,159.28 506.79,159.75 507.77,160.38 508.76,160.38 509.74,160.85 510.73,162.22 511.71,163.86 512.69,165.61 513.68,166.94 514.66,167.17 515.65,167.2 516.63,168.2 517.62,169.64 518.6,171.26 519.59,173.01 520.57,174.4 521.56,174.77 522.54,176.25 523.52,177.66 524.51,178.75 525.49,180.55 526.48,182.06 527.46,184.08 528.45,185.74 529.43,188.26 530.42,190.89 531.4,192.41 532.38,194.06 533.37,195.53 534.35,197.51 535.34,200.15 536.32,202.15 537.31,204.49 538.29,206.22 539.28,208.47 540.26,210.18 541.25,210.39 542.23,211.89 543.21,213.35 544.2,213.48 545.18,214.06 546.17,215.97 547.15,217.08 548.14,216.45 549.12,216.82 550.11,216.99 551.09,215.39 552.08,217.38 553.06,218.33 554.04,219.08 555.03,220.06 556.01,220.23 557,219.74 557.98,220.4 558.97,221.14 559.95,220.34 560.94,220.04 561.92,221.79 562.9,223.63 563.89,222.85 564.87,221.81 565.86,221.17 566.84,220.97 567.83,219.69 568.81,219.45 569.8,220.6 570.78,221.54 571.76,221.49 572.75,220.7 573.73,220.87 574.72,221.54 575.7,221.66 576.69,220.53 577.67,221.65 578.66,224.43 579.64,223.31 580.63,221.24 581.61,222.08 582.59,223.01 583.58,220.87 584.56,220.95 585.55,223.94 586.53,224 587.52,222.79 588.5,222.94 589.49,223.65 590.47,223.03 591.45,223.12 592.44,223.3 593.42,223.07 594.41,224 595.39,223.97 596.38,224.09 597.36,223.51 598.35,223.39 599.33,224.31 600.32,225.01 601.3,225.22 602.28,224.85 603.27,223.47 604.25,222.69 605.24,223.46 606.22,224.71 607.21,226.05 608.19,224.94 609.18,225.07 610.16,224.16 611.14,223.5 612.13,224.28 613.11,223.81 614.1,224.07 615.08,223.77 616.07,224.2 617.05,224.55 618.04,223.21 619.02,223.37 620.01,224.2 620.99,224.64 621.97,224.73 622.96,224.03 623.94,224.3 624.93,226.07 625.91,225.8 626.9,224.72 627.88,224.53 628.87,224.43 629.85,223.65 630.84,224.6 631.82,226.49 632.8,225.17 633.79,225.24 634.77,225.51 635.76,224.8 636.74,226.5 637.73,226.03 638.71,223.62 639.7,223.98 640.68,226.03 641.66,225.63 642.65,225.39 643.63,226.07 644.62,225.03 645.6,225.53 646.59,227.09 647.57,226.64 648.56,225.45 649.54,225.98 650.52,226.53" fill="none" stroke="#111" stroke-width="0.85" stroke-linejoin="round" opacity="1"/>
<polyline points="394.55,75.99 395.54,93.55 396.52,65.17 397.51,84.03 398.49,75.2 399.48,68.35 400.46,68.49 401.45,65.96 402.43,65.11 403.42,63.68 404.4,63.86 405.38,65.56 406.37,66.19 407.35,68.87 408.34,68.59 409.32,66.89 410.31,67.07 411.29,68.22 412.28,69.96 413.26,72.25 414.25,73.21 415.23,72.52 416.21,72.04 417.2,78.68 418.18,80.59 419.17,75.86 420.15,76.33 421.14,78.72 422.12,80.99 423.11,83.66 424.09,86.35 425.07,86.72 426.06,89.78 427.04,93.11 428.03,93.59 429.01,95.33 430,97.41 430.98,99.57 431.97,101.64 432.95,103.09 433.94,105.43 434.92,107.79 435.9,109.69 436.89,112.14 437.87,113.97 438.86,114.82 439.84,115.96 440.83,118.03 441.81,120.42 442.8,121.39 443.78,122.34 444.76,124.9 445.75,126.96 446.73,128 447.72,129.88 448.7,132.34 449.69,134.44 450.67,135.22 451.66,135.24 452.64,136.91 453.62,138.53 454.61,138.89 455.59,141.29 456.58,143.51 457.56,143.45 458.55,143.84 459.53,145.19 460.52,146.47 461.5,147.22 462.49,148.21 463.47,148.08 464.45,148.97 465.44,151.48 466.42,151.6 467.41,150.87 468.39,151.76 469.38,152.96 470.36,153.69 471.35,154.12 472.33,154.44 473.31,155.02 474.3,155.3 475.28,155.14 476.27,153.76 477.25,153.62 478.24,154.39 479.22,153.43 480.21,153.79 481.19,155.18 482.18,154.73 483.16,154.92 484.14,155.15 485.13,154.31 486.11,155.08 487.1,155.98 488.08,154.99 489.07,155.44 490.05,156.74 491.04,156.53 492.02,156.8 493,157.76 493.99,157.48 494.97,157.93 495.96,159.06 496.94,159.56 497.93,160.43 498.91,161.6 499.9,161.94 500.88,162.39 501.87,163.06 502.85,164.13 503.83,165.62 504.82,165.65 505.8,166.1 506.79,167.26 507.77,168.02 508.76,168.94 509.74,169.52 510.73,170.8 511.71,171.49 512.69,170.57 513.68,171.09 514.66,172.18 515.65,173.66 516.63,174.77 517.62,175.8 518.6,177.15 519.59,178.18 520.57,180.77 521.56,181.53 522.54,181.12 523.52,182.42 524.51,184.39 525.49,185.97 526.48,187.09 527.46,190.16 528.45,192.9 529.43,193.55 530.42,194.56 531.4,196.04 532.38,197.53 533.37,198.54 534.35,201 535.34,204.22 536.32,205.7 537.31,207.51 538.29,209.06 539.28,209.91 540.26,211.4 541.25,212.27 542.23,212.07 543.21,212.59 544.2,213.03 545.18,213.67 546.17,215.17 547.15,215.48 548.14,215.71 549.12,216.18 550.11,216.25 551.09,220.24 552.08,220.86 553.06,219.54 554.04,218.59 555.03,219.12 556.01,219.04 557,219.94 557.98,221.37 558.97,220.04 559.95,219.68 560.94,220.48 561.92,219.65 562.9,219.07 563.89,220.76 564.87,221.51 565.86,222.27 566.84,222.52 567.83,221.13 568.81,222.45 569.8,221.71 570.78,219.13 571.76,219.98 572.75,220.83 573.73,220.19 574.72,221.05 575.7,221.45 576.69,221.13 577.67,223.03 578.66,224.02 579.64,223.4 580.63,222.05 581.61,221.64 582.59,221.76 583.58,222.22 584.56,223.9 585.55,222.14 586.53,219.34 587.52,220.59 588.5,222.73 589.49,222.21 590.47,222.91 591.45,223.96 592.44,224.25 593.42,223.81 594.41,222.66 595.39,223.34 596.38,224.03 597.36,224.88 598.35,225.06 599.33,223.15 600.32,222.86 601.3,222.89 602.28,223.3 603.27,224.31 604.25,224.07 605.24,224.25 606.22,223.42 607.21,224.75 608.19,224.81 609.18,222.9 610.16,223.47 611.14,223.96 612.13,224.17 613.11,223.77 614.1,223.62 615.08,224.76 616.07,224.74 617.05,223.49 618.04,223.38 619.02,224.08 620.01,224.24 620.99,224.66 621.97,225.17 622.96,226.2 623.94,226.05 624.93,224.04 625.91,224.22 626.9,225.61 627.88,224.72 628.87,224 629.85,224.57 630.84,224.38 631.82,224.02 632.8,224.42 633.79,225.54 634.77,224.3 635.76,223.7 636.74,225.51 637.73,225.45 638.71,224.08 639.7,225.24 640.68,225.18 641.66,224.3 642.65,223.83 643.63,223.28 644.62,224.8 645.6,224.4 646.59,223.44 647.57,224.59 648.56,225.35 649.54,225.48 650.52,225.01" fill="none" stroke="#111" stroke-width="0.85" stroke-linejoin="round" opacity="1"/>
<polyline points="394.55,46.91 395.54,74.7 396.52,75.37 397.51,57.88 398.49,53.5 399.48,67.28 400.46,71.87 401.45,70.59 402.43,69.17 403.42,68.23 404.4,64.27 405.38,63.51 406.37,66.12 407.35,68.49 408.34,69.18 409.32,68.27 410.31,68.93 411.29,70.96 412.28,74.55 413.26,75.99 414.25,74.5 415.23,75.21 416.21,73.61 417.2,76.25 418.18,81.48 419.17,80.07 420.15,81.01 421.14,83.61 422.12,83.41 423.11,84.72 424.09,87.8 425.07,88.25 426.06,87.61 427.04,91.71 428.03,95.66 429.01,95.89 430,97.91 430.98,100.9 431.97,103.14 432.95,104.43 433.94,106.72 434.92,108.94 435.9,110.26 436.89,112.58 437.87,114.39 438.86,115.67 439.84,117.33 440.83,119.07 441.81,122.04 442.8,123.91 443.78,124.82 444.76,126.62 445.75,129.11 446.73,130.97 447.72,132.18 448.7,134.77 449.69,135.99 450.67,137.41 451.66,140 452.64,140.99 453.62,142.28 454.61,143.73 455.59,144.97 456.58,146.37 457.56,147.21 458.55,148.62 459.53,149.77 460.52,150.48 461.5,152.29 462.49,153.27 463.47,153.53 464.45,154.76 465.44,155.44 466.42,155.64 467.41,156.67 468.39,158.9 469.38,159.82 470.36,159.94 471.35,160.91 472.33,161.26 473.31,161.72 474.3,161.49 475.28,161.53 476.27,162.55 477.25,162.63 478.24,162.56 479.22,162.64 480.21,162.94 481.19,163.72 482.18,164.17 483.16,165.38 484.14,166.39 485.13,165.25 486.11,165.02 487.1,164.96 488.08,164.29 489.07,165.97 490.05,166.98 491.04,165.5 492.02,166.42 493,168.02 493.99,168.27 494.97,169.07 495.96,169.61 496.94,170.03 497.93,170.11 498.91,171.1 499.9,171.91 500.88,172.57 501.87,173.26 502.85,173.45 503.83,174.69 504.82,175.41 505.8,176.03 506.79,177.1 507.77,176.86 508.76,177.9 509.74,178.8 510.73,178.31 511.71,179.51 512.69,180.05 513.68,180.12 514.66,181.97 515.65,182.96 516.63,183.01 517.62,184.47 518.6,185.38 519.59,185.7 520.57,187.28 521.56,189.53 522.54,190.05 523.52,190.55 524.51,192.64 525.49,193.72 526.48,195.41 527.46,196.84 528.45,196.52 529.43,198.95 530.42,200.63 531.4,200.94 532.38,202.52 533.37,203.82 534.35,204.82 535.34,205.95 536.32,208.03 537.31,210 538.29,211.16 539.28,211.17 540.26,212.45 541.25,213.62 542.23,213.68 543.21,215.44 544.2,215.7 545.18,215.37 546.17,215.39 547.15,215.08 548.14,216.66 549.12,217.94 550.11,219.21 551.09,220.7 552.08,219.23 553.06,218.69 554.04,219.8 555.03,219.98 556.01,219.42 557,218.83 557.98,219.51 558.97,220.51 559.95,220.6 560.94,219.11 561.92,220.82 562.9,223.28 563.89,221.55 564.87,220.71 565.86,220.26 566.84,219.51 567.83,219.07 568.81,220.69 569.8,221.76 570.78,221.44 571.76,221.26 572.75,221.04 573.73,221.17 574.72,221.92 575.7,222.52 576.69,222.42 577.67,222.8 578.66,222.82 579.64,223.44 580.63,222.36 581.61,221.46 582.59,221.53 583.58,222.53 584.56,224.8 585.55,224.6 586.53,223.34 587.52,222.35 588.5,221.52 589.49,221.26 590.47,220.96 591.45,221.37 592.44,222.46 593.42,223.59 594.41,223.23 595.39,223.09 596.38,224.22 597.36,223.48 598.35,222.78 599.33,222.64 600.32,223.37 601.3,223.19 602.28,222.45 603.27,223.48 604.25,224.34 605.24,225.05 606.22,225.54 607.21,223.78 608.19,223.86 609.18,224.47 610.16,223.66 611.14,224.59 612.13,224.8 613.11,224.49 614.1,223.53 615.08,223.1 616.07,223.8 617.05,225.25 618.04,226.59 619.02,224.27 620.01,223.75 620.99,226.29 621.97,224.78 622.96,224.77 623.94,225.08 624.93,223.35 625.91,223.75 626.9,223.76 627.88,224.99 628.87,226.62 629.85,225.78 630.84,224.92 631.82,224.88 632.8,224.57 633.79,225.08 634.77,227 635.76,226.19 636.74,224.84 637.73,224.57 638.71,222.91 639.7,223.47 640.68,224.59 641.66,225.32 642.65,225.11 643.63,224.23 644.62,224.73 645.6,224.33 646.59,225.36 647.57,225.63 648.56,224.49 649.54,223.76 650.52,225.42" fill="none" stroke="#111" stroke-width="0.85" stroke-linejoin="round" opacity="1"/>
<polyline points="394.55,71.57 395.54,64.41 396.52,69.14 397.51,64.29 398.49,74.27 399.48,67.26 400.46,64.04 401.45,65.33 402.43,66.58 403.42,66.64 404.4,67.09 405.38,68.09 406.37,71.07 407.35,69.47 408.34,66.09 409.32,68.91 410.31,67.38 411.29,68.44 412.28,70.78 413.26,69.61 414.25,71.77 415.23,71.61 416.21,72.07 417.2,75.29 418.18,79.91 419.17,83.37 420.15,82.95 421.14,80.15 422.12,80.66 423.11,84.79 424.09,87.36 425.07,88.08 426.06,88.75 427.04,92.42 428.03,95.57 429.01,97.07 430,99.84 430.98,102.59 431.97,103.77 432.95,105.25 433.94,108 434.92,110.08 435.9,111.45 436.89,113.37 437.87,114.96 438.86,117.01 439.84,120.02 440.83,121.83 441.81,123.8 442.8,125.8 443.78,126.66 444.76,127.57 445.75,129.74 446.73,132.34 447.72,134.9 448.7,137.22 449.69,138.34 450.67,139.48 451.66,141.6 452.64,143.53 453.62,144.12 454.61,145.01 455.59,147.28 456.58,149.16 457.56,150.05 458.55,151.41 459.53,153.25 460.52,155.47 461.5,157.63 462.49,158.97 463.47,160.35 464.45,160.53 465.44,160.37 466.42,161.84 467.41,162.82 468.39,163.19 469.38,164.38 470.36,166.19 471.35,166.28 472.33,165.66 473.31,167.26 474.3,167.55 475.28,167.77 476.27,169.57 477.25,170.28 478.24,171.25 479.22,171.66 480.21,171.94 481.19,171.62 482.18,171.09 483.16,172.68 484.14,172.95 485.13,173.5 486.11,174.07 487.1,173.39 488.08,173.79 489.07,174.92 490.05,175.39 491.04,175.34 492.02,175.7 493,175.37 493.99,175.07 494.97,175.5 495.96,177.08 496.94,178.66 497.93,178.83 498.91,178.81 499.9,180.38 500.88,181.48 501.87,180.23 502.85,181.11 503.83,182.9 504.82,183.23 505.8,183.23 506.79,183.51 507.77,184.47 508.76,185.75 509.74,185.89 510.73,185.78 511.71,187.02 512.69,187.66 513.68,187.65 514.66,189.07 515.65,190.92 516.63,191.46 517.62,191.92 518.6,193.72 519.59,194.44 520.57,193.32 521.56,194.06 522.54,194.98 523.52,197.1 524.51,198.6 525.49,197.59 526.48,197.91 527.46,199.97 528.45,202.26 529.43,202.9 530.42,204.08 531.4,205.39 532.38,206.58 533.37,207.39 534.35,207.72 535.34,208.14 536.32,209.08 537.31,211.23 538.29,212.46 539.28,213.64 540.26,214.32 541.25,214.48 542.23,214.91 543.21,214.92 544.2,216.58 545.18,217.34 546.17,216.47 547.15,217.62 548.14,217.46 549.12,217.6 550.11,216.82 551.09,215.67 552.08,217.79 553.06,218.42 554.04,218.62 555.03,219.8 556.01,221.36 557,222.24 557.98,221.42 558.97,220.66 559.95,220.66 560.94,219.82 561.92,221.5 562.9,221.54 563.89,220.45 564.87,220.93 565.86,220.88 566.84,221.14 567.83,221.56 568.81,220.85 569.8,221.68 570.78,223.44 571.76,223.34 572.75,221.76 573.73,221.5 574.72,220.92 575.7,223.04 576.69,225.07 577.67,223.17 578.66,222.5 579.64,221.24 580.63,221.64 581.61,223.45 582.59,222.74 583.58,220.89 584.56,223.47 585.55,224.24 586.53,222.17 587.52,223.28 588.5,223.9 589.49,223.12 590.47,222.79 591.45,223.24 592.44,224.18 593.42,223.83 594.41,223.51 595.39,223.71 596.38,223.7 597.36,223.66 598.35,222.72 599.33,222.74 600.32,222.86 601.3,224.11 602.28,224.3 603.27,223.11 604.25,223.96 605.24,224.35 606.22,226.01 607.21,225.88 608.19,224.15 609.18,225.94 610.16,225.3 611.14,224.13 612.13,224.35 613.11,224.1 614.1,223.99 615.08,223.79 616.07,224.4 617.05,224.14 618.04,223.35 619.02,225.44 620.01,226.08 620.99,224.88 621.97,225.76 622.96,224.39 623.94,222.89 624.93,224.67 625.91,226.25 626.9,224.91 627.88,224.58 628.87,225.46 629.85,226.49 630.84,226.39 631.82,224.11 632.8,224.38 633.79,225.35 634.77,223.74 635.76,223.03 636.74,223.29 637.73,223.5 638.71,223.7 639.7,225.43 640.68,226.95 641.66,226.97 642.65,224.74 643.63,223.39 644.62,225.16 645.6,225.87 646.59,226.55 647.57,228.09 648.56,225.69 649.54,223.69 650.52,225.32" fill="none" stroke="#111" stroke-width="0.85" stroke-linejoin="round" opacity="1"/>
<polyline points="394.55,62.85 395.54,71.83 396.52,74.52 397.51,69.55 398.49,59.68 399.48,67.41 400.46,72.65 401.45,65.54 402.43,65.2 403.42,68.78 404.4,69.41 405.38,68.16 406.37,69.05 407.35,68.86 408.34,66.51 409.32,65.09 410.31,68.39 411.29,67.86 412.28,68.89 413.26,73.29 414.25,74.62 415.23,75.32 416.21,76.41 417.2,76.08 418.18,77.96 419.17,80.97 420.15,80.78 421.14,81.83 422.12,83.56 423.11,85.5 424.09,90.8 425.07,94.65 426.06,96.08 427.04,95.43 428.03,95.01 429.01,98.9 430,101.66 430.98,103.4 431.97,105.13 432.95,107.27 433.94,109.66 434.92,112.31 435.9,113.07 436.89,114.89 437.87,117.54 438.86,118.3 439.84,121.04 440.83,123.23 441.81,124.21 442.8,126.51 443.78,128.31 444.76,130.71 445.75,133.82 446.73,134.22 447.72,135.13 448.7,137.41 449.69,138.51 450.67,140.55 451.66,142.6 452.64,144.09 453.62,145.23 454.61,146.99 455.59,148.78 456.58,150.76 457.56,153.14 458.55,154.47 459.53,155.53 460.52,156.73 461.5,157.35 462.49,158.5 463.47,160.64 464.45,161.28 465.44,162.34 466.42,164.29 467.41,165.34 468.39,166.77 469.38,168.59 470.36,169.36 471.35,169.92 472.33,171.25 473.31,171.81 474.3,172.18 475.28,173.17 476.27,174.56 477.25,174.97 478.24,173.84 479.22,173.88 480.21,174.72 481.19,175.66 482.18,176.15 483.16,176.93 484.14,178.12 485.13,178 486.11,178.9 487.1,179.53 488.08,179.11 489.07,178.73 490.05,179.62 491.04,180.65 492.02,181.07 493,181.99 493.99,183.43 494.97,184.07 495.96,182.66 496.94,182.4 497.93,183.32 498.91,182.87 499.9,183.19 500.88,185.5 501.87,186.38 502.85,186.34 503.83,186.01 504.82,186.96 505.8,188.08 506.79,187.73 507.77,188.88 508.76,189.87 509.74,191.02 510.73,191.6 511.71,192.3 512.69,193.15 513.68,191.89 514.66,192.17 515.65,193.65 516.63,194.47 517.62,194.18 518.6,194.73 519.59,196.04 520.57,197.29 521.56,198.77 522.54,199.85 523.52,200.52 524.51,201.2 525.49,201.53 526.48,201.84 527.46,203.35 528.45,204.88 529.43,207.12 530.42,207.99 531.4,207.28 532.38,207.49 533.37,209.96 534.35,212.35 535.34,211.72 536.32,211.94 537.31,212.98 538.29,213.53 539.28,213.86 540.26,215.15 541.25,216.28 542.23,215.46 543.21,215.56 544.2,216.86 545.18,217.15 546.17,217.01 547.15,218.02 548.14,218.18 549.12,217.76 550.11,218.19 551.09,218.21 552.08,219.42 553.06,219.78 554.04,219.27 555.03,220.73 556.01,221.22 557,219.86 557.98,220 558.97,221.27 559.95,221.49 560.94,221.95 561.92,220.88 562.9,218.79 563.89,218.61 564.87,219.96 565.86,220.49 566.84,221.2 567.83,222.21 568.81,222.9 569.8,221.56 570.78,221.03 571.76,222.69 572.75,222.98 573.73,222.39 574.72,222.39 575.7,222.59 576.69,222.13 577.67,221.22 578.66,222.32 579.64,223.14 580.63,222.8 581.61,223.39 582.59,221.75 583.58,221.03 584.56,222.55 585.55,222.7 586.53,222.49 587.52,222.08 588.5,222.48 589.49,222.98 590.47,222.83 591.45,223.23 592.44,223.23 593.42,223.75 594.41,223.61 595.39,222.48 596.38,223.05 597.36,224.1 598.35,223.44 599.33,223.75 600.32,223.43 601.3,222.41 602.28,224.78 603.27,225.82 604.25,224.98 605.24,223.94 606.22,222.5 607.21,224.03 608.19,225.27 609.18,224.49 610.16,224.31 611.14,223.77 612.13,222.82 613.11,222.96 614.1,222.92 615.08,222.71 616.07,223.6 617.05,224.65 618.04,225.17 619.02,224.3 620.01,223.14 620.99,223.04 621.97,223.97 622.96,225.04 623.94,224.64 624.93,223.47 625.91,223.44 626.9,224.23 627.88,225.13 628.87,225 629.85,224.04 630.84,225.09 631.82,224.23 632.8,224.24 633.79,224.88 634.77,224.38 635.76,224.97 636.74,225.43 637.73,225.99 638.71,224.93 639.7,224.68 640.68,225.47 641.66,224.7 642.65,223.95 643.63,224.5 644.62,224.88 645.6,223.76 646.59,224.07 647.57,225.06 648.56,224.65 649.54,225.97 650.52,227.71" fill="none" stroke="#111" stroke-width="0.85" stroke-linejoin="round" opacity="1"/>
<polyline points="394.55,90.57 395.54,77.04 396.52,69.01 397.51,64.64 398.49,69.74 399.48,67.8 400.46,63.53 401.45,69.38 402.43,67.27 403.42,65.77 404.4,64.71 405.38,68.24 406.37,69.25 407.35,66.39 408.34,69.25 409.32,70.71 410.31,70.88 411.29,73.18 412.28,74.46 413.26,72.19 414.25,74.91 415.23,78.1 416.21,80.97 417.2,82.92 418.18,80.15 419.17,80.97 420.15,83.17 421.14,86.56 422.12,87.41 423.11,88.82 424.09,90.1 425.07,90.22 426.06,94.24 427.04,94.76 428.03,96.83 429.01,99.9 430,101.75 430.98,104.41 431.97,106.13 432.95,108.03 433.94,110.58 434.92,112.83 435.9,114.64 436.89,116.43 437.87,118.58 438.86,121.01 439.84,124.01 440.83,125.45 441.81,126.2 442.8,127.47 443.78,129.05 444.76,131.03 445.75,132.32 446.73,134.87 447.72,138.06 448.7,139.47 449.69,141.2 450.67,143.58 451.66,144.39 452.64,145.79 453.62,147.76 454.61,150.5 455.59,152.79 456.58,153.3 457.56,155.66 458.55,157.77 459.53,158.54 460.52,161.38 461.5,162.33 462.49,163.01 463.47,165.28 464.45,165.44 465.44,167.6 466.42,169.53 467.41,170.14 468.39,171.6 469.38,172.99 470.36,173.47 471.35,174.71 472.33,176.23 473.31,176.34 474.3,177.45 475.28,178.7 476.27,179.59 477.25,179.72 478.24,180.11 479.22,181.37 480.21,182.81 481.19,183.34 482.18,183.14 483.16,183.82 484.14,183.93 485.13,185.4 486.11,185.39 487.1,185.01 488.08,187.3 489.07,188.54 490.05,187.98 491.04,187.27 492.02,188.26 493,189.01 493.99,189.25 494.97,189.85 495.96,189.76 496.94,189.63 497.93,190.65 498.91,192.19 499.9,191.85 500.88,191.69 501.87,193.33 502.85,192.9 503.83,192.61 504.82,194.75 505.8,196.34 506.79,196.04 507.77,196.37 508.76,196.78 509.74,195.39 510.73,194.37 511.71,196.26 512.69,197.91 513.68,198.02 514.66,199.07 515.65,200.86 516.63,200.88 517.62,200.86 518.6,201.81 519.59,202.01 520.57,203.28 521.56,203.44 522.54,203.64 523.52,205.03 524.51,205.96 525.49,206.41 526.48,206.4 527.46,207.76 528.45,208.68 529.43,209.3 530.42,210.86 531.4,211.44 532.38,211.12 533.37,211.27 534.35,211.64 535.34,212.85 536.32,214.12 537.31,214.31 538.29,214.38 539.28,214.98 540.26,216.23 541.25,217.37 542.23,216.7 543.21,215.76 544.2,217.04 545.18,217.17 546.17,217.18 547.15,218 548.14,217.63 549.12,218.37 550.11,220.25 551.09,221.74 552.08,220.53 553.06,219.11 554.04,218.89 555.03,218.97 556.01,219.71 557,219.48 557.98,220.48 558.97,221.19 559.95,220.18 560.94,220.69 561.92,219.89 562.9,219.58 563.89,219.96 564.87,219.71 565.86,220.94 566.84,220.25 567.83,219.37 568.81,220.88 569.8,221.88 570.78,222.74 571.76,222.83 572.75,222.31 573.73,222.11 574.72,222.32 575.7,222.11 576.69,221.92 577.67,223.59 578.66,223.96 579.64,223.51 580.63,224.14 581.61,223.72 582.59,222.14 583.58,222.84 584.56,225.07 585.55,224.4 586.53,220.74 587.52,221.11 588.5,223.18 589.49,223.09 590.47,222.71 591.45,221.37 592.44,222.18 593.42,222.42 594.41,223.16 595.39,223.93 596.38,224.12 597.36,224.18 598.35,223.74 599.33,223.75 600.32,224.17 601.3,224.22 602.28,223.35 603.27,223.99 604.25,224.72 605.24,225.23 606.22,224.97 607.21,223.83 608.19,223.68 609.18,223.9 610.16,222.9 611.14,223.3 612.13,224.07 613.11,223.26 614.1,223.13 615.08,223.5 616.07,223.87 617.05,222.76 618.04,222.92 619.02,224.68 620.01,224.22 620.99,222.75 621.97,222.18 622.96,223.41 623.94,223.88 624.93,223.57 625.91,224.17 626.9,224.09 627.88,223.72 628.87,224.13 629.85,223.34 630.84,223.76 631.82,224.04 632.8,222.23 633.79,221.72 634.77,223.11 635.76,224.85 636.74,226.27 637.73,226.21 638.71,223.23 639.7,224.38 640.68,227.37 641.66,225.6 642.65,224.02 643.63,226.02 644.62,226.55 645.6,224.96 646.59,226.06 647.57,225.62 648.56,225.5 649.54,225.39 650.52,224.27" fill="none" stroke="#111" stroke-width="0.85" stroke-linejoin="round" opacity="1"/>
</g>
<rect x="394.6" y="27.1" width="255.9" height="208.1" fill="none" stroke="#2b2b2b" stroke-width="1.1"/>
<line x1="390.4" y1="205.3" x2="394.6" y2="205.3" stroke="#2b2b2b" stroke-width="1.1"/>
<text x="387.4" y="209.2" font-size="12" text-anchor="end" font-weight="normal" >0.02</text>
<line x1="390.4" y1="165.7" x2="394.6" y2="165.7" stroke="#2b2b2b" stroke-width="1.1"/>
<text x="387.4" y="169.6" font-size="12" text-anchor="end" font-weight="normal" >0.04</text>
<line x1="390.4" y1="126.1" x2="394.6" y2="126.1" stroke="#2b2b2b" stroke-width="1.1"/>
<text x="387.4" y="130" font-size="12" text-anchor="end" font-weight="normal" >0.06</text>
<line x1="390.4" y1="86.5" x2="394.6" y2="86.5" stroke="#2b2b2b" stroke-width="1.1"/>
<text x="387.4" y="90.4" font-size="12" text-anchor="end" font-weight="normal" >0.08</text>
<line x1="390.4" y1="46.9" x2="394.6" y2="46.9" stroke="#2b2b2b" stroke-width="1.1"/>
<text x="387.4" y="50.8" font-size="12" text-anchor="end" font-weight="normal" >0.10</text>
<line x1="392.3" y1="225.1" x2="394.6" y2="225.1" stroke="#2b2b2b" stroke-width="1.1"/>
<line x1="392.3" y1="185.5" x2="394.6" y2="185.5" stroke="#2b2b2b" stroke-width="1.1"/>
<line x1="392.3" y1="145.9" x2="394.6" y2="145.9" stroke="#2b2b2b" stroke-width="1.1"/>
<line x1="392.3" y1="106.3" x2="394.6" y2="106.3" stroke="#2b2b2b" stroke-width="1.1"/>
<line x1="392.3" y1="66.7" x2="394.6" y2="66.7" stroke="#2b2b2b" stroke-width="1.1"/>
<line x1="392.3" y1="27.1" x2="394.6" y2="27.1" stroke="#2b2b2b" stroke-width="1.1"/>
<line x1="404.4" y1="235.2" x2="404.4" y2="239.4" stroke="#2b2b2b" stroke-width="1.1"/>
<text x="404.4" y="252.2" font-size="12" text-anchor="middle" font-weight="normal" >350</text>
<line x1="453.62" y1="235.2" x2="453.62" y2="239.4" stroke="#2b2b2b" stroke-width="1.1"/>
<text x="453.62" y="252.2" font-size="12" text-anchor="middle" font-weight="normal" >400</text>
<line x1="502.85" y1="235.2" x2="502.85" y2="239.4" stroke="#2b2b2b" stroke-width="1.1"/>
<text x="502.85" y="252.2" font-size="12" text-anchor="middle" font-weight="normal" >450</text>
<line x1="552.08" y1="235.2" x2="552.08" y2="239.4" stroke="#2b2b2b" stroke-width="1.1"/>
<text x="552.08" y="252.2" font-size="12" text-anchor="middle" font-weight="normal" >500</text>
<line x1="601.3" y1="235.2" x2="601.3" y2="239.4" stroke="#2b2b2b" stroke-width="1.1"/>
<text x="601.3" y="252.2" font-size="12" text-anchor="middle" font-weight="normal" >550</text>
<line x1="650.52" y1="235.2" x2="650.52" y2="239.4" stroke="#2b2b2b" stroke-width="1.1"/>
<text x="650.52" y="252.2" font-size="12" text-anchor="middle" font-weight="normal" >600</text>
<line x1="429.01" y1="235.2" x2="429.01" y2="237.5" stroke="#2b2b2b" stroke-width="1.1"/>
<line x1="478.24" y1="235.2" x2="478.24" y2="237.5" stroke="#2b2b2b" stroke-width="1.1"/>
<line x1="527.46" y1="235.2" x2="527.46" y2="237.5" stroke="#2b2b2b" stroke-width="1.1"/>
<line x1="576.69" y1="235.2" x2="576.69" y2="237.5" stroke="#2b2b2b" stroke-width="1.1"/>
<line x1="625.91" y1="235.2" x2="625.91" y2="237.5" stroke="#2b2b2b" stroke-width="1.1"/>
<text x="523" y="278.2" font-size="14.6" text-anchor="middle" font-weight="normal" >Wavelength (nm)</text>
<text x="394.5" y="14.7" font-size="16" text-anchor="middle" font-weight="bold" >b</text>
<text transform="translate(355.9,132.2) rotate(-90)" font-size="14.6" text-anchor="middle">Absorbance</text>
<g clip-path="url(#cc)">
<g fill="#888"><circle cx="59.4" cy="494.09" r="2.3"/><circle cx="59.79" cy="485.67" r="2.3"/><circle cx="60.15" cy="485.7" r="2.3"/><circle cx="60.49" cy="479.25" r="2.3"/><circle cx="60.83" cy="480.95" r="2.3"/><circle cx="61.16" cy="477.93" r="2.3"/><circle cx="61.5" cy="475.61" r="2.3"/><circle cx="61.83" cy="469.52" r="2.3"/><circle cx="62.15" cy="475.21" r="2.3"/><circle cx="62.48" cy="466.4" r="2.3"/><circle cx="62.81" cy="465.99" r="2.3"/><circle cx="63.13" cy="465.42" r="2.3"/><circle cx="63.45" cy="462.85" r="2.3"/><circle cx="63.78" cy="458.05" r="2.3"/><circle cx="64.1" cy="456.47" r="2.3"/><circle cx="64.42" cy="452.53" r="2.3"/><circle cx="64.74" cy="456.55" r="2.3"/><circle cx="65.06" cy="457.94" r="2.3"/><circle cx="65.37" cy="452.98" r="2.3"/><circle cx="65.69" cy="450.48" r="2.3"/><circle cx="66.01" cy="449.51" r="2.3"/><circle cx="66.33" cy="443.88" r="2.3"/><circle cx="66.64" cy="439.78" r="2.3"/><circle cx="66.96" cy="443.01" r="2.3"/><circle cx="67.27" cy="446.94" r="2.3"/><circle cx="67.59" cy="438.58" r="2.3"/><circle cx="67.9" cy="441.39" r="2.3"/><circle cx="68.22" cy="438.37" r="2.3"/><circle cx="68.53" cy="435.11" r="2.3"/><circle cx="68.84" cy="435.01" r="2.3"/><circle cx="69.16" cy="434.86" r="2.3"/><circle cx="69.47" cy="432.78" r="2.3"/><circle cx="69.78" cy="430.43" r="2.3"/><circle cx="70.09" cy="429.6" r="2.3"/><circle cx="70.4" cy="424.91" r="2.3"/><circle cx="70.71" cy="436.31" r="2.3"/><circle cx="71.02" cy="429.77" r="2.3"/><circle cx="71.34" cy="428.22" r="2.3"/><circle cx="71.65" cy="423.7" r="2.3"/><circle cx="71.95" cy="424.17" r="2.3"/><circle cx="72.26" cy="421.62" r="2.3"/><circle cx="72.57" cy="426.26" r="2.3"/><circle cx="72.88" cy="422.32" r="2.3"/><circle cx="73.19" cy="419.24" r="2.3"/><circle cx="73.5" cy="420.04" r="2.3"/><circle cx="73.81" cy="419.99" r="2.3"/><circle cx="74.11" cy="417.44" r="2.3"/><circle cx="74.42" cy="413.16" r="2.3"/><circle cx="74.73" cy="421.57" r="2.3"/><circle cx="75.04" cy="411.6" r="2.3"/><circle cx="75.34" cy="414" r="2.3"/><circle cx="75.65" cy="415.99" r="2.3"/><circle cx="75.95" cy="411.44" r="2.3"/><circle cx="76.26" cy="412.17" r="2.3"/><circle cx="76.56" cy="408.51" r="2.3"/><circle cx="76.87" cy="412.72" r="2.3"/><circle cx="77.17" cy="407.59" r="2.3"/><circle cx="77.48" cy="411.47" r="2.3"/><circle cx="77.78" cy="407.71" r="2.3"/><circle cx="78.09" cy="406.06" r="2.3"/><circle cx="78.39" cy="407.27" r="2.3"/><circle cx="78.69" cy="404.78" r="2.3"/><circle cx="79" cy="407.15" r="2.3"/><circle cx="79.3" cy="402.37" r="2.3"/><circle cx="79.6" cy="405.57" r="2.3"/><circle cx="79.91" cy="405.4" r="2.3"/><circle cx="80.21" cy="403.3" r="2.3"/><circle cx="80.51" cy="402.5" r="2.3"/><circle cx="80.81" cy="403.8" r="2.3"/><circle cx="81.11" cy="399.14" r="2.3"/><circle cx="81.41" cy="400.8" r="2.3"/><circle cx="81.71" cy="398.39" r="2.3"/><circle cx="82.01" cy="402.96" r="2.3"/><circle cx="82.31" cy="401.93" r="2.3"/><circle cx="82.61" cy="398.75" r="2.3"/><circle cx="82.91" cy="399.97" r="2.3"/><circle cx="83.21" cy="397.28" r="2.3"/><circle cx="83.51" cy="395" r="2.3"/><circle cx="83.81" cy="393.07" r="2.3"/><circle cx="84.11" cy="391.65" r="2.3"/><circle cx="84.41" cy="392.79" r="2.3"/><circle cx="84.71" cy="395.92" r="2.3"/><circle cx="85.01" cy="392.32" r="2.3"/><circle cx="85.3" cy="394.38" r="2.3"/><circle cx="85.6" cy="391.32" r="2.3"/><circle cx="85.9" cy="394.57" r="2.3"/><circle cx="86.19" cy="388.45" r="2.3"/><circle cx="86.49" cy="390.12" r="2.3"/><circle cx="86.79" cy="391.23" r="2.3"/><circle cx="87.08" cy="393.16" r="2.3"/><circle cx="87.38" cy="388.97" r="2.3"/><circle cx="87.67" cy="390.28" r="2.3"/><circle cx="87.97" cy="388.08" r="2.3"/><circle cx="88.26" cy="389.71" r="2.3"/><circle cx="88.56" cy="388.86" r="2.3"/><circle cx="88.85" cy="385.92" r="2.3"/><circle cx="89.15" cy="383.68" r="2.3"/><circle cx="89.44" cy="388.95" r="2.3"/><circle cx="89.74" cy="386.28" r="2.3"/><circle cx="90.03" cy="384.64" r="2.3"/><circle cx="90.32" cy="385.31" r="2.3"/><circle cx="90.62" cy="385.44" r="2.3"/><circle cx="90.91" cy="379.9" r="2.3"/><circle cx="91.2" cy="385.34" r="2.3"/><circle cx="91.49" cy="382.6" r="2.3"/><circle cx="91.78" cy="383.8" r="2.3"/><circle cx="92.08" cy="382.64" r="2.3"/><circle cx="92.37" cy="386.27" r="2.3"/><circle cx="92.66" cy="380.04" r="2.3"/><circle cx="92.95" cy="381.63" r="2.3"/><circle cx="93.24" cy="382.57" r="2.3"/><circle cx="93.53" cy="377.56" r="2.3"/><circle cx="93.82" cy="380.56" r="2.3"/><circle cx="94.11" cy="380.74" r="2.3"/><circle cx="94.4" cy="380.74" r="2.3"/><circle cx="94.69" cy="377.17" r="2.3"/><circle cx="94.98" cy="378.52" r="2.3"/><circle cx="95.27" cy="378.7" r="2.3"/><circle cx="95.55" cy="379.94" r="2.3"/><circle cx="95.84" cy="378.89" r="2.3"/><circle cx="96.13" cy="376.58" r="2.3"/><circle cx="96.42" cy="376.79" r="2.3"/><circle cx="96.7" cy="379.42" r="2.3"/><circle cx="96.99" cy="377.35" r="2.3"/><circle cx="97.28" cy="375.39" r="2.3"/><circle cx="97.57" cy="371.55" r="2.3"/><circle cx="97.85" cy="376.09" r="2.3"/><circle cx="98.14" cy="377.77" r="2.3"/><circle cx="98.42" cy="373.33" r="2.3"/><circle cx="98.71" cy="374.68" r="2.3"/><circle cx="98.99" cy="375.45" r="2.3"/><circle cx="99.28" cy="372.67" r="2.3"/><circle cx="99.56" cy="373.37" r="2.3"/><circle cx="99.85" cy="373.96" r="2.3"/><circle cx="100.13" cy="374.04" r="2.3"/><circle cx="100.42" cy="372.28" r="2.3"/><circle cx="100.7" cy="371.73" r="2.3"/><circle cx="100.98" cy="373.57" r="2.3"/><circle cx="101.27" cy="370.11" r="2.3"/><circle cx="101.55" cy="372.32" r="2.3"/><circle cx="101.83" cy="369.11" r="2.3"/><circle cx="102.11" cy="369.98" r="2.3"/><circle cx="102.4" cy="370.23" r="2.3"/><circle cx="102.68" cy="369.41" r="2.3"/><circle cx="102.96" cy="370.05" r="2.3"/><circle cx="103.24" cy="369.25" r="2.3"/><circle cx="103.52" cy="367.35" r="2.3"/><circle cx="103.8" cy="369.15" r="2.3"/><circle cx="104.08" cy="367.62" r="2.3"/><circle cx="104.36" cy="368.86" r="2.3"/><circle cx="104.64" cy="367.82" r="2.3"/><circle cx="104.92" cy="366.75" r="2.3"/><circle cx="105.2" cy="368.24" r="2.3"/><circle cx="105.48" cy="366.75" r="2.3"/><circle cx="105.76" cy="368.38" r="2.3"/><circle cx="106.04" cy="367.33" r="2.3"/><circle cx="106.32" cy="366.53" r="2.3"/><circle cx="106.6" cy="365.38" r="2.3"/><circle cx="106.87" cy="365.26" r="2.3"/><circle cx="107.15" cy="366.07" r="2.3"/><circle cx="107.43" cy="365.32" r="2.3"/><circle cx="107.71" cy="364.89" r="2.3"/><circle cx="107.98" cy="365.74" r="2.3"/><circle cx="108.26" cy="364.28" r="2.3"/><circle cx="108.54" cy="363.48" r="2.3"/><circle cx="108.81" cy="363.33" r="2.3"/><circle cx="109.09" cy="364.23" r="2.3"/><circle cx="109.36" cy="363.9" r="2.3"/><circle cx="109.64" cy="364.01" r="2.3"/><circle cx="109.91" cy="363.52" r="2.3"/><circle cx="110.19" cy="363.15" r="2.3"/><circle cx="110.46" cy="362.37" r="2.3"/><circle cx="110.74" cy="362.53" r="2.3"/><circle cx="111.01" cy="362.94" r="2.3"/><circle cx="111.28" cy="361.66" r="2.3"/><circle cx="111.56" cy="361.42" r="2.3"/><circle cx="111.83" cy="362.13" r="2.3"/><circle cx="112.1" cy="361.71" r="2.3"/><circle cx="112.38" cy="361.42" r="2.3"/><circle cx="112.65" cy="362.17" r="2.3"/><circle cx="112.92" cy="360.88" r="2.3"/><circle cx="113.19" cy="360.36" r="2.3"/><circle cx="113.46" cy="359.38" r="2.3"/><circle cx="113.74" cy="360.27" r="2.3"/><circle cx="114.01" cy="360.38" r="2.3"/><circle cx="114.28" cy="360.11" r="2.3"/><circle cx="114.55" cy="359.46" r="2.3"/><circle cx="114.82" cy="359.16" r="2.3"/><circle cx="115.09" cy="360" r="2.3"/><circle cx="115.36" cy="359.17" r="2.3"/><circle cx="115.63" cy="358.71" r="2.3"/><circle cx="115.9" cy="360.18" r="2.3"/><circle cx="116.16" cy="357.92" r="2.3"/><circle cx="116.43" cy="358.72" r="2.3"/><circle cx="116.7" cy="357.88" r="2.3"/><circle cx="116.97" cy="358.28" r="2.3"/><circle cx="117.24" cy="358.23" r="2.3"/><circle cx="117.5" cy="357.96" r="2.3"/><circle cx="117.77" cy="357.57" r="2.3"/><circle cx="118.04" cy="357.05" r="2.3"/><circle cx="118.3" cy="357.59" r="2.3"/><circle cx="118.57" cy="357.96" r="2.3"/><circle cx="118.84" cy="357.54" r="2.3"/><circle cx="119.1" cy="357.55" r="2.3"/><circle cx="119.37" cy="356.33" r="2.3"/><circle cx="119.63" cy="357.23" r="2.3"/><circle cx="119.9" cy="355.55" r="2.3"/><circle cx="120.16" cy="356.26" r="2.3"/><circle cx="120.42" cy="356.24" r="2.3"/><circle cx="120.69" cy="355.23" r="2.3"/><circle cx="120.95" cy="356.12" r="2.3"/><circle cx="121.21" cy="355.93" r="2.3"/><circle cx="121.48" cy="355.12" r="2.3"/><circle cx="121.74" cy="355" r="2.3"/><circle cx="122" cy="355.93" r="2.3"/><circle cx="122.26" cy="353.66" r="2.3"/><circle cx="122.52" cy="354.69" r="2.3"/><circle cx="122.78" cy="355.68" r="2.3"/><circle cx="123.04" cy="354.87" r="2.3"/><circle cx="123.3" cy="354.06" r="2.3"/><circle cx="123.56" cy="354.36" r="2.3"/><circle cx="123.82" cy="353.84" r="2.3"/><circle cx="124.08" cy="352.78" r="2.3"/><circle cx="124.33" cy="353.53" r="2.3"/><circle cx="124.59" cy="352.74" r="2.3"/><circle cx="124.84" cy="353.43" r="2.3"/><circle cx="125.1" cy="354.13" r="2.3"/><circle cx="125.35" cy="352.66" r="2.3"/><circle cx="125.61" cy="353.9" r="2.3"/><circle cx="125.86" cy="352.76" r="2.3"/><circle cx="126.11" cy="352.82" r="2.3"/><circle cx="126.36" cy="353.63" r="2.3"/><circle cx="126.61" cy="353.42" r="2.3"/><circle cx="126.86" cy="352.98" r="2.3"/><circle cx="127.1" cy="352.5" r="2.3"/><circle cx="127.35" cy="351.81" r="2.3"/><circle cx="127.59" cy="352.47" r="2.3"/><circle cx="127.82" cy="351.23" r="2.3"/><circle cx="128.06" cy="351.75" r="2.3"/><circle cx="128.28" cy="352.57" r="2.3"/><circle cx="128.46" cy="352.45" r="2.3"/><circle cx="128.75" cy="351.9" r="2.3"/><circle cx="129.04" cy="352.17" r="2.3"/><circle cx="129.32" cy="351.8" r="2.3"/><circle cx="129.61" cy="351.15" r="2.3"/><circle cx="129.9" cy="351.37" r="2.3"/><circle cx="130.19" cy="350.82" r="2.3"/><circle cx="130.47" cy="351.74" r="2.3"/><circle cx="130.76" cy="351.75" r="2.3"/><circle cx="131.05" cy="351.98" r="2.3"/><circle cx="131.34" cy="352.11" r="2.3"/><circle cx="131.63" cy="351.19" r="2.3"/><circle cx="131.91" cy="350.77" r="2.3"/><circle cx="132.2" cy="350.84" r="2.3"/><circle cx="132.49" cy="350.62" r="2.3"/><circle cx="132.78" cy="349.26" r="2.3"/><circle cx="133.06" cy="351.1" r="2.3"/><circle cx="133.35" cy="350.5" r="2.3"/><circle cx="133.64" cy="350.54" r="2.3"/><circle cx="133.93" cy="350.71" r="2.3"/><circle cx="134.22" cy="349.23" r="2.3"/><circle cx="134.5" cy="349.99" r="2.3"/><circle cx="134.79" cy="349.11" r="2.3"/><circle cx="135.08" cy="350.49" r="2.3"/><circle cx="135.37" cy="348.55" r="2.3"/><circle cx="135.65" cy="348.22" r="2.3"/><circle cx="135.94" cy="350.07" r="2.3"/><circle cx="136.23" cy="349.45" r="2.3"/><circle cx="136.52" cy="349.44" r="2.3"/><circle cx="136.8" cy="348.93" r="2.3"/><circle cx="137.09" cy="350" r="2.3"/><circle cx="137.38" cy="348.83" r="2.3"/><circle cx="137.67" cy="348.59" r="2.3"/><circle cx="137.96" cy="349.32" r="2.3"/><circle cx="138.24" cy="350.27" r="2.3"/><circle cx="138.53" cy="349.22" r="2.3"/><circle cx="138.82" cy="348.96" r="2.3"/><circle cx="139.11" cy="348.17" r="2.3"/><circle cx="139.39" cy="348.95" r="2.3"/><circle cx="139.68" cy="349.2" r="2.3"/><circle cx="139.97" cy="348.03" r="2.3"/><circle cx="140.26" cy="348.11" r="2.3"/><circle cx="140.55" cy="347.82" r="2.3"/><circle cx="140.83" cy="348.17" r="2.3"/><circle cx="141.12" cy="347.47" r="2.3"/><circle cx="141.41" cy="347.74" r="2.3"/><circle cx="141.7" cy="349.08" r="2.3"/><circle cx="141.98" cy="347.79" r="2.3"/><circle cx="142.27" cy="347.37" r="2.3"/><circle cx="142.56" cy="347.75" r="2.3"/><circle cx="142.85" cy="346.81" r="2.3"/><circle cx="143.14" cy="347.92" r="2.3"/><circle cx="143.42" cy="347.14" r="2.3"/><circle cx="143.71" cy="348.27" r="2.3"/><circle cx="144" cy="347.44" r="2.3"/><circle cx="144.29" cy="347.72" r="2.3"/><circle cx="144.57" cy="347.93" r="2.3"/><circle cx="144.86" cy="348.06" r="2.3"/><circle cx="145.15" cy="347.05" r="2.3"/><circle cx="145.44" cy="346.86" r="2.3"/><circle cx="145.72" cy="347.46" r="2.3"/><circle cx="146.01" cy="347.77" r="2.3"/><circle cx="146.3" cy="347.49" r="2.3"/><circle cx="146.59" cy="346.42" r="2.3"/><circle cx="146.88" cy="347.57" r="2.3"/><circle cx="147.16" cy="346.07" r="2.3"/><circle cx="147.45" cy="347.74" r="2.3"/><circle cx="147.74" cy="346.49" r="2.3"/><circle cx="148.03" cy="346.19" r="2.3"/><circle cx="148.31" cy="345.79" r="2.3"/><circle cx="148.6" cy="346.75" r="2.3"/><circle cx="148.89" cy="346.91" r="2.3"/><circle cx="149.18" cy="347.26" r="2.3"/><circle cx="149.47" cy="345.77" r="2.3"/><circle cx="149.75" cy="346.35" r="2.3"/><circle cx="150.04" cy="346.51" r="2.3"/><circle cx="150.33" cy="346.43" r="2.3"/><circle cx="150.62" cy="345.96" r="2.3"/><circle cx="150.9" cy="346.05" r="2.3"/><circle cx="151.19" cy="345.29" r="2.3"/><circle cx="151.48" cy="347.29" r="2.3"/><circle cx="151.77" cy="345.39" r="2.3"/><circle cx="152.06" cy="346.18" r="2.3"/><circle cx="152.34" cy="345.84" r="2.3"/><circle cx="152.63" cy="345.93" r="2.3"/><circle cx="152.92" cy="345.73" r="2.3"/><circle cx="153.21" cy="345.16" r="2.3"/><circle cx="153.49" cy="345.43" r="2.3"/><circle cx="153.78" cy="346.41" r="2.3"/><circle cx="154.07" cy="345.5" r="2.3"/><circle cx="154.36" cy="345.47" r="2.3"/><circle cx="154.65" cy="345.13" r="2.3"/><circle cx="154.93" cy="345.28" r="2.3"/><circle cx="155.22" cy="345.3" r="2.3"/><circle cx="155.51" cy="344.57" r="2.3"/><circle cx="155.8" cy="345.82" r="2.3"/><circle cx="156.08" cy="343.75" r="2.3"/><circle cx="156.37" cy="345.39" r="2.3"/><circle cx="156.66" cy="345.63" r="2.3"/><circle cx="156.95" cy="344.46" r="2.3"/><circle cx="157.23" cy="344.23" r="2.3"/><circle cx="157.52" cy="344.08" r="2.3"/><circle cx="157.81" cy="343.9" r="2.3"/><circle cx="158.1" cy="344.46" r="2.3"/><circle cx="158.39" cy="344.66" r="2.3"/><circle cx="158.67" cy="344.42" r="2.3"/><circle cx="158.96" cy="344.61" r="2.3"/><circle cx="159.25" cy="344.9" r="2.3"/><circle cx="159.54" cy="343.53" r="2.3"/><circle cx="159.82" cy="343.35" r="2.3"/><circle cx="160.11" cy="344.42" r="2.3"/><circle cx="160.4" cy="344.52" r="2.3"/><circle cx="160.69" cy="344.64" r="2.3"/><circle cx="160.98" cy="345.33" r="2.3"/><circle cx="161.26" cy="344.67" r="2.3"/><circle cx="161.55" cy="344.52" r="2.3"/><circle cx="161.84" cy="344.18" r="2.3"/><circle cx="162.13" cy="344.74" r="2.3"/><circle cx="162.41" cy="345.25" r="2.3"/><circle cx="162.7" cy="343.63" r="2.3"/><circle cx="162.99" cy="342.93" r="2.3"/><circle cx="163.28" cy="345.27" r="2.3"/><circle cx="163.57" cy="344" r="2.3"/><circle cx="163.85" cy="343.35" r="2.3"/><circle cx="164.14" cy="344.55" r="2.3"/><circle cx="164.43" cy="344.68" r="2.3"/><circle cx="164.72" cy="343.73" r="2.3"/><circle cx="165" cy="343.86" r="2.3"/><circle cx="165.29" cy="344.07" r="2.3"/><circle cx="165.58" cy="342.62" r="2.3"/><circle cx="165.87" cy="342.68" r="2.3"/><circle cx="166.16" cy="343.16" r="2.3"/><circle cx="166.44" cy="343.57" r="2.3"/><circle cx="166.73" cy="343.69" r="2.3"/><circle cx="167.02" cy="342.9" r="2.3"/><circle cx="167.31" cy="343.56" r="2.3"/><circle cx="167.59" cy="342.46" r="2.3"/><circle cx="167.88" cy="342.57" r="2.3"/><circle cx="168.17" cy="343.68" r="2.3"/><circle cx="168.46" cy="342.8" r="2.3"/><circle cx="168.75" cy="342.26" r="2.3"/><circle cx="169.03" cy="342.79" r="2.3"/><circle cx="169.32" cy="343.74" r="2.3"/><circle cx="169.61" cy="343.29" r="2.3"/><circle cx="169.9" cy="343.3" r="2.3"/><circle cx="170.18" cy="342.98" r="2.3"/><circle cx="170.47" cy="343" r="2.3"/><circle cx="170.76" cy="343.21" r="2.3"/><circle cx="171.05" cy="342.43" r="2.3"/><circle cx="171.33" cy="342.09" r="2.3"/><circle cx="171.62" cy="343.24" r="2.3"/><circle cx="171.91" cy="343.77" r="2.3"/><circle cx="172.2" cy="342.6" r="2.3"/><circle cx="172.49" cy="342.79" r="2.3"/><circle cx="172.77" cy="342.5" r="2.3"/><circle cx="173.06" cy="343.15" r="2.3"/><circle cx="173.35" cy="342.52" r="2.3"/><circle cx="173.64" cy="343.23" r="2.3"/><circle cx="173.92" cy="341.96" r="2.3"/><circle cx="174.21" cy="341.57" r="2.3"/><circle cx="174.5" cy="343.15" r="2.3"/><circle cx="174.79" cy="344.15" r="2.3"/><circle cx="175.08" cy="342.82" r="2.3"/><circle cx="175.36" cy="342.81" r="2.3"/><circle cx="175.65" cy="342.34" r="2.3"/><circle cx="175.94" cy="342.41" r="2.3"/><circle cx="176.23" cy="342.09" r="2.3"/><circle cx="176.51" cy="340.7" r="2.3"/><circle cx="176.8" cy="342.69" r="2.3"/><circle cx="177.09" cy="342.55" r="2.3"/><circle cx="177.38" cy="342.02" r="2.3"/><circle cx="177.67" cy="343.4" r="2.3"/><circle cx="177.95" cy="341.75" r="2.3"/><circle cx="178.24" cy="342.59" r="2.3"/><circle cx="178.53" cy="343.07" r="2.3"/><circle cx="178.82" cy="342.68" r="2.3"/><circle cx="179.1" cy="341.82" r="2.3"/><circle cx="179.39" cy="341.58" r="2.3"/><circle cx="179.68" cy="341.31" r="2.3"/><circle cx="179.97" cy="341.78" r="2.3"/><circle cx="180.25" cy="342.47" r="2.3"/><circle cx="180.54" cy="341.66" r="2.3"/><circle cx="180.83" cy="342.02" r="2.3"/><circle cx="181.12" cy="340.51" r="2.3"/><circle cx="181.41" cy="343.19" r="2.3"/><circle cx="181.69" cy="340.91" r="2.3"/><circle cx="181.98" cy="341.4" r="2.3"/><circle cx="182.27" cy="341.6" r="2.3"/><circle cx="182.56" cy="341.88" r="2.3"/><circle cx="182.84" cy="342.15" r="2.3"/><circle cx="183.13" cy="342.38" r="2.3"/><circle cx="183.42" cy="342.72" r="2.3"/><circle cx="183.71" cy="340.48" r="2.3"/><circle cx="184" cy="341.13" r="2.3"/><circle cx="184.28" cy="341.27" r="2.3"/><circle cx="184.57" cy="341.44" r="2.3"/><circle cx="184.86" cy="342.83" r="2.3"/><circle cx="185.15" cy="341.79" r="2.3"/><circle cx="185.43" cy="341.53" r="2.3"/><circle cx="185.72" cy="340.86" r="2.3"/><circle cx="186.01" cy="342.18" r="2.3"/><circle cx="186.3" cy="341.37" r="2.3"/><circle cx="186.59" cy="341.66" r="2.3"/><circle cx="186.87" cy="341.48" r="2.3"/><circle cx="187.16" cy="341.95" r="2.3"/><circle cx="187.45" cy="341.23" r="2.3"/><circle cx="187.74" cy="341.38" r="2.3"/><circle cx="188.02" cy="342.57" r="2.3"/><circle cx="188.31" cy="340.64" r="2.3"/><circle cx="188.6" cy="340.02" r="2.3"/><circle cx="188.89" cy="341.89" r="2.3"/><circle cx="189.18" cy="340.62" r="2.3"/><circle cx="189.46" cy="341.92" r="2.3"/><circle cx="189.75" cy="341.62" r="2.3"/><circle cx="190.04" cy="340.19" r="2.3"/><circle cx="190.33" cy="341.13" r="2.3"/><circle cx="190.61" cy="340.3" r="2.3"/><circle cx="190.9" cy="341.04" r="2.3"/><circle cx="191.19" cy="340.57" r="2.3"/><circle cx="191.48" cy="341.28" r="2.3"/><circle cx="191.77" cy="340.28" r="2.3"/><circle cx="192.05" cy="340.04" r="2.3"/><circle cx="192.34" cy="340.71" r="2.3"/><circle cx="192.63" cy="341.46" r="2.3"/><circle cx="192.92" cy="341.32" r="2.3"/><circle cx="193.2" cy="341.65" r="2.3"/><circle cx="193.49" cy="340.68" r="2.3"/><circle cx="193.78" cy="340.71" r="2.3"/><circle cx="194.07" cy="341.45" r="2.3"/><circle cx="194.35" cy="340.44" r="2.3"/><circle cx="194.64" cy="341.34" r="2.3"/><circle cx="194.93" cy="339.85" r="2.3"/><circle cx="195.22" cy="340.44" r="2.3"/><circle cx="195.51" cy="339.95" r="2.3"/><circle cx="195.79" cy="341.36" r="2.3"/><circle cx="196.08" cy="341.52" r="2.3"/><circle cx="196.37" cy="342.01" r="2.3"/><circle cx="196.66" cy="340.47" r="2.3"/><circle cx="196.94" cy="341.55" r="2.3"/><circle cx="197.23" cy="340.01" r="2.3"/><circle cx="197.52" cy="340.73" r="2.3"/><circle cx="197.81" cy="340.34" r="2.3"/><circle cx="198.1" cy="341.58" r="2.3"/><circle cx="198.38" cy="341.14" r="2.3"/><circle cx="198.67" cy="340.65" r="2.3"/><circle cx="198.96" cy="340.29" r="2.3"/><circle cx="199.25" cy="341.53" r="2.3"/><circle cx="199.53" cy="340.51" r="2.3"/><circle cx="199.82" cy="341.21" r="2.3"/><circle cx="200.11" cy="340.19" r="2.3"/><circle cx="200.4" cy="340.81" r="2.3"/><circle cx="200.69" cy="340.84" r="2.3"/><circle cx="200.97" cy="340.38" r="2.3"/><circle cx="201.26" cy="339.92" r="2.3"/><circle cx="201.55" cy="340.77" r="2.3"/><circle cx="201.84" cy="339.85" r="2.3"/><circle cx="202.12" cy="341.21" r="2.3"/><circle cx="202.41" cy="340.4" r="2.3"/><circle cx="202.7" cy="341.25" r="2.3"/><circle cx="202.99" cy="340.42" r="2.3"/><circle cx="203.28" cy="341.1" r="2.3"/><circle cx="203.56" cy="340.51" r="2.3"/><circle cx="203.85" cy="340.13" r="2.3"/><circle cx="204.14" cy="341.1" r="2.3"/><circle cx="204.43" cy="341.57" r="2.3"/><circle cx="204.71" cy="340.58" r="2.3"/><circle cx="205" cy="340.14" r="2.3"/><circle cx="205.29" cy="340.31" r="2.3"/><circle cx="205.58" cy="341" r="2.3"/><circle cx="205.86" cy="339.92" r="2.3"/><circle cx="206.15" cy="340.6" r="2.3"/><circle cx="206.44" cy="339.93" r="2.3"/><circle cx="206.73" cy="340.94" r="2.3"/><circle cx="207.02" cy="340.11" r="2.3"/><circle cx="207.3" cy="339.65" r="2.3"/><circle cx="207.59" cy="340.77" r="2.3"/><circle cx="207.88" cy="340.53" r="2.3"/><circle cx="208.17" cy="339.96" r="2.3"/><circle cx="208.45" cy="340" r="2.3"/><circle cx="208.74" cy="340.1" r="2.3"/><circle cx="209.03" cy="340.38" r="2.3"/><circle cx="209.32" cy="341.25" r="2.3"/><circle cx="209.61" cy="340.29" r="2.3"/><circle cx="209.89" cy="341.07" r="2.3"/><circle cx="210.18" cy="340.21" r="2.3"/><circle cx="210.47" cy="341.69" r="2.3"/><circle cx="210.76" cy="339.36" r="2.3"/><circle cx="211.04" cy="339.07" r="2.3"/><circle cx="211.33" cy="339.95" r="2.3"/><circle cx="211.62" cy="340.73" r="2.3"/><circle cx="211.91" cy="340.39" r="2.3"/><circle cx="212.2" cy="339.65" r="2.3"/><circle cx="212.48" cy="339.78" r="2.3"/><circle cx="212.77" cy="340.6" r="2.3"/><circle cx="213.06" cy="339.43" r="2.3"/><circle cx="213.35" cy="339.71" r="2.3"/><circle cx="213.63" cy="339.81" r="2.3"/><circle cx="213.92" cy="340.35" r="2.3"/><circle cx="214.21" cy="340.12" r="2.3"/><circle cx="214.5" cy="340.55" r="2.3"/><circle cx="214.78" cy="339.99" r="2.3"/><circle cx="215.07" cy="340.5" r="2.3"/><circle cx="215.36" cy="339.37" r="2.3"/><circle cx="215.65" cy="340.05" r="2.3"/><circle cx="215.94" cy="339.94" r="2.3"/><circle cx="216.22" cy="339.86" r="2.3"/><circle cx="216.51" cy="339.85" r="2.3"/><circle cx="216.8" cy="340.91" r="2.3"/><circle cx="217.09" cy="339.25" r="2.3"/><circle cx="217.37" cy="339.96" r="2.3"/><circle cx="217.66" cy="340.35" r="2.3"/><circle cx="217.95" cy="340.6" r="2.3"/><circle cx="218.24" cy="340.41" r="2.3"/><circle cx="218.53" cy="340.36" r="2.3"/><circle cx="218.81" cy="339.97" r="2.3"/><circle cx="219.1" cy="340.5" r="2.3"/><circle cx="219.39" cy="339.9" r="2.3"/><circle cx="219.68" cy="339.87" r="2.3"/><circle cx="219.96" cy="340.37" r="2.3"/><circle cx="220.25" cy="338.59" r="2.3"/><circle cx="220.54" cy="340" r="2.3"/><circle cx="220.83" cy="339.72" r="2.3"/><circle cx="221.12" cy="339.85" r="2.3"/><circle cx="221.4" cy="340.01" r="2.3"/><circle cx="221.69" cy="339.49" r="2.3"/><circle cx="221.98" cy="339.05" r="2.3"/><circle cx="222.27" cy="339.93" r="2.3"/><circle cx="222.55" cy="340.4" r="2.3"/><circle cx="222.84" cy="339.54" r="2.3"/><circle cx="223.13" cy="341.18" r="2.3"/><circle cx="223.42" cy="339.76" r="2.3"/><circle cx="223.71" cy="339.96" r="2.3"/><circle cx="223.99" cy="339.64" r="2.3"/><circle cx="224.28" cy="340.76" r="2.3"/><circle cx="224.57" cy="340.09" r="2.3"/><circle cx="224.86" cy="340.45" r="2.3"/><circle cx="225.14" cy="340.14" r="2.3"/><circle cx="225.43" cy="339.45" r="2.3"/><circle cx="225.72" cy="339.92" r="2.3"/><circle cx="226.01" cy="340.16" r="2.3"/><circle cx="226.29" cy="339.07" r="2.3"/><circle cx="226.58" cy="339.78" r="2.3"/><circle cx="226.87" cy="341.01" r="2.3"/><circle cx="227.16" cy="340.41" r="2.3"/><circle cx="227.45" cy="339.52" r="2.3"/><circle cx="227.73" cy="339.49" r="2.3"/><circle cx="228.02" cy="339.62" r="2.3"/><circle cx="228.31" cy="339.59" r="2.3"/><circle cx="228.6" cy="340.29" r="2.3"/><circle cx="228.88" cy="339.8" r="2.3"/><circle cx="229.17" cy="340.46" r="2.3"/><circle cx="229.46" cy="340.24" r="2.3"/><circle cx="229.75" cy="340.28" r="2.3"/><circle cx="230.04" cy="340.23" r="2.3"/><circle cx="230.32" cy="339.92" r="2.3"/><circle cx="230.61" cy="339.85" r="2.3"/><circle cx="230.9" cy="340.19" r="2.3"/><circle cx="231.19" cy="339.04" r="2.3"/><circle cx="231.47" cy="339.97" r="2.3"/><circle cx="231.76" cy="338.75" r="2.3"/><circle cx="232.05" cy="339.07" r="2.3"/><circle cx="232.34" cy="340.42" r="2.3"/><circle cx="232.63" cy="339.13" r="2.3"/><circle cx="232.91" cy="340.52" r="2.3"/><circle cx="233.2" cy="338.78" r="2.3"/><circle cx="233.49" cy="339.46" r="2.3"/><circle cx="233.78" cy="340.26" r="2.3"/><circle cx="234.06" cy="340.98" r="2.3"/><circle cx="234.35" cy="339.89" r="2.3"/><circle cx="234.64" cy="340.46" r="2.3"/><circle cx="234.93" cy="338.97" r="2.3"/><circle cx="235.22" cy="340.39" r="2.3"/><circle cx="235.5" cy="339.77" r="2.3"/><circle cx="235.79" cy="339.32" r="2.3"/><circle cx="236.08" cy="339.61" r="2.3"/><circle cx="236.37" cy="339.45" r="2.3"/><circle cx="236.65" cy="339.76" r="2.3"/><circle cx="236.94" cy="339.16" r="2.3"/><circle cx="237.23" cy="340.17" r="2.3"/><circle cx="237.52" cy="339.25" r="2.3"/><circle cx="237.81" cy="340.32" r="2.3"/><circle cx="238.09" cy="339.48" r="2.3"/><circle cx="238.38" cy="340.27" r="2.3"/><circle cx="238.67" cy="339.7" r="2.3"/><circle cx="238.96" cy="339.21" r="2.3"/><circle cx="239.24" cy="338.81" r="2.3"/><circle cx="239.53" cy="340.65" r="2.3"/><circle cx="239.82" cy="340.02" r="2.3"/><circle cx="240.11" cy="340.14" r="2.3"/><circle cx="240.39" cy="338.81" r="2.3"/><circle cx="240.68" cy="340.07" r="2.3"/><circle cx="240.97" cy="339.11" r="2.3"/><circle cx="241.26" cy="339.84" r="2.3"/><circle cx="241.55" cy="340.4" r="2.3"/><circle cx="241.83" cy="339.45" r="2.3"/><circle cx="242.12" cy="340.21" r="2.3"/><circle cx="242.41" cy="339.07" r="2.3"/><circle cx="242.7" cy="339" r="2.3"/><circle cx="242.98" cy="338.69" r="2.3"/><circle cx="243.27" cy="340.11" r="2.3"/><circle cx="243.56" cy="338.53" r="2.3"/><circle cx="243.85" cy="338.9" r="2.3"/><circle cx="244.14" cy="340.57" r="2.3"/><circle cx="244.42" cy="338.13" r="2.3"/><circle cx="244.71" cy="338.45" r="2.3"/><circle cx="245" cy="340.1" r="2.3"/><circle cx="245.29" cy="339.26" r="2.3"/><circle cx="245.57" cy="340.27" r="2.3"/><circle cx="245.86" cy="339.53" r="2.3"/><circle cx="246.15" cy="339.34" r="2.3"/><circle cx="246.44" cy="339.07" r="2.3"/><circle cx="246.73" cy="339.94" r="2.3"/><circle cx="247.01" cy="339.45" r="2.3"/><circle cx="247.3" cy="340" r="2.3"/><circle cx="247.59" cy="339.19" r="2.3"/><circle cx="247.88" cy="339.02" r="2.3"/><circle cx="248.16" cy="339.37" r="2.3"/><circle cx="248.45" cy="338.71" r="2.3"/><circle cx="248.74" cy="338.95" r="2.3"/><circle cx="249.03" cy="339.18" r="2.3"/><circle cx="249.31" cy="338.69" r="2.3"/><circle cx="249.6" cy="340.15" r="2.3"/><circle cx="249.89" cy="339.41" r="2.3"/><circle cx="250.18" cy="340.47" r="2.3"/><circle cx="250.47" cy="339.39" r="2.3"/><circle cx="250.75" cy="339.66" r="2.3"/><circle cx="251.04" cy="338.87" r="2.3"/><circle cx="251.33" cy="339.64" r="2.3"/><circle cx="251.62" cy="339.75" r="2.3"/><circle cx="251.9" cy="339.42" r="2.3"/><circle cx="252.19" cy="339.44" r="2.3"/><circle cx="252.48" cy="339.04" r="2.3"/><circle cx="252.77" cy="339.88" r="2.3"/><circle cx="253.06" cy="340.26" r="2.3"/><circle cx="253.34" cy="340.31" r="2.3"/><circle cx="253.63" cy="338.63" r="2.3"/><circle cx="253.92" cy="340.1" r="2.3"/><circle cx="254.21" cy="339.61" r="2.3"/><circle cx="254.49" cy="339.99" r="2.3"/><circle cx="254.78" cy="338.78" r="2.3"/><circle cx="255.07" cy="339.66" r="2.3"/><circle cx="255.36" cy="338.56" r="2.3"/><circle cx="255.65" cy="339.73" r="2.3"/><circle cx="255.93" cy="339.12" r="2.3"/><circle cx="256.22" cy="338.83" r="2.3"/><circle cx="256.51" cy="338.7" r="2.3"/><circle cx="256.8" cy="340.02" r="2.3"/><circle cx="257.08" cy="339.51" r="2.3"/><circle cx="257.37" cy="339.33" r="2.3"/><circle cx="257.66" cy="340.39" r="2.3"/><circle cx="257.95" cy="338.84" r="2.3"/><circle cx="258.24" cy="339.03" r="2.3"/><circle cx="258.52" cy="338.95" r="2.3"/><circle cx="258.81" cy="340.11" r="2.3"/><circle cx="259.1" cy="339.14" r="2.3"/><circle cx="259.39" cy="338.99" r="2.3"/><circle cx="259.67" cy="338.62" r="2.3"/><circle cx="259.96" cy="339.56" r="2.3"/><circle cx="260.25" cy="338.83" r="2.3"/><circle cx="260.54" cy="338.04" r="2.3"/><circle cx="260.82" cy="339.5" r="2.3"/><circle cx="261.11" cy="339.48" r="2.3"/><circle cx="261.4" cy="339.42" r="2.3"/><circle cx="261.69" cy="340.13" r="2.3"/><circle cx="261.98" cy="339.44" r="2.3"/><circle cx="262.26" cy="338.22" r="2.3"/><circle cx="262.55" cy="339.78" r="2.3"/><circle cx="262.84" cy="339.32" r="2.3"/><circle cx="263.13" cy="338.47" r="2.3"/><circle cx="263.41" cy="338.85" r="2.3"/><circle cx="263.7" cy="339.05" r="2.3"/><circle cx="263.99" cy="339.39" r="2.3"/><circle cx="264.28" cy="339.26" r="2.3"/><circle cx="264.57" cy="339.18" r="2.3"/><circle cx="264.85" cy="338.76" r="2.3"/><circle cx="265.14" cy="339.13" r="2.3"/><circle cx="265.43" cy="338.6" r="2.3"/><circle cx="265.72" cy="340.31" r="2.3"/><circle cx="266" cy="338.66" r="2.3"/><circle cx="266.29" cy="339.48" r="2.3"/><circle cx="266.58" cy="339.15" r="2.3"/><circle cx="266.87" cy="339.41" r="2.3"/><circle cx="267.16" cy="338.76" r="2.3"/><circle cx="267.44" cy="339.22" r="2.3"/><circle cx="267.73" cy="338.76" r="2.3"/><circle cx="268.02" cy="339.63" r="2.3"/><circle cx="268.31" cy="339.02" r="2.3"/><circle cx="268.59" cy="338.38" r="2.3"/><circle cx="268.88" cy="338.45" r="2.3"/><circle cx="269.17" cy="339.34" r="2.3"/><circle cx="269.46" cy="339.04" r="2.3"/><circle cx="269.75" cy="339.34" r="2.3"/><circle cx="270.03" cy="339.19" r="2.3"/><circle cx="270.32" cy="339.1" r="2.3"/><circle cx="270.61" cy="338.37" r="2.3"/><circle cx="270.9" cy="338.75" r="2.3"/><circle cx="271.18" cy="338.21" r="2.3"/><circle cx="271.47" cy="338.16" r="2.3"/><circle cx="271.76" cy="339.87" r="2.3"/><circle cx="272.05" cy="338.9" r="2.3"/><circle cx="272.33" cy="339.36" r="2.3"/><circle cx="272.62" cy="340.07" r="2.3"/><circle cx="272.91" cy="339.74" r="2.3"/><circle cx="273.2" cy="339.39" r="2.3"/><circle cx="273.49" cy="338.06" r="2.3"/><circle cx="273.77" cy="339.02" r="2.3"/><circle cx="274.06" cy="339.18" r="2.3"/><circle cx="274.35" cy="339.08" r="2.3"/><circle cx="274.64" cy="339.52" r="2.3"/><circle cx="274.92" cy="338.96" r="2.3"/><circle cx="275.21" cy="339.11" r="2.3"/><circle cx="275.5" cy="340.05" r="2.3"/><circle cx="275.79" cy="339.37" r="2.3"/><circle cx="276.08" cy="337.01" r="2.3"/><circle cx="276.36" cy="338.66" r="2.3"/><circle cx="276.65" cy="339.1" r="2.3"/><circle cx="276.94" cy="338.63" r="2.3"/><circle cx="277.23" cy="339.63" r="2.3"/><circle cx="277.51" cy="338.98" r="2.3"/><circle cx="277.8" cy="338.5" r="2.3"/><circle cx="278.09" cy="340" r="2.3"/><circle cx="278.38" cy="339.47" r="2.3"/><circle cx="278.67" cy="339.26" r="2.3"/><circle cx="278.95" cy="339.19" r="2.3"/><circle cx="279.24" cy="339.32" r="2.3"/><circle cx="279.53" cy="338.85" r="2.3"/><circle cx="279.82" cy="338.39" r="2.3"/><circle cx="280.1" cy="338.8" r="2.3"/><circle cx="280.39" cy="338.38" r="2.3"/><circle cx="280.68" cy="338.37" r="2.3"/><circle cx="280.97" cy="339.36" r="2.3"/><circle cx="281.26" cy="338.83" r="2.3"/><circle cx="281.54" cy="339.22" r="2.3"/><circle cx="281.83" cy="338.59" r="2.3"/><circle cx="282.12" cy="339.2" r="2.3"/><circle cx="282.41" cy="339.09" r="2.3"/><circle cx="282.69" cy="337.95" r="2.3"/><circle cx="282.98" cy="339.08" r="2.3"/><circle cx="283.27" cy="339.92" r="2.3"/><circle cx="283.56" cy="338.9" r="2.3"/><circle cx="283.84" cy="338.79" r="2.3"/><circle cx="284.13" cy="339.27" r="2.3"/><circle cx="284.42" cy="338.92" r="2.3"/><circle cx="284.71" cy="338.34" r="2.3"/><circle cx="285" cy="339.27" r="2.3"/><circle cx="285.28" cy="339.07" r="2.3"/><circle cx="285.57" cy="339.38" r="2.3"/><circle cx="285.86" cy="338.75" r="2.3"/><circle cx="286.15" cy="339.02" r="2.3"/><circle cx="286.43" cy="339.5" r="2.3"/><circle cx="286.72" cy="339.03" r="2.3"/><circle cx="287.01" cy="337.83" r="2.3"/><circle cx="287.3" cy="339.96" r="2.3"/><circle cx="287.59" cy="339.76" r="2.3"/><circle cx="287.87" cy="338.72" r="2.3"/><circle cx="288.16" cy="339.76" r="2.3"/><circle cx="288.45" cy="337.74" r="2.3"/><circle cx="288.74" cy="339.82" r="2.3"/><circle cx="289.02" cy="339.7" r="2.3"/><circle cx="289.31" cy="339.22" r="2.3"/><circle cx="289.6" cy="338.26" r="2.3"/><circle cx="289.89" cy="338.42" r="2.3"/><circle cx="290.18" cy="338.56" r="2.3"/><circle cx="290.46" cy="338.72" r="2.3"/><circle cx="290.75" cy="338.11" r="2.3"/><circle cx="291.04" cy="339.99" r="2.3"/><circle cx="291.33" cy="338.73" r="2.3"/><circle cx="291.61" cy="338.03" r="2.3"/><circle cx="291.9" cy="339.53" r="2.3"/><circle cx="292.19" cy="338.69" r="2.3"/></g>
<g fill="#888"><circle cx="94.39" cy="365.06" r="2.25"/><circle cx="98.07" cy="365.99" r="2.25"/><circle cx="95.08" cy="397.76" r="2.25"/><circle cx="59.4" cy="459.15" r="2.25"/><circle cx="187.62" cy="347.48" r="2.25"/></g>
<g fill="#000"><circle cx="59.4" cy="501.27" r="2.3"/><circle cx="59.79" cy="499.79" r="2.3"/><circle cx="60.15" cy="501.74" r="2.3"/><circle cx="60.49" cy="495.55" r="2.3"/><circle cx="60.83" cy="497.45" r="2.3"/><circle cx="61.16" cy="494.75" r="2.3"/><circle cx="61.5" cy="498.58" r="2.3"/><circle cx="61.83" cy="496.5" r="2.3"/><circle cx="62.15" cy="495.22" r="2.3"/><circle cx="62.48" cy="487.85" r="2.3"/><circle cx="62.81" cy="496.46" r="2.3"/><circle cx="63.13" cy="494.01" r="2.3"/><circle cx="63.45" cy="486.44" r="2.3"/><circle cx="63.78" cy="486.79" r="2.3"/><circle cx="64.1" cy="493.06" r="2.3"/><circle cx="64.42" cy="485.7" r="2.3"/><circle cx="64.74" cy="484.31" r="2.3"/><circle cx="65.06" cy="479.5" r="2.3"/><circle cx="65.37" cy="485.86" r="2.3"/><circle cx="65.69" cy="481.4" r="2.3"/><circle cx="66.01" cy="476.44" r="2.3"/><circle cx="66.33" cy="476.06" r="2.3"/><circle cx="66.64" cy="479.01" r="2.3"/><circle cx="66.96" cy="476.41" r="2.3"/><circle cx="67.27" cy="478.2" r="2.3"/><circle cx="67.59" cy="470.32" r="2.3"/><circle cx="67.9" cy="473.58" r="2.3"/><circle cx="68.22" cy="468.46" r="2.3"/><circle cx="68.53" cy="468.58" r="2.3"/><circle cx="68.84" cy="471.62" r="2.3"/><circle cx="69.16" cy="468.84" r="2.3"/><circle cx="69.47" cy="465.95" r="2.3"/><circle cx="69.78" cy="465.48" r="2.3"/><circle cx="70.09" cy="461.91" r="2.3"/><circle cx="70.4" cy="461.94" r="2.3"/><circle cx="70.71" cy="462.9" r="2.3"/><circle cx="71.02" cy="461.1" r="2.3"/><circle cx="71.34" cy="463.54" r="2.3"/><circle cx="71.65" cy="462.36" r="2.3"/><circle cx="71.95" cy="458.58" r="2.3"/><circle cx="72.26" cy="458.33" r="2.3"/><circle cx="72.57" cy="460.92" r="2.3"/><circle cx="72.88" cy="457.59" r="2.3"/><circle cx="73.19" cy="458.45" r="2.3"/><circle cx="73.5" cy="457.02" r="2.3"/><circle cx="73.81" cy="451.75" r="2.3"/><circle cx="74.11" cy="456.28" r="2.3"/><circle cx="74.42" cy="454.77" r="2.3"/><circle cx="74.73" cy="451.03" r="2.3"/><circle cx="75.04" cy="451.41" r="2.3"/><circle cx="75.34" cy="450.39" r="2.3"/><circle cx="75.65" cy="453.47" r="2.3"/><circle cx="75.95" cy="449.3" r="2.3"/><circle cx="76.26" cy="449.36" r="2.3"/><circle cx="76.56" cy="449.64" r="2.3"/><circle cx="76.87" cy="448.3" r="2.3"/><circle cx="77.17" cy="446.92" r="2.3"/><circle cx="77.48" cy="443.47" r="2.3"/><circle cx="77.78" cy="440.26" r="2.3"/><circle cx="78.09" cy="443.77" r="2.3"/><circle cx="78.39" cy="439.78" r="2.3"/><circle cx="78.69" cy="442.35" r="2.3"/><circle cx="79" cy="445.48" r="2.3"/><circle cx="79.3" cy="441.1" r="2.3"/><circle cx="79.6" cy="437.49" r="2.3"/><circle cx="79.91" cy="436.54" r="2.3"/><circle cx="80.21" cy="441.33" r="2.3"/><circle cx="80.51" cy="433.22" r="2.3"/><circle cx="80.81" cy="439.67" r="2.3"/><circle cx="81.11" cy="439.01" r="2.3"/><circle cx="81.41" cy="437.87" r="2.3"/><circle cx="81.71" cy="432.53" r="2.3"/><circle cx="82.01" cy="434.41" r="2.3"/><circle cx="82.31" cy="432.57" r="2.3"/><circle cx="82.61" cy="439.45" r="2.3"/><circle cx="82.91" cy="433.66" r="2.3"/><circle cx="83.21" cy="433.2" r="2.3"/><circle cx="83.51" cy="430.67" r="2.3"/><circle cx="83.81" cy="432.87" r="2.3"/><circle cx="84.11" cy="428.32" r="2.3"/><circle cx="84.41" cy="432.24" r="2.3"/><circle cx="84.71" cy="433.33" r="2.3"/><circle cx="85.01" cy="433.31" r="2.3"/><circle cx="85.3" cy="425.98" r="2.3"/><circle cx="85.6" cy="426.62" r="2.3"/><circle cx="85.9" cy="429.59" r="2.3"/><circle cx="86.19" cy="424.79" r="2.3"/><circle cx="86.49" cy="427.12" r="2.3"/><circle cx="86.79" cy="426.48" r="2.3"/><circle cx="87.08" cy="428.89" r="2.3"/><circle cx="87.38" cy="426.36" r="2.3"/><circle cx="87.67" cy="424.43" r="2.3"/><circle cx="87.97" cy="423.72" r="2.3"/><circle cx="88.26" cy="424.83" r="2.3"/><circle cx="88.56" cy="421.09" r="2.3"/><circle cx="88.85" cy="419.71" r="2.3"/><circle cx="89.15" cy="423.81" r="2.3"/><circle cx="89.44" cy="420.88" r="2.3"/><circle cx="89.74" cy="424.24" r="2.3"/><circle cx="90.03" cy="419.93" r="2.3"/><circle cx="90.32" cy="422.14" r="2.3"/><circle cx="90.62" cy="420.1" r="2.3"/><circle cx="90.91" cy="419.02" r="2.3"/><circle cx="91.2" cy="419.34" r="2.3"/><circle cx="91.49" cy="416.51" r="2.3"/><circle cx="91.78" cy="419.41" r="2.3"/><circle cx="92.08" cy="418.39" r="2.3"/><circle cx="92.37" cy="416.53" r="2.3"/><circle cx="92.66" cy="416.74" r="2.3"/><circle cx="92.95" cy="415.81" r="2.3"/><circle cx="93.24" cy="416.19" r="2.3"/><circle cx="93.53" cy="416.77" r="2.3"/><circle cx="93.82" cy="413.88" r="2.3"/><circle cx="94.11" cy="414.45" r="2.3"/><circle cx="94.4" cy="412.7" r="2.3"/><circle cx="94.69" cy="411.63" r="2.3"/><circle cx="94.98" cy="413.92" r="2.3"/><circle cx="95.27" cy="414.11" r="2.3"/><circle cx="95.55" cy="413.27" r="2.3"/><circle cx="95.84" cy="413.16" r="2.3"/><circle cx="96.13" cy="414.75" r="2.3"/><circle cx="96.42" cy="409" r="2.3"/><circle cx="96.7" cy="410.44" r="2.3"/><circle cx="96.99" cy="407.34" r="2.3"/><circle cx="97.28" cy="411.07" r="2.3"/><circle cx="97.57" cy="409.1" r="2.3"/><circle cx="97.85" cy="409.18" r="2.3"/><circle cx="98.14" cy="409.28" r="2.3"/><circle cx="98.42" cy="407.54" r="2.3"/><circle cx="98.71" cy="408.47" r="2.3"/><circle cx="98.99" cy="408.22" r="2.3"/><circle cx="99.28" cy="407.57" r="2.3"/><circle cx="99.56" cy="410.15" r="2.3"/><circle cx="99.85" cy="407.94" r="2.3"/><circle cx="100.13" cy="407.61" r="2.3"/><circle cx="100.42" cy="404.51" r="2.3"/><circle cx="100.7" cy="405.41" r="2.3"/><circle cx="100.98" cy="404.88" r="2.3"/><circle cx="101.27" cy="404.74" r="2.3"/><circle cx="101.55" cy="405.3" r="2.3"/><circle cx="101.83" cy="403.05" r="2.3"/><circle cx="102.11" cy="404.66" r="2.3"/><circle cx="102.4" cy="405.55" r="2.3"/><circle cx="102.68" cy="403.21" r="2.3"/><circle cx="102.96" cy="402.39" r="2.3"/><circle cx="103.24" cy="403.11" r="2.3"/><circle cx="103.52" cy="402.57" r="2.3"/><circle cx="103.8" cy="401.75" r="2.3"/><circle cx="104.08" cy="400.98" r="2.3"/><circle cx="104.36" cy="401.52" r="2.3"/><circle cx="104.64" cy="400.34" r="2.3"/><circle cx="104.92" cy="401.19" r="2.3"/><circle cx="105.2" cy="399.51" r="2.3"/><circle cx="105.48" cy="401.88" r="2.3"/><circle cx="105.76" cy="399.87" r="2.3"/><circle cx="106.04" cy="400.08" r="2.3"/><circle cx="106.32" cy="399.92" r="2.3"/><circle cx="106.6" cy="400.57" r="2.3"/><circle cx="106.87" cy="398.76" r="2.3"/><circle cx="107.15" cy="399.3" r="2.3"/><circle cx="107.43" cy="399.5" r="2.3"/><circle cx="107.71" cy="399.01" r="2.3"/><circle cx="107.98" cy="398.51" r="2.3"/><circle cx="108.26" cy="398.05" r="2.3"/><circle cx="108.54" cy="398.39" r="2.3"/><circle cx="108.81" cy="398.13" r="2.3"/><circle cx="109.09" cy="397.08" r="2.3"/><circle cx="109.36" cy="397.12" r="2.3"/><circle cx="109.64" cy="395.65" r="2.3"/><circle cx="109.91" cy="396.82" r="2.3"/><circle cx="110.19" cy="395.88" r="2.3"/><circle cx="110.46" cy="395.04" r="2.3"/><circle cx="110.74" cy="395.95" r="2.3"/><circle cx="111.01" cy="395" r="2.3"/><circle cx="111.28" cy="395.17" r="2.3"/><circle cx="111.56" cy="395.08" r="2.3"/><circle cx="111.83" cy="393.92" r="2.3"/><circle cx="112.1" cy="395.22" r="2.3"/><circle cx="112.38" cy="394.76" r="2.3"/><circle cx="112.65" cy="395.22" r="2.3"/><circle cx="112.92" cy="394.01" r="2.3"/><circle cx="113.19" cy="393.13" r="2.3"/><circle cx="113.46" cy="393.64" r="2.3"/><circle cx="113.74" cy="392.78" r="2.3"/><circle cx="114.01" cy="393.5" r="2.3"/><circle cx="114.28" cy="392.15" r="2.3"/><circle cx="114.55" cy="392.67" r="2.3"/><circle cx="114.82" cy="392.67" r="2.3"/><circle cx="115.09" cy="391.2" r="2.3"/><circle cx="115.36" cy="391.97" r="2.3"/><circle cx="115.63" cy="391.41" r="2.3"/><circle cx="115.9" cy="391.47" r="2.3"/><circle cx="116.16" cy="390.92" r="2.3"/><circle cx="116.43" cy="391.06" r="2.3"/><circle cx="116.7" cy="391.64" r="2.3"/><circle cx="116.97" cy="390.55" r="2.3"/><circle cx="117.24" cy="390.24" r="2.3"/><circle cx="117.5" cy="390.09" r="2.3"/><circle cx="117.77" cy="390.26" r="2.3"/><circle cx="118.04" cy="388.85" r="2.3"/><circle cx="118.3" cy="390.16" r="2.3"/><circle cx="118.57" cy="389.46" r="2.3"/><circle cx="118.84" cy="389.22" r="2.3"/><circle cx="119.1" cy="389.8" r="2.3"/><circle cx="119.37" cy="389.67" r="2.3"/><circle cx="119.63" cy="388.38" r="2.3"/><circle cx="119.9" cy="388.19" r="2.3"/><circle cx="120.16" cy="388.32" r="2.3"/><circle cx="120.42" cy="389.17" r="2.3"/><circle cx="120.69" cy="388.21" r="2.3"/><circle cx="120.95" cy="387.72" r="2.3"/><circle cx="121.21" cy="387.31" r="2.3"/><circle cx="121.48" cy="386.8" r="2.3"/><circle cx="121.74" cy="387.06" r="2.3"/><circle cx="122" cy="386.58" r="2.3"/><circle cx="122.26" cy="386" r="2.3"/><circle cx="122.52" cy="388.19" r="2.3"/><circle cx="122.78" cy="386.05" r="2.3"/><circle cx="123.04" cy="386.73" r="2.3"/><circle cx="123.3" cy="386.01" r="2.3"/><circle cx="123.56" cy="386.01" r="2.3"/><circle cx="123.82" cy="386.57" r="2.3"/><circle cx="124.08" cy="386.34" r="2.3"/><circle cx="124.33" cy="385.38" r="2.3"/><circle cx="124.59" cy="385.58" r="2.3"/><circle cx="124.84" cy="384.88" r="2.3"/><circle cx="125.1" cy="385.38" r="2.3"/><circle cx="125.35" cy="383.73" r="2.3"/><circle cx="125.61" cy="384.99" r="2.3"/><circle cx="125.86" cy="383.46" r="2.3"/><circle cx="126.11" cy="384.98" r="2.3"/><circle cx="126.36" cy="384.05" r="2.3"/><circle cx="126.61" cy="383.56" r="2.3"/><circle cx="126.86" cy="384.85" r="2.3"/><circle cx="127.1" cy="384.49" r="2.3"/><circle cx="127.35" cy="383.53" r="2.3"/><circle cx="127.59" cy="382.95" r="2.3"/><circle cx="127.82" cy="382.67" r="2.3"/><circle cx="128.06" cy="383.01" r="2.3"/><circle cx="128.28" cy="382.57" r="2.3"/><circle cx="128.46" cy="383.73" r="2.3"/><circle cx="128.75" cy="383.15" r="2.3"/><circle cx="129.04" cy="381.91" r="2.3"/><circle cx="129.32" cy="382.95" r="2.3"/><circle cx="129.61" cy="382.62" r="2.3"/><circle cx="129.9" cy="383.37" r="2.3"/><circle cx="130.19" cy="382.32" r="2.3"/><circle cx="130.47" cy="383.01" r="2.3"/><circle cx="130.76" cy="381.72" r="2.3"/><circle cx="131.05" cy="380.93" r="2.3"/><circle cx="131.34" cy="381.48" r="2.3"/><circle cx="131.63" cy="381.43" r="2.3"/><circle cx="131.91" cy="381.64" r="2.3"/><circle cx="132.2" cy="380.95" r="2.3"/><circle cx="132.49" cy="381.8" r="2.3"/><circle cx="132.78" cy="381.29" r="2.3"/><circle cx="133.06" cy="379.61" r="2.3"/><circle cx="133.35" cy="381.53" r="2.3"/><circle cx="133.64" cy="380.97" r="2.3"/><circle cx="133.93" cy="381.33" r="2.3"/><circle cx="134.22" cy="379.66" r="2.3"/><circle cx="134.5" cy="380.4" r="2.3"/><circle cx="134.79" cy="380.89" r="2.3"/><circle cx="135.08" cy="380.76" r="2.3"/><circle cx="135.37" cy="379.24" r="2.3"/><circle cx="135.65" cy="379.38" r="2.3"/><circle cx="135.94" cy="379.19" r="2.3"/><circle cx="136.23" cy="379.58" r="2.3"/><circle cx="136.52" cy="378.89" r="2.3"/><circle cx="136.8" cy="378.53" r="2.3"/><circle cx="137.09" cy="378.8" r="2.3"/><circle cx="137.38" cy="380.03" r="2.3"/><circle cx="137.67" cy="380.13" r="2.3"/><circle cx="137.96" cy="379.72" r="2.3"/><circle cx="138.24" cy="378.58" r="2.3"/><circle cx="138.53" cy="379.52" r="2.3"/><circle cx="138.82" cy="379.16" r="2.3"/><circle cx="139.11" cy="378.39" r="2.3"/><circle cx="139.39" cy="378.82" r="2.3"/><circle cx="139.68" cy="378.95" r="2.3"/><circle cx="139.97" cy="377.52" r="2.3"/><circle cx="140.26" cy="377.69" r="2.3"/><circle cx="140.55" cy="377.41" r="2.3"/><circle cx="140.83" cy="377.23" r="2.3"/><circle cx="141.12" cy="376.81" r="2.3"/><circle cx="141.41" cy="377.59" r="2.3"/><circle cx="141.7" cy="377.57" r="2.3"/><circle cx="141.98" cy="378.4" r="2.3"/><circle cx="142.27" cy="377.4" r="2.3"/><circle cx="142.56" cy="377.51" r="2.3"/><circle cx="142.85" cy="376.44" r="2.3"/><circle cx="143.14" cy="376.56" r="2.3"/><circle cx="143.42" cy="375.99" r="2.3"/><circle cx="143.71" cy="376.12" r="2.3"/><circle cx="144" cy="375.97" r="2.3"/><circle cx="144.29" cy="376.26" r="2.3"/><circle cx="144.57" cy="376.39" r="2.3"/><circle cx="144.86" cy="376.61" r="2.3"/><circle cx="145.15" cy="376.3" r="2.3"/><circle cx="145.44" cy="376.76" r="2.3"/><circle cx="145.72" cy="375.87" r="2.3"/><circle cx="146.01" cy="376.06" r="2.3"/><circle cx="146.3" cy="377.12" r="2.3"/><circle cx="146.59" cy="377.42" r="2.3"/><circle cx="146.88" cy="376.16" r="2.3"/><circle cx="147.16" cy="375.92" r="2.3"/><circle cx="147.45" cy="375.73" r="2.3"/><circle cx="147.74" cy="374.7" r="2.3"/><circle cx="148.03" cy="375.75" r="2.3"/><circle cx="148.31" cy="376.04" r="2.3"/><circle cx="148.6" cy="374.98" r="2.3"/><circle cx="148.89" cy="374.52" r="2.3"/><circle cx="149.18" cy="374.06" r="2.3"/><circle cx="149.47" cy="375.54" r="2.3"/><circle cx="149.75" cy="375.01" r="2.3"/><circle cx="150.04" cy="375.03" r="2.3"/><circle cx="150.33" cy="373.8" r="2.3"/><circle cx="150.62" cy="374.2" r="2.3"/><circle cx="150.9" cy="374.51" r="2.3"/><circle cx="151.19" cy="374.02" r="2.3"/><circle cx="151.48" cy="374.57" r="2.3"/><circle cx="151.77" cy="374.4" r="2.3"/><circle cx="152.06" cy="374.22" r="2.3"/><circle cx="152.34" cy="374.42" r="2.3"/><circle cx="152.63" cy="374.19" r="2.3"/><circle cx="152.92" cy="373.76" r="2.3"/><circle cx="153.21" cy="373.74" r="2.3"/><circle cx="153.49" cy="372.93" r="2.3"/><circle cx="153.78" cy="373.22" r="2.3"/><circle cx="154.07" cy="373.7" r="2.3"/><circle cx="154.36" cy="374.87" r="2.3"/><circle cx="154.65" cy="374.38" r="2.3"/><circle cx="154.93" cy="373.73" r="2.3"/><circle cx="155.22" cy="373.58" r="2.3"/><circle cx="155.51" cy="374.05" r="2.3"/><circle cx="155.8" cy="373.43" r="2.3"/><circle cx="156.08" cy="373.07" r="2.3"/><circle cx="156.37" cy="373.44" r="2.3"/><circle cx="156.66" cy="373.08" r="2.3"/><circle cx="156.95" cy="372.98" r="2.3"/><circle cx="157.23" cy="373.26" r="2.3"/><circle cx="157.52" cy="373.29" r="2.3"/><circle cx="157.81" cy="372.79" r="2.3"/><circle cx="158.1" cy="372.48" r="2.3"/><circle cx="158.39" cy="373.18" r="2.3"/><circle cx="158.67" cy="373.71" r="2.3"/><circle cx="158.96" cy="373" r="2.3"/><circle cx="159.25" cy="372.07" r="2.3"/><circle cx="159.54" cy="373.25" r="2.3"/><circle cx="159.82" cy="371.69" r="2.3"/><circle cx="160.11" cy="372.51" r="2.3"/><circle cx="160.4" cy="372.03" r="2.3"/><circle cx="160.69" cy="372.49" r="2.3"/><circle cx="160.98" cy="371.63" r="2.3"/><circle cx="161.26" cy="371.88" r="2.3"/><circle cx="161.55" cy="371.62" r="2.3"/><circle cx="161.84" cy="372.92" r="2.3"/><circle cx="162.13" cy="371.29" r="2.3"/><circle cx="162.41" cy="372.64" r="2.3"/><circle cx="162.7" cy="371.79" r="2.3"/><circle cx="162.99" cy="371.22" r="2.3"/><circle cx="163.28" cy="371.58" r="2.3"/><circle cx="163.57" cy="371.11" r="2.3"/><circle cx="163.85" cy="371.24" r="2.3"/><circle cx="164.14" cy="371.23" r="2.3"/><circle cx="164.43" cy="371.7" r="2.3"/><circle cx="164.72" cy="370.57" r="2.3"/><circle cx="165" cy="370.44" r="2.3"/><circle cx="165.29" cy="371.36" r="2.3"/><circle cx="165.58" cy="371.51" r="2.3"/><circle cx="165.87" cy="370.81" r="2.3"/><circle cx="166.16" cy="371.31" r="2.3"/><circle cx="166.44" cy="370.73" r="2.3"/><circle cx="166.73" cy="370.28" r="2.3"/><circle cx="167.02" cy="370.31" r="2.3"/><circle cx="167.31" cy="369.77" r="2.3"/><circle cx="167.59" cy="370.31" r="2.3"/><circle cx="167.88" cy="371.14" r="2.3"/><circle cx="168.17" cy="370.97" r="2.3"/><circle cx="168.46" cy="370.11" r="2.3"/><circle cx="168.75" cy="369.25" r="2.3"/><circle cx="169.03" cy="370.52" r="2.3"/><circle cx="169.32" cy="370.79" r="2.3"/><circle cx="169.61" cy="369.39" r="2.3"/><circle cx="169.9" cy="370.22" r="2.3"/><circle cx="170.18" cy="369.69" r="2.3"/><circle cx="170.47" cy="369.41" r="2.3"/><circle cx="170.76" cy="370.57" r="2.3"/><circle cx="171.05" cy="370.15" r="2.3"/><circle cx="171.33" cy="370.21" r="2.3"/><circle cx="171.62" cy="369.53" r="2.3"/><circle cx="171.91" cy="369.41" r="2.3"/><circle cx="172.2" cy="370.03" r="2.3"/><circle cx="172.49" cy="369.36" r="2.3"/><circle cx="172.77" cy="370.68" r="2.3"/><circle cx="173.06" cy="369.38" r="2.3"/><circle cx="173.35" cy="369.34" r="2.3"/><circle cx="173.64" cy="369.49" r="2.3"/><circle cx="173.92" cy="370.29" r="2.3"/><circle cx="174.21" cy="369.45" r="2.3"/><circle cx="174.5" cy="369.97" r="2.3"/><circle cx="174.79" cy="368.45" r="2.3"/><circle cx="175.08" cy="369.42" r="2.3"/><circle cx="175.36" cy="369.32" r="2.3"/><circle cx="175.65" cy="369.22" r="2.3"/><circle cx="175.94" cy="368.8" r="2.3"/><circle cx="176.23" cy="369.02" r="2.3"/><circle cx="176.51" cy="368.71" r="2.3"/><circle cx="176.8" cy="369.51" r="2.3"/><circle cx="177.09" cy="368.29" r="2.3"/><circle cx="177.38" cy="369.17" r="2.3"/><circle cx="177.67" cy="368.4" r="2.3"/><circle cx="177.95" cy="368.66" r="2.3"/><circle cx="178.24" cy="368.13" r="2.3"/><circle cx="178.53" cy="368.75" r="2.3"/><circle cx="178.82" cy="369.52" r="2.3"/><circle cx="179.1" cy="369.29" r="2.3"/><circle cx="179.39" cy="368.71" r="2.3"/><circle cx="179.68" cy="367.73" r="2.3"/><circle cx="179.97" cy="368.74" r="2.3"/><circle cx="180.25" cy="368.42" r="2.3"/><circle cx="180.54" cy="367.68" r="2.3"/><circle cx="180.83" cy="368.69" r="2.3"/><circle cx="181.12" cy="368.15" r="2.3"/><circle cx="181.41" cy="368.12" r="2.3"/><circle cx="181.69" cy="368.59" r="2.3"/><circle cx="181.98" cy="368.07" r="2.3"/><circle cx="182.27" cy="367.56" r="2.3"/><circle cx="182.56" cy="367.52" r="2.3"/><circle cx="182.84" cy="368.28" r="2.3"/><circle cx="183.13" cy="366.36" r="2.3"/><circle cx="183.42" cy="367.8" r="2.3"/><circle cx="183.71" cy="368.13" r="2.3"/><circle cx="184" cy="368.35" r="2.3"/><circle cx="184.28" cy="368.46" r="2.3"/><circle cx="184.57" cy="367.38" r="2.3"/><circle cx="184.86" cy="369.48" r="2.3"/><circle cx="185.15" cy="367.86" r="2.3"/><circle cx="185.43" cy="368.53" r="2.3"/><circle cx="185.72" cy="367.8" r="2.3"/><circle cx="186.01" cy="367.68" r="2.3"/><circle cx="186.3" cy="368.38" r="2.3"/><circle cx="186.59" cy="368.16" r="2.3"/><circle cx="186.87" cy="366.82" r="2.3"/><circle cx="187.16" cy="367.84" r="2.3"/><circle cx="187.45" cy="367.49" r="2.3"/><circle cx="187.74" cy="367.63" r="2.3"/><circle cx="188.02" cy="366.93" r="2.3"/><circle cx="188.31" cy="366.67" r="2.3"/><circle cx="188.6" cy="366.81" r="2.3"/><circle cx="188.89" cy="366.99" r="2.3"/><circle cx="189.18" cy="366.95" r="2.3"/><circle cx="189.46" cy="367.93" r="2.3"/><circle cx="189.75" cy="366.45" r="2.3"/><circle cx="190.04" cy="367.49" r="2.3"/><circle cx="190.33" cy="367.65" r="2.3"/><circle cx="190.61" cy="367.32" r="2.3"/><circle cx="190.9" cy="367.53" r="2.3"/><circle cx="191.19" cy="366.8" r="2.3"/><circle cx="191.48" cy="366.59" r="2.3"/><circle cx="191.77" cy="366.23" r="2.3"/><circle cx="192.05" cy="366.99" r="2.3"/><circle cx="192.34" cy="367.25" r="2.3"/><circle cx="192.63" cy="367.04" r="2.3"/><circle cx="192.92" cy="367.52" r="2.3"/><circle cx="193.2" cy="367.24" r="2.3"/><circle cx="193.49" cy="365.62" r="2.3"/><circle cx="193.78" cy="367.2" r="2.3"/><circle cx="194.07" cy="366.99" r="2.3"/><circle cx="194.35" cy="366.32" r="2.3"/><circle cx="194.64" cy="366.51" r="2.3"/><circle cx="194.93" cy="366.18" r="2.3"/><circle cx="195.22" cy="367.1" r="2.3"/><circle cx="195.51" cy="367.19" r="2.3"/><circle cx="195.79" cy="365.77" r="2.3"/><circle cx="196.08" cy="366.9" r="2.3"/><circle cx="196.37" cy="366.54" r="2.3"/><circle cx="196.66" cy="366.33" r="2.3"/><circle cx="196.94" cy="367.49" r="2.3"/><circle cx="197.23" cy="366.5" r="2.3"/><circle cx="197.52" cy="366.74" r="2.3"/><circle cx="197.81" cy="366.03" r="2.3"/><circle cx="198.1" cy="366.49" r="2.3"/><circle cx="198.38" cy="367.58" r="2.3"/><circle cx="198.67" cy="365.8" r="2.3"/><circle cx="198.96" cy="367.7" r="2.3"/><circle cx="199.25" cy="366.43" r="2.3"/><circle cx="199.53" cy="366.57" r="2.3"/><circle cx="199.82" cy="366.5" r="2.3"/><circle cx="200.11" cy="366.12" r="2.3"/><circle cx="200.4" cy="365.54" r="2.3"/><circle cx="200.69" cy="366.57" r="2.3"/><circle cx="200.97" cy="366.39" r="2.3"/><circle cx="201.26" cy="365.58" r="2.3"/><circle cx="201.55" cy="365.69" r="2.3"/><circle cx="201.84" cy="365.54" r="2.3"/><circle cx="202.12" cy="365.74" r="2.3"/><circle cx="202.41" cy="366.05" r="2.3"/><circle cx="202.7" cy="366.16" r="2.3"/><circle cx="202.99" cy="366.13" r="2.3"/><circle cx="203.28" cy="365.3" r="2.3"/><circle cx="203.56" cy="364.94" r="2.3"/><circle cx="203.85" cy="364.63" r="2.3"/><circle cx="204.14" cy="366.36" r="2.3"/><circle cx="204.43" cy="365.87" r="2.3"/><circle cx="204.71" cy="365.7" r="2.3"/><circle cx="205" cy="365.78" r="2.3"/><circle cx="205.29" cy="366.31" r="2.3"/><circle cx="205.58" cy="364.37" r="2.3"/><circle cx="205.86" cy="364.73" r="2.3"/><circle cx="206.15" cy="365.68" r="2.3"/><circle cx="206.44" cy="365.83" r="2.3"/><circle cx="206.73" cy="365.54" r="2.3"/><circle cx="207.02" cy="366.22" r="2.3"/><circle cx="207.3" cy="365.69" r="2.3"/><circle cx="207.59" cy="365.02" r="2.3"/><circle cx="207.88" cy="364.49" r="2.3"/><circle cx="208.17" cy="364.91" r="2.3"/><circle cx="208.45" cy="364.65" r="2.3"/><circle cx="208.74" cy="365.99" r="2.3"/><circle cx="209.03" cy="367.24" r="2.3"/><circle cx="209.32" cy="364.53" r="2.3"/><circle cx="209.61" cy="365.21" r="2.3"/><circle cx="209.89" cy="365.34" r="2.3"/><circle cx="210.18" cy="364.3" r="2.3"/><circle cx="210.47" cy="365.81" r="2.3"/><circle cx="210.76" cy="365.78" r="2.3"/><circle cx="211.04" cy="365.64" r="2.3"/><circle cx="211.33" cy="364.24" r="2.3"/><circle cx="211.62" cy="364.61" r="2.3"/><circle cx="211.91" cy="366.18" r="2.3"/><circle cx="212.2" cy="364.16" r="2.3"/><circle cx="212.48" cy="365.09" r="2.3"/><circle cx="212.77" cy="364.83" r="2.3"/><circle cx="213.06" cy="365.51" r="2.3"/><circle cx="213.35" cy="363.95" r="2.3"/><circle cx="213.63" cy="364.77" r="2.3"/><circle cx="213.92" cy="364.23" r="2.3"/><circle cx="214.21" cy="365.56" r="2.3"/><circle cx="214.5" cy="364.55" r="2.3"/><circle cx="214.78" cy="364.89" r="2.3"/><circle cx="215.07" cy="365.05" r="2.3"/><circle cx="215.36" cy="365.38" r="2.3"/><circle cx="215.65" cy="365.29" r="2.3"/><circle cx="215.94" cy="365.55" r="2.3"/><circle cx="216.22" cy="365.24" r="2.3"/><circle cx="216.51" cy="364.84" r="2.3"/><circle cx="216.8" cy="364.47" r="2.3"/><circle cx="217.09" cy="365.7" r="2.3"/><circle cx="217.37" cy="365.38" r="2.3"/><circle cx="217.66" cy="365.11" r="2.3"/><circle cx="217.95" cy="365.7" r="2.3"/><circle cx="218.24" cy="364.89" r="2.3"/><circle cx="218.53" cy="364.86" r="2.3"/><circle cx="218.81" cy="364.8" r="2.3"/><circle cx="219.1" cy="364.42" r="2.3"/><circle cx="219.39" cy="364.1" r="2.3"/><circle cx="219.68" cy="364.16" r="2.3"/><circle cx="219.96" cy="364.45" r="2.3"/><circle cx="220.25" cy="364.25" r="2.3"/><circle cx="220.54" cy="365.04" r="2.3"/><circle cx="220.83" cy="365.11" r="2.3"/><circle cx="221.12" cy="364.17" r="2.3"/><circle cx="221.4" cy="364.2" r="2.3"/><circle cx="221.69" cy="363.22" r="2.3"/><circle cx="221.98" cy="364.63" r="2.3"/><circle cx="222.27" cy="365.06" r="2.3"/><circle cx="222.55" cy="364.29" r="2.3"/><circle cx="222.84" cy="364.71" r="2.3"/><circle cx="223.13" cy="364.95" r="2.3"/><circle cx="223.42" cy="363.61" r="2.3"/><circle cx="223.71" cy="363.27" r="2.3"/><circle cx="223.99" cy="364.16" r="2.3"/><circle cx="224.28" cy="364.75" r="2.3"/><circle cx="224.57" cy="364.2" r="2.3"/><circle cx="224.86" cy="364.37" r="2.3"/><circle cx="225.14" cy="365.13" r="2.3"/><circle cx="225.43" cy="363.81" r="2.3"/><circle cx="225.72" cy="364.08" r="2.3"/><circle cx="226.01" cy="363.53" r="2.3"/><circle cx="226.29" cy="364.58" r="2.3"/><circle cx="226.58" cy="364.25" r="2.3"/><circle cx="226.87" cy="364.29" r="2.3"/><circle cx="227.16" cy="365.22" r="2.3"/><circle cx="227.45" cy="362.72" r="2.3"/><circle cx="227.73" cy="365.41" r="2.3"/><circle cx="228.02" cy="364.84" r="2.3"/><circle cx="228.31" cy="364.36" r="2.3"/><circle cx="228.6" cy="365.06" r="2.3"/><circle cx="228.88" cy="363.88" r="2.3"/><circle cx="229.17" cy="364.38" r="2.3"/><circle cx="229.46" cy="364.05" r="2.3"/><circle cx="229.75" cy="363.94" r="2.3"/><circle cx="230.04" cy="364.02" r="2.3"/><circle cx="230.32" cy="363.99" r="2.3"/><circle cx="230.61" cy="364.12" r="2.3"/><circle cx="230.9" cy="363.77" r="2.3"/><circle cx="231.19" cy="363.53" r="2.3"/><circle cx="231.47" cy="364.15" r="2.3"/><circle cx="231.76" cy="364.24" r="2.3"/><circle cx="232.05" cy="364.2" r="2.3"/><circle cx="232.34" cy="363.77" r="2.3"/><circle cx="232.63" cy="364.16" r="2.3"/><circle cx="232.91" cy="364.15" r="2.3"/><circle cx="233.2" cy="364.8" r="2.3"/><circle cx="233.49" cy="362.76" r="2.3"/><circle cx="233.78" cy="364.61" r="2.3"/><circle cx="234.06" cy="362.88" r="2.3"/><circle cx="234.35" cy="363.39" r="2.3"/><circle cx="234.64" cy="363.24" r="2.3"/><circle cx="234.93" cy="363.68" r="2.3"/><circle cx="235.22" cy="363.53" r="2.3"/><circle cx="235.5" cy="363.64" r="2.3"/><circle cx="235.79" cy="363.45" r="2.3"/><circle cx="236.08" cy="363.29" r="2.3"/><circle cx="236.37" cy="362.87" r="2.3"/><circle cx="236.65" cy="364.34" r="2.3"/><circle cx="236.94" cy="363.46" r="2.3"/><circle cx="237.23" cy="362.78" r="2.3"/><circle cx="237.52" cy="362.89" r="2.3"/><circle cx="237.81" cy="364.31" r="2.3"/><circle cx="238.09" cy="363.51" r="2.3"/><circle cx="238.38" cy="363.52" r="2.3"/><circle cx="238.67" cy="363.52" r="2.3"/><circle cx="238.96" cy="364.99" r="2.3"/><circle cx="239.24" cy="363.13" r="2.3"/><circle cx="239.53" cy="364.59" r="2.3"/><circle cx="239.82" cy="362.32" r="2.3"/><circle cx="240.11" cy="363.22" r="2.3"/><circle cx="240.39" cy="363.66" r="2.3"/><circle cx="240.68" cy="363.21" r="2.3"/><circle cx="240.97" cy="363.49" r="2.3"/><circle cx="241.26" cy="363.88" r="2.3"/><circle cx="241.55" cy="363.61" r="2.3"/><circle cx="241.83" cy="363.34" r="2.3"/><circle cx="242.12" cy="364.01" r="2.3"/><circle cx="242.41" cy="363.1" r="2.3"/><circle cx="242.7" cy="362.85" r="2.3"/><circle cx="242.98" cy="362.86" r="2.3"/><circle cx="243.27" cy="362.79" r="2.3"/><circle cx="243.56" cy="362.7" r="2.3"/><circle cx="243.85" cy="363.05" r="2.3"/><circle cx="244.14" cy="362.68" r="2.3"/><circle cx="244.42" cy="363.41" r="2.3"/><circle cx="244.71" cy="363.19" r="2.3"/><circle cx="245" cy="362.58" r="2.3"/><circle cx="245.29" cy="362.26" r="2.3"/><circle cx="245.57" cy="363.61" r="2.3"/><circle cx="245.86" cy="364.26" r="2.3"/><circle cx="246.15" cy="362.1" r="2.3"/><circle cx="246.44" cy="362.68" r="2.3"/><circle cx="246.73" cy="362.27" r="2.3"/><circle cx="247.01" cy="362.81" r="2.3"/><circle cx="247.3" cy="363.2" r="2.3"/><circle cx="247.59" cy="363.71" r="2.3"/><circle cx="247.88" cy="363.9" r="2.3"/><circle cx="248.16" cy="362.45" r="2.3"/><circle cx="248.45" cy="362.72" r="2.3"/><circle cx="248.74" cy="363.1" r="2.3"/><circle cx="249.03" cy="363.95" r="2.3"/><circle cx="249.31" cy="363.59" r="2.3"/><circle cx="249.6" cy="363.64" r="2.3"/><circle cx="249.89" cy="363.44" r="2.3"/><circle cx="250.18" cy="364.98" r="2.3"/><circle cx="250.47" cy="363.11" r="2.3"/><circle cx="250.75" cy="362.3" r="2.3"/><circle cx="251.04" cy="363.55" r="2.3"/><circle cx="251.33" cy="363.2" r="2.3"/><circle cx="251.62" cy="363.04" r="2.3"/><circle cx="251.9" cy="363.8" r="2.3"/><circle cx="252.19" cy="362.93" r="2.3"/><circle cx="252.48" cy="363.67" r="2.3"/><circle cx="252.77" cy="363.43" r="2.3"/><circle cx="253.06" cy="363.01" r="2.3"/><circle cx="253.34" cy="363.19" r="2.3"/><circle cx="253.63" cy="363.09" r="2.3"/><circle cx="253.92" cy="363.69" r="2.3"/><circle cx="254.21" cy="362.69" r="2.3"/><circle cx="254.49" cy="363.77" r="2.3"/><circle cx="254.78" cy="362.61" r="2.3"/><circle cx="255.07" cy="363.39" r="2.3"/><circle cx="255.36" cy="363.81" r="2.3"/><circle cx="255.65" cy="363.14" r="2.3"/><circle cx="255.93" cy="363.72" r="2.3"/><circle cx="256.22" cy="363.39" r="2.3"/><circle cx="256.51" cy="363.16" r="2.3"/><circle cx="256.8" cy="362.59" r="2.3"/><circle cx="257.08" cy="362.57" r="2.3"/><circle cx="257.37" cy="362.75" r="2.3"/><circle cx="257.66" cy="363.21" r="2.3"/><circle cx="257.95" cy="363.94" r="2.3"/><circle cx="258.24" cy="363.15" r="2.3"/><circle cx="258.52" cy="363.21" r="2.3"/><circle cx="258.81" cy="363.08" r="2.3"/><circle cx="259.1" cy="363.32" r="2.3"/><circle cx="259.39" cy="363.31" r="2.3"/><circle cx="259.67" cy="362.5" r="2.3"/><circle cx="259.96" cy="363.78" r="2.3"/><circle cx="260.25" cy="362.96" r="2.3"/><circle cx="260.54" cy="362.2" r="2.3"/><circle cx="260.82" cy="363.42" r="2.3"/><circle cx="261.11" cy="363.54" r="2.3"/><circle cx="261.4" cy="363.08" r="2.3"/><circle cx="261.69" cy="363.14" r="2.3"/><circle cx="261.98" cy="362.77" r="2.3"/><circle cx="262.26" cy="362.1" r="2.3"/><circle cx="262.55" cy="362.99" r="2.3"/><circle cx="262.84" cy="362.57" r="2.3"/><circle cx="263.13" cy="363.25" r="2.3"/><circle cx="263.41" cy="363.19" r="2.3"/><circle cx="263.7" cy="362.71" r="2.3"/><circle cx="263.99" cy="363.28" r="2.3"/><circle cx="264.28" cy="362.15" r="2.3"/><circle cx="264.57" cy="363.11" r="2.3"/><circle cx="264.85" cy="362.96" r="2.3"/><circle cx="265.14" cy="363.48" r="2.3"/><circle cx="265.43" cy="363.11" r="2.3"/><circle cx="265.72" cy="363.45" r="2.3"/><circle cx="266" cy="363.13" r="2.3"/><circle cx="266.29" cy="363.9" r="2.3"/><circle cx="266.58" cy="362.83" r="2.3"/><circle cx="266.87" cy="361.76" r="2.3"/><circle cx="267.16" cy="363.94" r="2.3"/><circle cx="267.44" cy="361.76" r="2.3"/><circle cx="267.73" cy="362.87" r="2.3"/><circle cx="268.02" cy="362.26" r="2.3"/><circle cx="268.31" cy="363.4" r="2.3"/><circle cx="268.59" cy="361.56" r="2.3"/><circle cx="268.88" cy="363.43" r="2.3"/><circle cx="269.17" cy="362.82" r="2.3"/><circle cx="269.46" cy="361.82" r="2.3"/><circle cx="269.75" cy="363.53" r="2.3"/><circle cx="270.03" cy="364.17" r="2.3"/><circle cx="270.32" cy="362.79" r="2.3"/><circle cx="270.61" cy="363.21" r="2.3"/><circle cx="270.9" cy="363.33" r="2.3"/><circle cx="271.18" cy="363.29" r="2.3"/><circle cx="271.47" cy="363.61" r="2.3"/><circle cx="271.76" cy="361.87" r="2.3"/><circle cx="272.05" cy="361.98" r="2.3"/><circle cx="272.33" cy="363.54" r="2.3"/><circle cx="272.62" cy="362.77" r="2.3"/><circle cx="272.91" cy="362.98" r="2.3"/><circle cx="273.2" cy="362.02" r="2.3"/><circle cx="273.49" cy="363.2" r="2.3"/><circle cx="273.77" cy="361.7" r="2.3"/><circle cx="274.06" cy="362.68" r="2.3"/><circle cx="274.35" cy="363.15" r="2.3"/><circle cx="274.64" cy="362.72" r="2.3"/><circle cx="274.92" cy="363.02" r="2.3"/><circle cx="275.21" cy="361.28" r="2.3"/><circle cx="275.5" cy="362.56" r="2.3"/><circle cx="275.79" cy="362.94" r="2.3"/><circle cx="276.08" cy="362.58" r="2.3"/><circle cx="276.36" cy="361.74" r="2.3"/><circle cx="276.65" cy="363.22" r="2.3"/><circle cx="276.94" cy="363.66" r="2.3"/><circle cx="277.23" cy="361.82" r="2.3"/><circle cx="277.51" cy="362.24" r="2.3"/><circle cx="277.8" cy="362.89" r="2.3"/><circle cx="278.09" cy="362.66" r="2.3"/><circle cx="278.38" cy="361.93" r="2.3"/><circle cx="278.67" cy="364.26" r="2.3"/><circle cx="278.95" cy="361.82" r="2.3"/><circle cx="279.24" cy="362.7" r="2.3"/><circle cx="279.53" cy="362.17" r="2.3"/><circle cx="279.82" cy="362.61" r="2.3"/><circle cx="280.1" cy="360.69" r="2.3"/><circle cx="280.39" cy="362.95" r="2.3"/><circle cx="280.68" cy="361.9" r="2.3"/><circle cx="280.97" cy="364.16" r="2.3"/><circle cx="281.26" cy="362.54" r="2.3"/><circle cx="281.54" cy="362.07" r="2.3"/><circle cx="281.83" cy="363.5" r="2.3"/><circle cx="282.12" cy="363.79" r="2.3"/><circle cx="282.41" cy="362.48" r="2.3"/><circle cx="282.69" cy="361.92" r="2.3"/><circle cx="282.98" cy="361.81" r="2.3"/><circle cx="283.27" cy="362.95" r="2.3"/><circle cx="283.56" cy="362.31" r="2.3"/><circle cx="283.84" cy="363.39" r="2.3"/><circle cx="284.13" cy="361.45" r="2.3"/><circle cx="284.42" cy="362.87" r="2.3"/><circle cx="284.71" cy="361.73" r="2.3"/><circle cx="285" cy="362.67" r="2.3"/><circle cx="285.28" cy="362.7" r="2.3"/><circle cx="285.57" cy="361.5" r="2.3"/><circle cx="285.86" cy="363.03" r="2.3"/><circle cx="286.15" cy="361.69" r="2.3"/><circle cx="286.43" cy="362.7" r="2.3"/><circle cx="286.72" cy="363.02" r="2.3"/><circle cx="287.01" cy="362.99" r="2.3"/><circle cx="287.3" cy="361.78" r="2.3"/><circle cx="287.59" cy="362.52" r="2.3"/><circle cx="287.87" cy="362.68" r="2.3"/><circle cx="288.16" cy="363.39" r="2.3"/><circle cx="288.45" cy="361.74" r="2.3"/><circle cx="288.74" cy="361.81" r="2.3"/><circle cx="289.02" cy="362.25" r="2.3"/><circle cx="289.31" cy="361.97" r="2.3"/><circle cx="289.6" cy="364.45" r="2.3"/><circle cx="289.89" cy="362.77" r="2.3"/><circle cx="290.18" cy="362.34" r="2.3"/><circle cx="290.46" cy="362.37" r="2.3"/><circle cx="290.75" cy="362.78" r="2.3"/><circle cx="291.04" cy="362.28" r="2.3"/><circle cx="291.33" cy="362.87" r="2.3"/><circle cx="291.61" cy="362.82" r="2.3"/><circle cx="291.9" cy="363.18" r="2.3"/><circle cx="292.19" cy="362.33" r="2.3"/></g>
</g>
<rect x="54.7" y="315.2" width="257.8" height="209.2" fill="none" stroke="#2b2b2b" stroke-width="1.1"/>
<line x1="50.5" y1="515.3" x2="54.7" y2="515.3" stroke="#2b2b2b" stroke-width="1.1"/>
<text x="47.5" y="519.2" font-size="12" text-anchor="end" font-weight="normal" >0.13</text>
<line x1="50.5" y1="484.45" x2="54.7" y2="484.45" stroke="#2b2b2b" stroke-width="1.1"/>
<text x="47.5" y="488.35" font-size="12" text-anchor="end" font-weight="normal" >0.14</text>
<line x1="50.5" y1="453.6" x2="54.7" y2="453.6" stroke="#2b2b2b" stroke-width="1.1"/>
<text x="47.5" y="457.5" font-size="12" text-anchor="end" font-weight="normal" >0.15</text>
<line x1="50.5" y1="422.75" x2="54.7" y2="422.75" stroke="#2b2b2b" stroke-width="1.1"/>
<text x="47.5" y="426.65" font-size="12" text-anchor="end" font-weight="normal" >0.16</text>
<line x1="50.5" y1="391.9" x2="54.7" y2="391.9" stroke="#2b2b2b" stroke-width="1.1"/>
<text x="47.5" y="395.8" font-size="12" text-anchor="end" font-weight="normal" >0.17</text>
<line x1="50.5" y1="361.05" x2="54.7" y2="361.05" stroke="#2b2b2b" stroke-width="1.1"/>
<text x="47.5" y="364.95" font-size="12" text-anchor="end" font-weight="normal" >0.18</text>
<line x1="50.5" y1="330.2" x2="54.7" y2="330.2" stroke="#2b2b2b" stroke-width="1.1"/>
<text x="47.5" y="334.1" font-size="12" text-anchor="end" font-weight="normal" >0.19</text>
<line x1="52.4" y1="499.88" x2="54.7" y2="499.88" stroke="#2b2b2b" stroke-width="1.1"/>
<line x1="52.4" y1="469.03" x2="54.7" y2="469.03" stroke="#2b2b2b" stroke-width="1.1"/>
<line x1="52.4" y1="438.18" x2="54.7" y2="438.18" stroke="#2b2b2b" stroke-width="1.1"/>
<line x1="52.4" y1="407.32" x2="54.7" y2="407.32" stroke="#2b2b2b" stroke-width="1.1"/>
<line x1="52.4" y1="376.48" x2="54.7" y2="376.48" stroke="#2b2b2b" stroke-width="1.1"/>
<line x1="52.4" y1="345.62" x2="54.7" y2="345.62" stroke="#2b2b2b" stroke-width="1.1"/>
<line x1="52.4" y1="314.77" x2="54.7" y2="314.77" stroke="#2b2b2b" stroke-width="1.1"/>
<line x1="59.4" y1="524.4" x2="59.4" y2="528.6" stroke="#2b2b2b" stroke-width="1.1"/>
<text x="59.4" y="540.6" font-size="12" text-anchor="middle" font-weight="normal" >0.0</text>
<line x1="105.44" y1="524.4" x2="105.44" y2="528.6" stroke="#2b2b2b" stroke-width="1.1"/>
<text x="105.44" y="540.6" font-size="12" text-anchor="middle" font-weight="normal" >0.2</text>
<line x1="151.48" y1="524.4" x2="151.48" y2="528.6" stroke="#2b2b2b" stroke-width="1.1"/>
<text x="151.48" y="540.6" font-size="12" text-anchor="middle" font-weight="normal" >0.4</text>
<line x1="197.52" y1="524.4" x2="197.52" y2="528.6" stroke="#2b2b2b" stroke-width="1.1"/>
<text x="197.52" y="540.6" font-size="12" text-anchor="middle" font-weight="normal" >0.6</text>
<line x1="243.56" y1="524.4" x2="243.56" y2="528.6" stroke="#2b2b2b" stroke-width="1.1"/>
<text x="243.56" y="540.6" font-size="12" text-anchor="middle" font-weight="normal" >0.8</text>
<line x1="289.6" y1="524.4" x2="289.6" y2="528.6" stroke="#2b2b2b" stroke-width="1.1"/>
<text x="289.6" y="540.6" font-size="12" text-anchor="middle" font-weight="normal" >1.0</text>
<line x1="82.42" y1="524.4" x2="82.42" y2="526.7" stroke="#2b2b2b" stroke-width="1.1"/>
<line x1="128.46" y1="524.4" x2="128.46" y2="526.7" stroke="#2b2b2b" stroke-width="1.1"/>
<line x1="174.5" y1="524.4" x2="174.5" y2="526.7" stroke="#2b2b2b" stroke-width="1.1"/>
<line x1="220.54" y1="524.4" x2="220.54" y2="526.7" stroke="#2b2b2b" stroke-width="1.1"/>
<line x1="266.58" y1="524.4" x2="266.58" y2="526.7" stroke="#2b2b2b" stroke-width="1.1"/>
<line x1="312.62" y1="524.4" x2="312.62" y2="526.7" stroke="#2b2b2b" stroke-width="1.1"/>
<text x="184.1" y="561.7" font-size="14.6" text-anchor="middle" font-weight="normal" >Time (s)</text>
<text x="66.2" y="304.6" font-size="16" text-anchor="middle" font-weight="bold" >c</text>
<text transform="translate(11,455.8) rotate(-90)" font-size="14">Abs<tspan font-size="8.5" dx="2.5" dy="6">366 nm</tspan></text>
<g clip-path="url(#cd)">
<polyline points="400.6,497 400.6,490 400.7,487.51 400.95,485.82 401.2,484.14 401.45,482.44 401.7,480.74 401.95,479.04 402.2,477.33 402.45,475.61 402.7,473.89 402.95,472.17 403.2,470.45 403.45,468.73 403.7,467 403.95,465.27 404.2,463.55 404.45,461.82 404.7,460.1 404.95,458.38 405.2,456.66 405.45,454.94 405.7,453.23 405.95,451.52 406.2,449.82 406.45,448.12 406.7,446.43 406.95,444.74 407.2,443.06 407.45,441.39 407.7,439.73 407.95,438.07 408.2,436.43 408.45,434.8 408.7,433.17 408.95,431.56 409.2,429.96 409.45,428.37 409.7,426.8 409.95,425.24 410.2,423.69 410.45,422.16 410.7,420.64 410.95,419.14 411.2,417.66 411.45,416.19 411.7,414.74 411.95,413.31 412.2,411.9 412.45,410.51 412.7,409.14 412.95,407.78 413.2,406.45 413.45,405.15 413.7,403.86 413.95,402.6 414.2,401.36 414.45,400.14 414.7,398.95 414.95,397.79 415.2,396.65 415.45,395.53 415.7,394.44 415.95,393.37 416.2,392.32 416.45,391.3 416.7,390.3 416.95,389.32 417.2,388.36 417.45,387.43 417.7,386.52 417.95,385.62 418.2,384.75 418.45,383.9 418.7,383.07 418.95,382.26 419.2,381.47 419.45,380.7 419.7,379.95 419.95,379.22 420.2,378.5 420.45,377.81 420.7,377.13 420.95,376.47 421.2,375.83 421.45,375.2 421.7,374.59 421.95,374 422.2,373.42 422.45,372.86 422.7,372.32 422.95,371.79 423.2,371.28 423.45,370.78 423.7,370.29 423.95,369.82 424.2,369.36 424.45,368.92 424.7,368.49 424.95,368.07 425.2,367.67 425.45,367.28 425.7,366.9 425.95,366.53 426.2,366.18 426.45,365.83 426.7,365.5 426.95,365.17 427.2,364.86 427.45,364.56 427.7,364.26 427.95,363.98 428.2,363.71 428.45,363.44 428.7,363.18 428.95,362.94 429.2,362.7 429.45,362.46 429.7,362.24 429.95,362.02 430.2,361.81 430.45,361.6 430.7,361.41 430.95,361.21 431.2,361.03 431.45,360.85 431.7,360.67 431.95,360.5 432.2,360.33 432.45,360.17 432.7,360.01 432.95,359.86 433.2,359.7 433.45,359.56 433.7,359.41 433.95,359.27 434.2,359.13 434.45,358.99 434.7,358.85 434.95,358.72 435.2,358.58 435.45,358.45 435.7,358.32 435.95,358.2 436.2,358.07 436.45,357.95 436.7,357.83 436.95,357.71 437.2,357.59 437.45,357.47 437.7,357.36 437.95,357.25 438.2,357.14 438.45,357.03 438.7,356.92 438.95,356.81 439.2,356.71 439.45,356.61 439.7,356.51 439.95,356.41 440,356.39 441,356.01 442,355.66 443,355.33 444,355.02 445,354.73 446,354.47 447,354.22 448,353.99 449,353.78 450,353.58 451,353.4 452,353.23 453,353.08 454,352.93 455,352.8 456,352.67 457,352.56 458,352.44 459,352.34 460,352.24 461,352.14 462,352.05 463,351.95 464,351.86 465,351.77 466,351.68 467,351.6 468,351.51 469,351.43 470,351.35 471,351.27 472,351.19 473,351.11 474,351.04 475,350.96 476,350.89 477,350.82 478,350.75 479,350.69 480,350.62 481,350.56 482,350.49 483,350.43 484,350.37 485,350.31 486,350.26 487,350.2 488,350.15 489,350.1 490,350.05 491,350 492,349.95 493,349.9 494,349.85 495,349.81 496,349.77 497,349.72 498,349.68 499,349.64 500,349.6 501,349.57 502,349.53 503,349.5 504,349.46 505,349.43 506,349.4 507,349.37 508,349.34 509,349.31 510,349.28 511,349.26 512,349.23 513,349.21 514,349.18 515,349.16 516,349.14 517,349.12 518,349.1 519,349.08 520,349.07 521,349.05 522,349.03 523,349.02 524,349 525,348.99 526,348.98 527,348.97 528,348.96 529,348.94 530,348.94 531,348.93 532,348.92 533,348.91 534,348.9 535,348.9 536,348.89 537,348.89 538,348.88 539,348.88 540,348.88 541,348.87 542,348.87 543,348.87 544,348.87 545,348.87 546,348.87 547,348.87 548,348.87 549,348.87 550,348.88 551,348.88 552,348.88 553,348.88 554,348.89 555,348.89 556,348.89 557,348.9 558,348.9 559,348.91 560,348.91 561,348.92 562,348.92 563,348.93 564,348.94 565,348.94 566,348.95 567,348.96 568,348.96 569,348.97 570,348.98 571,348.98 572,348.99 573,349 574,349.01 575,349.01 576,349.02 577,349.03 578,349.04 579,349.04 580,349.05 581,349.06 582,349.06 583,349.07 584,349.08 585,349.08 586,349.09 587,349.1 588,349.1 589,349.11 590,349.12 591,349.12 592,349.13 593,349.13 594,349.14 595,349.14 596,349.15 597,349.15 598,349.15 599,349.16 600,349.16 601,349.16 602,349.16 603,349.17 604,349.17 605,349.17 606,349.17 607,349.17 608,349.17 609,349.17 610,349.17 611,349.16 612,349.16 613,349.16 614,349.15 615,349.15 616,349.14 617,349.14 618,349.13 619,349.13 620,349.12 621,349.11 622,349.1 623,349.09 624,349.08 625,349.07 626,349.06 627,349.04 628,349.03 629,349.02 630,349 631,348.98 632,348.97 633,348.95 634,348.93 635,348.91 636,348.89 637,348.87 638,348.85 639,348.82 640,348.8 641,348.77 642,348.75 643,348.72 644,348.69 645,348.66" fill="none" stroke="#000" stroke-width="3.9" stroke-linejoin="round" opacity="1"/>
<g fill="#000"><circle cx="400.8" cy="500.1" r="2.1"/><circle cx="400.8" cy="510.8" r="2.1"/></g>
<polyline points="400.5,491 400.7,488.58 400.95,487.94 401.2,487.29 401.45,486.62 401.7,485.94 401.95,485.24 402.2,484.52 402.45,483.8 402.7,483.06 402.95,482.3 403.2,481.53 403.45,480.75 403.7,479.96 403.95,479.15 404.2,478.34 404.45,477.51 404.7,476.67 404.95,475.81 405.2,474.95 405.45,474.08 405.7,473.19 405.95,472.3 406.2,471.4 406.45,470.49 406.7,469.57 406.95,468.64 407.2,467.7 407.45,466.76 407.7,465.8 407.95,464.84 408.2,463.88 408.45,462.91 408.7,461.93 408.95,460.94 409.2,459.95 409.45,458.96 409.7,457.96 409.95,456.95 410.2,455.94 410.45,454.93 410.7,453.91 410.95,452.89 411.2,451.87 411.45,450.85 411.7,449.82 411.95,448.79 412.2,447.76 412.45,446.73 412.7,445.69 412.95,444.66 413.2,443.62 413.45,442.59 413.7,441.56 413.95,440.52 414.2,439.49 414.45,438.46 414.7,437.43 414.95,436.4 415.2,435.38 415.45,434.36 415.7,433.34 415.95,432.32 416.2,431.31 416.45,430.3 416.7,429.29 416.95,428.29 417.2,427.3 417.45,426.31 417.7,425.32 417.95,424.34 418.2,423.37 418.45,422.41 418.7,421.45 418.95,420.5 419.2,419.55 419.45,418.61 419.7,417.69 419.95,416.77 420.2,415.85 420.45,414.95 420.7,414.06 420.95,413.18 421.2,412.3 421.45,411.44 421.7,410.59 421.95,409.75 422.2,408.92 422.45,408.1 422.7,407.29 422.95,406.49 423.2,405.7 423.45,404.92 423.7,404.15 423.95,403.39 424.2,402.64 424.45,401.9 424.7,401.17 424.95,400.45 425.2,399.74 425.45,399.04 425.7,398.34 425.95,397.66 426.2,396.99 426.45,396.32 426.7,395.67 426.95,395.02 427.2,394.39 427.45,393.76 427.7,393.14 427.95,392.53 428.2,391.93 428.45,391.33 428.7,390.75 428.95,390.17 429.2,389.61 429.45,389.05 429.7,388.5 429.95,387.95 430.2,387.42 430.45,386.89 430.7,386.37 430.95,385.86 431.2,385.36 431.45,384.86 431.7,384.37 431.95,383.89 432.2,383.42 432.45,382.95 432.7,382.49 432.95,382.04 433.2,381.6 433.45,381.16 433.7,380.73 433.95,380.31 434.2,379.89 434.45,379.48 434.7,379.08 434.95,378.68 435.2,378.29 435.45,377.91 435.7,377.53 435.95,377.16 436.2,376.79 436.45,376.44 436.7,376.08 436.95,375.74 437.2,375.4 437.45,375.06 437.7,374.73 437.95,374.41 438.2,374.09 438.45,373.78 438.7,373.48 438.95,373.18 439.2,372.88 439.45,372.59 439.7,372.3 439.95,372.02 440,371.97 441,370.9 442,369.91 443,368.99 444,368.13 445,367.34 446,366.6 447,365.92 448,365.29 449,364.71 450,364.17 451,363.67 452,363.21 453,362.79 454,362.4 455,362.03 456,361.69 457,361.37 458,361.07 459,360.78 460,360.51 461,360.24 462,359.97 463,359.71 464,359.45 465,359.19 466,358.93 467,358.68 468,358.43 469,358.18 470,357.94 471,357.69 472,357.45 473,357.21 474,356.98 475,356.75 476,356.51 477,356.29 478,356.06 479,355.84 480,355.61 481,355.39 482,355.18 483,354.96 484,354.75 485,354.54 486,354.33 487,354.13 488,353.92 489,353.72 490,353.52 491,353.33 492,353.13 493,352.94 494,352.75 495,352.56 496,352.37 497,352.19 498,352.01 499,351.83 500,351.65 501,351.47 502,351.3 503,351.13 504,350.96 505,350.79 506,350.62 507,350.46 508,350.29 509,350.13 510,349.98 511,349.82 512,349.66 513,349.51 514,349.36 515,349.21 516,349.06 517,348.92 518,348.77 519,348.63 520,348.49 521,348.35 522,348.22 523,348.08 524,347.95 525,347.81 526,347.68 527,347.56 528,347.43 529,347.3 530,347.18 531,347.06 532,346.94 533,346.82 534,346.7 535,346.58 536,346.47 537,346.36 538,346.25 539,346.14 540,346.03 541,345.92 542,345.81 543,345.71 544,345.61 545,345.51 546,345.41 547,345.31 548,345.21 549,345.11 550,345.02 551,344.93 552,344.83 553,344.74 554,344.65 555,344.56 556,344.48 557,344.39 558,344.31 559,344.22 560,344.14 561,344.06 562,343.98 563,343.9 564,343.82 565,343.74 566,343.67 567,343.59 568,343.52 569,343.45 570,343.38 571,343.31 572,343.24 573,343.17 574,343.1 575,343.03 576,342.97 577,342.9 578,342.84 579,342.78 580,342.71 581,342.65 582,342.59 583,342.53 584,342.47 585,342.42 586,342.36 587,342.3 588,342.25 589,342.19 590,342.14 591,342.09 592,342.03 593,341.98 594,341.93 595,341.88 596,341.83 597,341.78 598,341.73 599,341.68 600,341.63 601,341.59 602,341.54 603,341.5 604,341.45 605,341.41 606,341.36 607,341.32 608,341.27 609,341.23 610,341.19 611,341.15 612,341.1 613,341.06 614,341.02 615,340.98 616,340.94 617,340.9 618,340.86 619,340.82 620,340.78 621,340.75 622,340.71 623,340.67 624,340.63 625,340.59 626,340.56 627,340.52 628,340.48 629,340.45 630,340.41 631,340.37 632,340.34 633,340.3 634,340.26 635,340.23 636,340.19 637,340.16 638,340.12 639,340.08 640,340.05 641,340.01 642,339.98 643,339.94 644,339.91 645,339.87" fill="none" stroke="#888" stroke-width="3.6" stroke-linejoin="round" opacity="1"/>
</g>
<rect x="391.2" y="319.8" width="252.4" height="205" fill="none" stroke="#2b2b2b" stroke-width="1.1"/>
<line x1="387" y1="494" x2="391.2" y2="494" stroke="#2b2b2b" stroke-width="1.1"/>
<text x="383.5" y="497.9" font-size="12" text-anchor="end" font-weight="normal" >0.04</text>
<line x1="387" y1="453" x2="391.2" y2="453" stroke="#2b2b2b" stroke-width="1.1"/>
<text x="383.5" y="456.9" font-size="12" text-anchor="end" font-weight="normal" >0.08</text>
<line x1="387" y1="412" x2="391.2" y2="412" stroke="#2b2b2b" stroke-width="1.1"/>
<text x="383.5" y="415.9" font-size="12" text-anchor="end" font-weight="normal" >0.12</text>
<line x1="387" y1="371" x2="391.2" y2="371" stroke="#2b2b2b" stroke-width="1.1"/>
<text x="383.5" y="374.9" font-size="12" text-anchor="end" font-weight="normal" >0.16</text>
<line x1="387" y1="330" x2="391.2" y2="330" stroke="#2b2b2b" stroke-width="1.1"/>
<text x="383.5" y="333.9" font-size="12" text-anchor="end" font-weight="normal" >0.20</text>
<line x1="388.9" y1="514.5" x2="391.2" y2="514.5" stroke="#2b2b2b" stroke-width="1.1"/>
<line x1="388.9" y1="473.5" x2="391.2" y2="473.5" stroke="#2b2b2b" stroke-width="1.1"/>
<line x1="388.9" y1="432.5" x2="391.2" y2="432.5" stroke="#2b2b2b" stroke-width="1.1"/>
<line x1="388.9" y1="391.5" x2="391.2" y2="391.5" stroke="#2b2b2b" stroke-width="1.1"/>
<line x1="388.9" y1="350.5" x2="391.2" y2="350.5" stroke="#2b2b2b" stroke-width="1.1"/>
<line x1="400.7" y1="524.8" x2="400.7" y2="529" stroke="#2b2b2b" stroke-width="1.1"/>
<text x="400.7" y="541" font-size="12" text-anchor="middle" font-weight="normal" >0</text>
<line x1="449.28" y1="524.8" x2="449.28" y2="529" stroke="#2b2b2b" stroke-width="1.1"/>
<text x="449.28" y="541" font-size="12" text-anchor="middle" font-weight="normal" >5</text>
<line x1="497.86" y1="524.8" x2="497.86" y2="529" stroke="#2b2b2b" stroke-width="1.1"/>
<text x="497.86" y="541" font-size="12" text-anchor="middle" font-weight="normal" >10</text>
<line x1="546.44" y1="524.8" x2="546.44" y2="529" stroke="#2b2b2b" stroke-width="1.1"/>
<text x="546.44" y="541" font-size="12" text-anchor="middle" font-weight="normal" >15</text>
<line x1="595.02" y1="524.8" x2="595.02" y2="529" stroke="#2b2b2b" stroke-width="1.1"/>
<text x="595.02" y="541" font-size="12" text-anchor="middle" font-weight="normal" >20</text>
<line x1="643.6" y1="524.8" x2="643.6" y2="529" stroke="#2b2b2b" stroke-width="1.1"/>
<text x="643.6" y="541" font-size="12" text-anchor="middle" font-weight="normal" >25</text>
<line x1="424.99" y1="524.8" x2="424.99" y2="527.1" stroke="#2b2b2b" stroke-width="1.1"/>
<line x1="473.57" y1="524.8" x2="473.57" y2="527.1" stroke="#2b2b2b" stroke-width="1.1"/>
<line x1="522.15" y1="524.8" x2="522.15" y2="527.1" stroke="#2b2b2b" stroke-width="1.1"/>
<line x1="570.73" y1="524.8" x2="570.73" y2="527.1" stroke="#2b2b2b" stroke-width="1.1"/>
<line x1="619.31" y1="524.8" x2="619.31" y2="527.1" stroke="#2b2b2b" stroke-width="1.1"/>
<text x="522" y="563.6" font-size="14.6" text-anchor="middle" font-weight="normal" >Time (s)</text>
<text x="402.5" y="304.6" font-size="16" text-anchor="middle" font-weight="bold" >d</text>
<text transform="translate(346.2,455.8) rotate(-90)" font-size="14">Abs<tspan font-size="8.5" dx="2.5" dy="5">440 nm</tspan></text>
</svg>
</body></html>
